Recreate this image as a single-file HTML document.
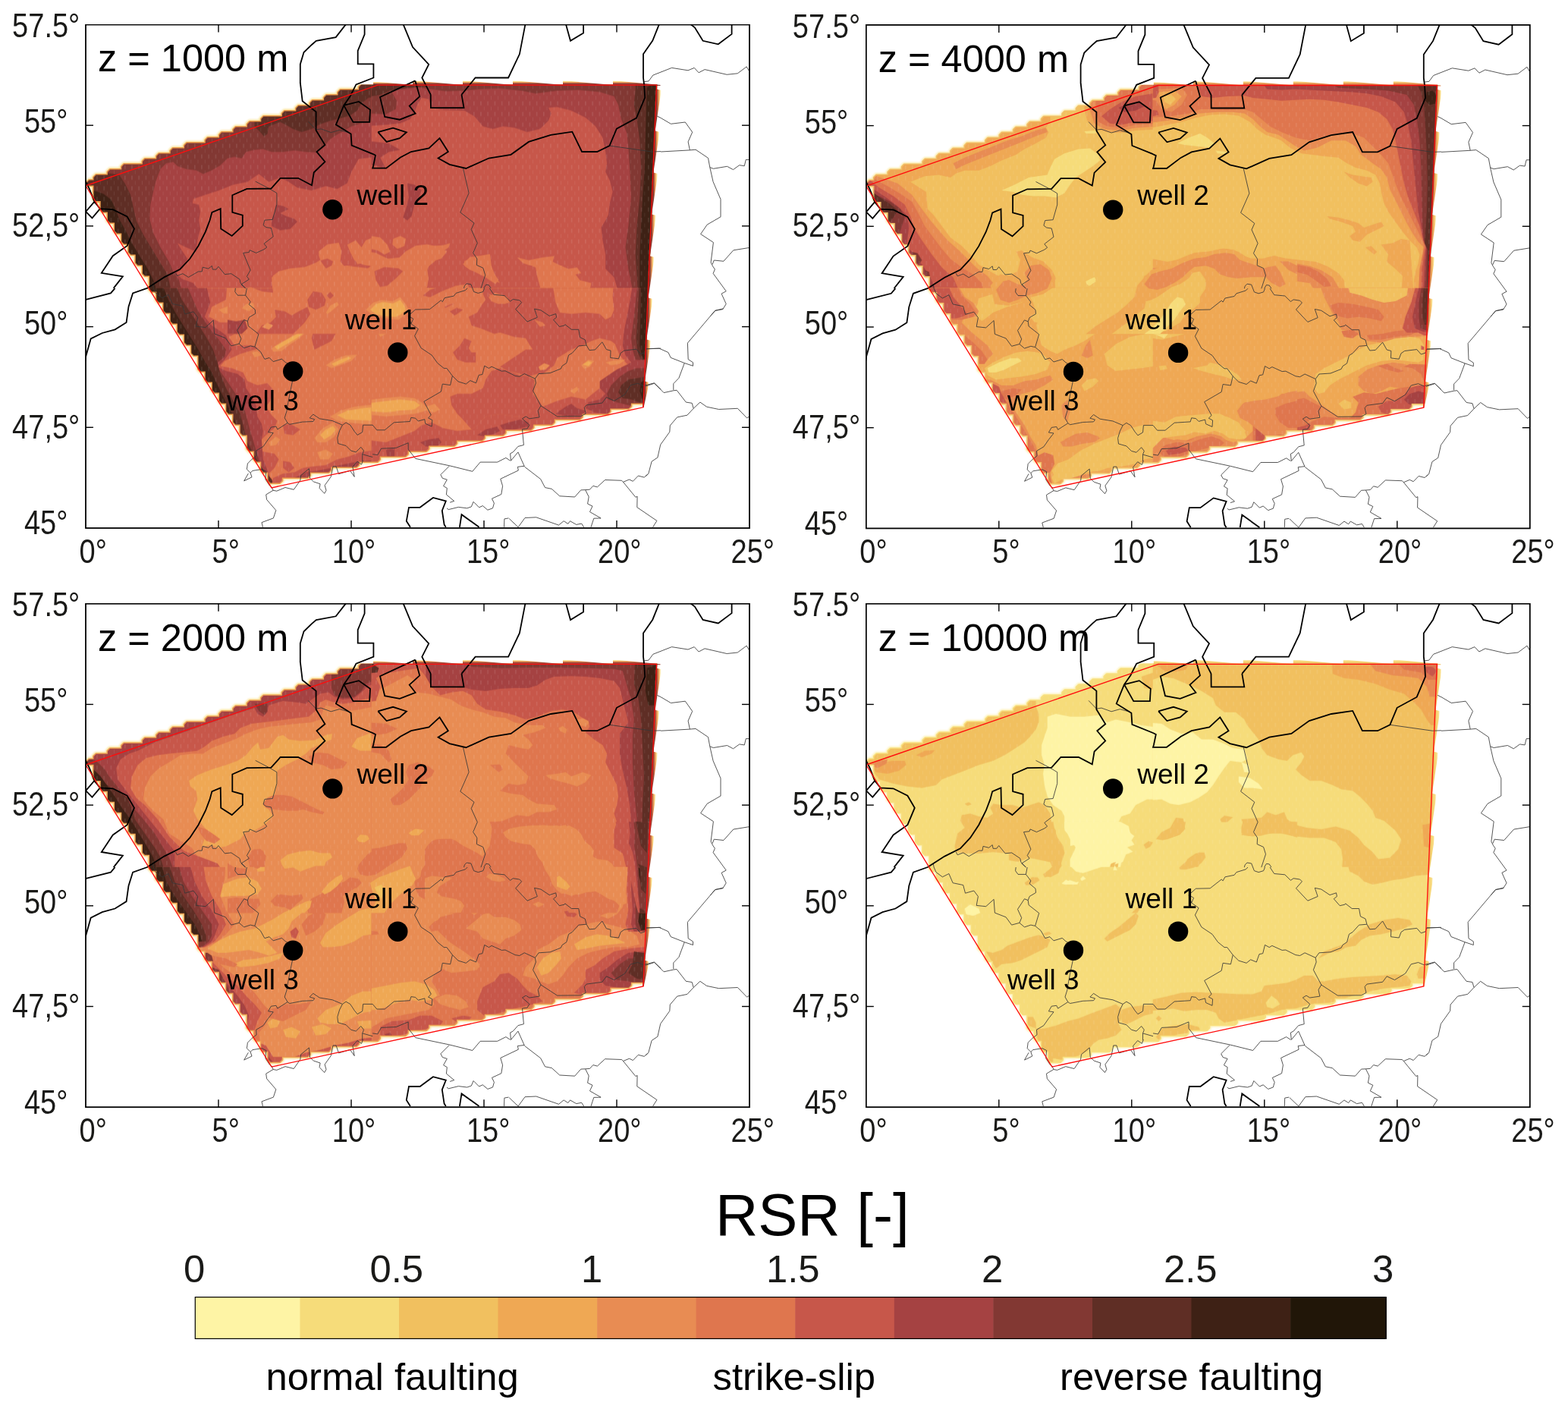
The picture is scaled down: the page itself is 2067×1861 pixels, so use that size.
<!DOCTYPE html>
<html lang="en"><head><meta charset="utf-8"><title>RSR maps</title>
<style>html,body{margin:0;padding:0;background:#fff}body{width:2067px;height:1861px;overflow:hidden}svg{display:block}text{font-family:"Liberation Sans",Arial,Helvetica,sans-serif;fill:#1a1a18}.tk{font-size:44px}.ti{font-size:50.5px;fill:#000}.wl{font-size:37px;fill:#000}.cb{font-size:50.8px}.coast{fill:none;stroke:#000;stroke-width:1.8;stroke-linejoin:miter}.bord{fill:none;stroke:#383838;stroke-width:0.85;stroke-linejoin:miter}.frame{fill:none;stroke:#000;stroke-width:1.8}.tick{stroke:#000;stroke-width:1.4}</style></head><body>
<svg xmlns="http://www.w3.org/2000/svg" width="2067" height="1861" viewBox="0 0 2067 1861">
<rect width="2067" height="1861" fill="#fff"/>
<g transform="translate(113 32.5)">
<clipPath id="cp1"><rect x="0" y="0" width="875" height="663.5"/></clipPath>
<g clip-path="url(#cp1)">
<filter id="bl1" x="-5%" y="-5%" width="110%" height="110%"><feGaussianBlur stdDeviation="0.7"/></filter>
<filter id="bh1" x="-5%" y="-5%" width="110%" height="110%"><feGaussianBlur stdDeviation="1.1"/></filter>
<clipPath id="hp1"><polygon points="-60,78.9 753.4,78.9 727,720 -60,720"/></clipPath>
<mask id="mk1" maskUnits="userSpaceOnUse" x="-20" y="-20" width="915" height="703.5"><g clip-path="url(#hp1)"><path d="M381.6 72L378.5 75.2L378.5 79L363.2 79L360.1 82.2L360.1 86L335.6 86L332.5 89.2L332.5 93L317.2 93L314.1 96.2L314.1 100L298.8 100L295.7 103.2L295.7 107L280.4 107L277.3 110.2L277.3 114L262 114L258.9 117.2L258.9 121L234.4 121L231.3 124.2L231.3 128L216.1 128L212.9 131.2L212.9 135L197.7 135L194.5 138.2L194.5 142L179.2 142L176.1 145.2L176.1 149L160.8 149L157.7 152.2L157.7 156L133.2 156L130.1 159.2L130.1 163L114.8 163L111.7 166.2L111.7 170L96.5 170L93.3 173.2L93.3 177L78 177L74.9 180.2L74.9 184L50.4 184L47.3 187.2L47.3 191L32 191L28.9 194.2L28.9 198L13.7 198L10.5 201.2L10.5 205L4.5 205L1.3 208.2L1.3 208.8L4.5 212L10.5 212L10.5 219L10.5 226L10.5 229.8L13.7 233L19.7 233L19.7 240L19.7 243.8L22.8 247L28.9 247L28.9 254L28.9 257.9L32 261L38.1 261L38.1 268L38.1 271.9L41.2 275L47.3 275L47.3 282L47.3 285.9L50.4 289L56.5 289L56.5 296L56.5 299.9L59.6 303L65.7 303L65.7 310L65.7 313.9L68.8 317L74.9 317L74.9 324L74.9 327.9L78 331L84.1 331L84.1 338L84.1 345L84.1 348.9L87.2 352L93.3 352L93.3 359L93.3 362.9L96.5 366L102.5 366L102.5 373L102.5 376.9L105.6 380L111.7 380L111.7 387L111.7 390.9L114.8 394L120.9 394L120.9 401L120.9 404.9L124 408L130.1 408L130.1 415L130.1 418.9L133.2 422L139.3 422L139.3 429L139.3 432.9L142.5 436L148.5 436L148.5 443L148.5 450L148.5 453.9L151.7 457L157.7 457L157.7 464L157.7 467.9L160.8 471L166.9 471L166.9 478L166.9 481.9L170.1 485L176.1 485L176.1 492L176.1 495.9L179.2 499L185.3 499L185.3 506L185.3 509.9L188.5 513L194.5 513L194.5 520L194.5 523.9L197.7 527L203.7 527L203.7 534L203.7 537.9L206.8 541L212.9 541L212.9 548L212.9 555L212.9 558.9L216.1 562L222.1 562L222.1 569L222.1 572.9L225.2 576L231.3 576L231.3 583L231.3 586.9L234.4 590L240.5 590L240.5 597L240.5 600.9L243.7 604L255.7 604L258.9 600.9L258.9 597L292.6 597L295.7 593.9L295.7 590L320.2 590L323.3 586.9L323.3 583L356.9 583L360.1 579.9L360.1 576L384.6 576L387.7 572.9L387.7 569L421.4 569L424.5 565.9L424.5 562L448.9 562L452.1 558.9L452.1 555L485.8 555L488.9 551.9L488.9 548L522.5 548L525.7 544.9L525.7 541L550.1 541L553.3 537.9L553.3 534L586.9 534L590.1 530.9L590.1 527L614.5 527L617.7 523.9L617.7 520L651.3 520L654.5 516.9L654.5 513L688.1 513L691.3 509.9L691.3 506L715.7 506L718.9 502.9L718.9 499L743.3 499L746.5 495.9L746.5 492L746.5 485L746.5 478L746.5 471L746.5 464L746.5 457L746.5 450L746.5 443L746.5 436L746.5 429L746.5 422L746.5 415L746.5 408L746.5 401L746.5 394L746.5 387L746.5 380L746.5 373L746.5 366L746.5 359L746.5 352L752.5 352L755.7 348.9L755.7 345L755.7 338L755.7 331L755.7 324L755.7 317L755.7 310L755.7 303L755.7 296L755.7 289L755.7 282L755.7 275L755.7 268L755.7 261L755.7 254L755.7 247L755.7 240L755.7 233L755.7 226L755.7 219L755.7 212L755.7 205L755.7 198L755.7 191L755.7 184L755.7 177L755.7 170L755.7 163L755.7 156L755.7 149L755.7 142L755.7 135L755.7 128L761.7 128L764.9 124.8L764.9 121L764.9 114L764.9 107L764.9 100L764.9 93L764.9 86L764.9 79L764.9 75.2L761.7 72Z" fill="#fff" filter="url(#bl1)"/></g></mask>
<pattern id="tx1" width="9.2" height="14" patternUnits="userSpaceOnUse" x="1.3" y="2"><rect x="4" y="1" width="1" height="5.5" fill="#fff" opacity="0.16"/><rect x="8.6" y="8" width="1" height="5" fill="#fff" opacity="0.13"/></pattern>
<g clip-path="url(#hp1)"><path d="M381.6 72L378.5 75.2L378.5 79L363.2 79L360.1 82.2L360.1 86L335.6 86L332.5 89.2L332.5 93L317.2 93L314.1 96.2L314.1 100L298.8 100L295.7 103.2L295.7 107L280.4 107L277.3 110.2L277.3 114L262 114L258.9 117.2L258.9 121L234.4 121L231.3 124.2L231.3 128L216.1 128L212.9 131.2L212.9 135L197.7 135L194.5 138.2L194.5 142L179.2 142L176.1 145.2L176.1 149L160.8 149L157.7 152.2L157.7 156L133.2 156L130.1 159.2L130.1 163L114.8 163L111.7 166.2L111.7 170L96.5 170L93.3 173.2L93.3 177L78 177L74.9 180.2L74.9 184L50.4 184L47.3 187.2L47.3 191L32 191L28.9 194.2L28.9 198L13.7 198L10.5 201.2L10.5 205L4.5 205L1.3 208.2L1.3 208.8L4.5 212L10.5 212L10.5 219L10.5 226L10.5 229.8L13.7 233L19.7 233L19.7 240L19.7 243.8L22.8 247L28.9 247L28.9 254L28.9 257.9L32 261L38.1 261L38.1 268L38.1 271.9L41.2 275L47.3 275L47.3 282L47.3 285.9L50.4 289L56.5 289L56.5 296L56.5 299.9L59.6 303L65.7 303L65.7 310L65.7 313.9L68.8 317L74.9 317L74.9 324L74.9 327.9L78 331L84.1 331L84.1 338L84.1 345L84.1 348.9L87.2 352L93.3 352L93.3 359L93.3 362.9L96.5 366L102.5 366L102.5 373L102.5 376.9L105.6 380L111.7 380L111.7 387L111.7 390.9L114.8 394L120.9 394L120.9 401L120.9 404.9L124 408L130.1 408L130.1 415L130.1 418.9L133.2 422L139.3 422L139.3 429L139.3 432.9L142.5 436L148.5 436L148.5 443L148.5 450L148.5 453.9L151.7 457L157.7 457L157.7 464L157.7 467.9L160.8 471L166.9 471L166.9 478L166.9 481.9L170.1 485L176.1 485L176.1 492L176.1 495.9L179.2 499L185.3 499L185.3 506L185.3 509.9L188.5 513L194.5 513L194.5 520L194.5 523.9L197.7 527L203.7 527L203.7 534L203.7 537.9L206.8 541L212.9 541L212.9 548L212.9 555L212.9 558.9L216.1 562L222.1 562L222.1 569L222.1 572.9L225.2 576L231.3 576L231.3 583L231.3 586.9L234.4 590L240.5 590L240.5 597L240.5 600.9L243.7 604L255.7 604L258.9 600.9L258.9 597L292.6 597L295.7 593.9L295.7 590L320.2 590L323.3 586.9L323.3 583L356.9 583L360.1 579.9L360.1 576L384.6 576L387.7 572.9L387.7 569L421.4 569L424.5 565.9L424.5 562L448.9 562L452.1 558.9L452.1 555L485.8 555L488.9 551.9L488.9 548L522.5 548L525.7 544.9L525.7 541L550.1 541L553.3 537.9L553.3 534L586.9 534L590.1 530.9L590.1 527L614.5 527L617.7 523.9L617.7 520L651.3 520L654.5 516.9L654.5 513L688.1 513L691.3 509.9L691.3 506L715.7 506L718.9 502.9L718.9 499L743.3 499L746.5 495.9L746.5 492L746.5 485L746.5 478L746.5 471L746.5 464L746.5 457L746.5 450L746.5 443L746.5 436L746.5 429L746.5 422L746.5 415L746.5 408L746.5 401L746.5 394L746.5 387L746.5 380L746.5 373L746.5 366L746.5 359L746.5 352L752.5 352L755.7 348.9L755.7 345L755.7 338L755.7 331L755.7 324L755.7 317L755.7 310L755.7 303L755.7 296L755.7 289L755.7 282L755.7 275L755.7 268L755.7 261L755.7 254L755.7 247L755.7 240L755.7 233L755.7 226L755.7 219L755.7 212L755.7 205L755.7 198L755.7 191L755.7 184L755.7 177L755.7 170L755.7 163L755.7 156L755.7 149L755.7 142L755.7 135L755.7 128L761.7 128L764.9 124.8L764.9 121L764.9 114L764.9 107L764.9 100L764.9 93L764.9 86L764.9 79L764.9 75.2L761.7 72Z" fill="#fbe6a0" stroke="#fbe6a0" stroke-width="6" stroke-linejoin="round" filter="url(#bh1)"/><path d="M381.6 72L378.5 75.2L378.5 79L363.2 79L360.1 82.2L360.1 86L335.6 86L332.5 89.2L332.5 93L317.2 93L314.1 96.2L314.1 100L298.8 100L295.7 103.2L295.7 107L280.4 107L277.3 110.2L277.3 114L262 114L258.9 117.2L258.9 121L234.4 121L231.3 124.2L231.3 128L216.1 128L212.9 131.2L212.9 135L197.7 135L194.5 138.2L194.5 142L179.2 142L176.1 145.2L176.1 149L160.8 149L157.7 152.2L157.7 156L133.2 156L130.1 159.2L130.1 163L114.8 163L111.7 166.2L111.7 170L96.5 170L93.3 173.2L93.3 177L78 177L74.9 180.2L74.9 184L50.4 184L47.3 187.2L47.3 191L32 191L28.9 194.2L28.9 198L13.7 198L10.5 201.2L10.5 205L4.5 205L1.3 208.2L1.3 208.8L4.5 212L10.5 212L10.5 219L10.5 226L10.5 229.8L13.7 233L19.7 233L19.7 240L19.7 243.8L22.8 247L28.9 247L28.9 254L28.9 257.9L32 261L38.1 261L38.1 268L38.1 271.9L41.2 275L47.3 275L47.3 282L47.3 285.9L50.4 289L56.5 289L56.5 296L56.5 299.9L59.6 303L65.7 303L65.7 310L65.7 313.9L68.8 317L74.9 317L74.9 324L74.9 327.9L78 331L84.1 331L84.1 338L84.1 345L84.1 348.9L87.2 352L93.3 352L93.3 359L93.3 362.9L96.5 366L102.5 366L102.5 373L102.5 376.9L105.6 380L111.7 380L111.7 387L111.7 390.9L114.8 394L120.9 394L120.9 401L120.9 404.9L124 408L130.1 408L130.1 415L130.1 418.9L133.2 422L139.3 422L139.3 429L139.3 432.9L142.5 436L148.5 436L148.5 443L148.5 450L148.5 453.9L151.7 457L157.7 457L157.7 464L157.7 467.9L160.8 471L166.9 471L166.9 478L166.9 481.9L170.1 485L176.1 485L176.1 492L176.1 495.9L179.2 499L185.3 499L185.3 506L185.3 509.9L188.5 513L194.5 513L194.5 520L194.5 523.9L197.7 527L203.7 527L203.7 534L203.7 537.9L206.8 541L212.9 541L212.9 548L212.9 555L212.9 558.9L216.1 562L222.1 562L222.1 569L222.1 572.9L225.2 576L231.3 576L231.3 583L231.3 586.9L234.4 590L240.5 590L240.5 597L240.5 600.9L243.7 604L255.7 604L258.9 600.9L258.9 597L292.6 597L295.7 593.9L295.7 590L320.2 590L323.3 586.9L323.3 583L356.9 583L360.1 579.9L360.1 576L384.6 576L387.7 572.9L387.7 569L421.4 569L424.5 565.9L424.5 562L448.9 562L452.1 558.9L452.1 555L485.8 555L488.9 551.9L488.9 548L522.5 548L525.7 544.9L525.7 541L550.1 541L553.3 537.9L553.3 534L586.9 534L590.1 530.9L590.1 527L614.5 527L617.7 523.9L617.7 520L651.3 520L654.5 516.9L654.5 513L688.1 513L691.3 509.9L691.3 506L715.7 506L718.9 502.9L718.9 499L743.3 499L746.5 495.9L746.5 492L746.5 485L746.5 478L746.5 471L746.5 464L746.5 457L746.5 450L746.5 443L746.5 436L746.5 429L746.5 422L746.5 415L746.5 408L746.5 401L746.5 394L746.5 387L746.5 380L746.5 373L746.5 366L746.5 359L746.5 352L752.5 352L755.7 348.9L755.7 345L755.7 338L755.7 331L755.7 324L755.7 317L755.7 310L755.7 303L755.7 296L755.7 289L755.7 282L755.7 275L755.7 268L755.7 261L755.7 254L755.7 247L755.7 240L755.7 233L755.7 226L755.7 219L755.7 212L755.7 205L755.7 198L755.7 191L755.7 184L755.7 177L755.7 170L755.7 163L755.7 156L755.7 149L755.7 142L755.7 135L755.7 128L761.7 128L764.9 124.8L764.9 121L764.9 114L764.9 107L764.9 100L764.9 93L764.9 86L764.9 79L764.9 75.2L761.7 72Z" fill="#eea050" stroke="#eea050" stroke-width="3" stroke-linejoin="round" filter="url(#bl1)"/></g>
<linearGradient id="gt1" x1="0" y1="0" x2="0" y2="1"><stop offset="0" stop-color="#fff3b0" stop-opacity="0"/><stop offset="0.2" stop-color="#f8d878" stop-opacity="0.9"/><stop offset="0.4" stop-color="#e08850"/><stop offset="0.6" stop-color="#8a4038"/><stop offset="1" stop-color="#8a4038"/></linearGradient>
<linearGradient id="gr1" x1="0" y1="0" x2="1" y2="0"><stop offset="0" stop-color="#8a4038"/><stop offset="0.4" stop-color="#8a4038"/><stop offset="0.6" stop-color="#e08850"/><stop offset="0.8" stop-color="#f8d878" stop-opacity="0.9"/><stop offset="1" stop-color="#fff3b0" stop-opacity="0"/></linearGradient>
<path d="M379 80.6 L379 74.9 L431 79.6 L431 80.6Z" fill="url(#gt1)"/>
<path d="M431 80.6 L431 73.6 L497 79.6 L497 80.6Z" fill="url(#gt1)"/>
<path d="M497 80.6 L497 73.6 L563 79.6 L563 80.6Z" fill="url(#gt1)"/>
<path d="M563 80.6 L563 73.6 L629 79.6 L629 80.6Z" fill="url(#gt1)"/>
<path d="M629 80.6 L629 73.6 L695 79.6 L695 80.6Z" fill="url(#gt1)"/>
<path d="M695 80.6 L695 73.6 L757.5 79.5 L757.5 80.6Z" fill="url(#gt1)"/>
<path d="M751.3 84.6 L758.8 86.6 L750.7 139.6 L749 139.6Z" fill="url(#gr1)"/>
<path d="M749 139.6 L756.5 141.6 L748.4 194.6 L746.8 194.6Z" fill="url(#gr1)"/>
<path d="M746.8 194.6 L754.3 196.6 L746.1 249.6 L744.5 249.6Z" fill="url(#gr1)"/>
<path d="M744.5 249.6 L752 251.6 L743.9 304.6 L742.2 304.6Z" fill="url(#gr1)"/>
<path d="M742.2 304.6 L749.7 306.6 L741.6 359.6 L740 359.6Z" fill="url(#gr1)"/>
<path d="M740 359.6 L747.5 361.6 L739.3 414.6 L737.7 414.6Z" fill="url(#gr1)"/>
<path d="M737.7 414.6 L745.2 416.6 L737.1 469.6 L735.4 469.6Z" fill="url(#gr1)"/>
<path d="M735.4 469.6 L742.9 471.6 L735.6 504.3 L734 504.3Z" fill="url(#gr1)"/>
<g mask="url(#mk1)">
<clipPath id="q1_0"><rect x="-13.3" y="63.2" width="390.6" height="284.6"/></clipPath>
<g clip-path="url(#q1_0)">
<rect x="-14" y="62.5" width="392" height="286" fill="#c7574a"/>
<polygon points="156.7,358.8 141.7,340.6 126.7,335 119.2,327.5 128.6,319.9 134.2,308.7 126.7,297.4 121,288 128.6,291.7 145.5,299.3 147.3,284.2 151.1,269.2 149.2,257.9 151.1,246.6 149.2,237.2 140.8,235.4 141.7,229.7 158.6,224.1 175.5,218.4 194.3,210.9 213.1,207.2 228.2,196.8 241.3,207.2 256.3,201.5 267.6,207.2 278.9,214.7 297.7,218.4 316.5,212.8 331.5,216.6 344.7,209.1 350.3,194 359.7,177.1 388.3,173.3 388.3,62.5 -14.3,62.5 -14.3,358.8" fill="#a54242"/>
<polygon points="128.6,358.8 122.9,336.8 115.4,325.6 109.8,312.4 98.5,293.6 89.1,274.8 84.4,256 85.3,237.2 89.1,220.3 92.8,205.3 98.5,190.3 106,182.7 115.4,180.9 121,186.5 132.3,190.3 145.5,192.1 154.9,196.8 166.1,192.1 177.4,185.6 186.8,176.2 196.2,174.3 205.6,176.2 211.2,167.7 222.5,164.9 233.8,163.9 245.1,167.7 260.1,167.7 275.1,165.8 290.2,167.7 305.2,168.6 314.6,160.2 320.2,152.7 327.8,147 340.9,139.5 350.3,133.9 363.5,130.1 388.3,127.3 388.3,62.5 -14.3,62.5 -14.3,358.8" fill="#823833"/>
<polygon points="114.5,358.8 107.9,329.3 98.5,314.3 87.2,295.5 75.9,276.7 66.5,257.9 62.8,241 59,224.1 51.5,209.1 44,197.8 -14.3,190.3 -14.3,358.8" fill="#5f2e25"/>
<polygon points="222.5,133.9 230,141.4 234.7,147 239.4,144.2 241.3,133.9 256.3,128.2 263.9,132 273.3,137.6 284.5,141.4 297.7,137.6 307.1,132 320.2,127.3 335.3,123.5 348.4,119.8 357.8,113.2 363.5,103.8 372.9,96.3 388.3,94.4 388.3,62.5 222.5,62.5" fill="#5f2e25"/>
<polygon points="1.1,212.4 10.2,218.4 23.3,223.1 33.6,230.7 39.3,242.9 44,256 53.4,273 60.9,288 72.2,306.8 81.6,321.8 89.1,336.8 96.6,358.8 -14.3,358.8 -14.3,209.1" fill="#3e2115"/>
<polygon points="307.1,299.3 320.2,291.7 333.4,288 337.2,299.3 331.5,310.5 324,312.4 316.5,319.9 310.8,310.5" fill="#df764e"/>
<polygon points="344.7,289.9 356,284.2 363.5,293.6 369.1,284.2 388.3,276.7 388.3,321.8 365.3,316.2 354.1,310.5 348.4,299.3" fill="#df764e"/>
<polygon points="245.1,333.1 260.1,325.6 278.9,321.8 297.7,319.9 312.7,312.4 316.5,321.8 327.8,319.9 344.7,318.1 363.5,319.9 388.3,323.7 388.3,358.8 247,358.8" fill="#df764e"/>
<polygon points="250.7,237.2 260.1,239.1 267.6,242.9 260.1,246.6 256.3,248.5 263.9,252.3 275.1,256 278.9,259.8 269.5,269.2 256.3,271.1 245.1,265.4 245.1,256 248.8,248.5" fill="#a54242"/>
</g>
<clipPath id="q1_1"><rect x="376.7" y="63.2" width="390.6" height="284.6"/></clipPath>
<g clip-path="url(#q1_1)">
<rect x="376" y="62.5" width="392" height="286" fill="#c7574a"/>
<polygon points="365.7,62.5 365.7,133.9 395.8,132 414.6,130.1 427.7,124.5 433.4,115.1 437.1,105.7 442.8,96.3 452.2,98.2 455.9,109.4 471,112.3 499.2,113.2 512.3,120.7 523.6,133.9 536.7,137.6 549.9,133.9 564.9,135.8 581.8,141.4 598.8,137.6 610,126.4 613.8,117 610,109.4 621.3,108.5 640.1,113.2 658.9,122.6 672.1,133.9 681.5,148.9 685.2,167.7 687.1,182.7 685.2,194 690.8,205.3 694.6,220.3 690.8,235.4 689,250.4 685.2,257.9 679.6,267.3 681.5,284.2 685.2,303 685.2,321.8 696.5,333.1 704,358.8 768.3,358.8 768.3,62.5" fill="#a54242"/>
<polygon points="365.7,152.7 399.6,156.4 414.6,164.9 399.6,167.7 388.3,175.2 395.8,190.3 384.5,186.5 365.7,182.7" fill="#a54242"/>
<polygon points="424,209.1 433.4,210.9 442.8,218.4 439,227.8 433.4,237.2 429.6,252.3 424,257.9 418.3,254.2 422.1,242.9 425.9,227.8" fill="#a54242"/>
<polygon points="365.7,62.5 365.7,117 395.8,117.9 408.9,111.3 409.9,100.1 403.3,88.8 414.6,85 439,83.1 455.9,85 474.7,87.8 497.3,86.9 517.9,85 546.1,84.1 574.3,86.9 593.1,90.7 621.3,86.9 649.5,86 677.7,88.8 696.5,94.4 702.1,105.7 705.9,124.5 713.4,143.3 715.3,162.1 717.2,190.3 719,227.8 715.3,265.4 711.5,293.6 715.3,321.8 722.8,358.8 768.3,358.8 768.3,62.5" fill="#823833"/>
<polygon points="724.7,85 722.8,105.7 726.6,124.5 730.3,152.7 732.2,190.3 730.3,227.8 726.6,265.4 724.7,303 728.4,358.8 768.3,358.8 768.3,62.5 724.7,62.5" fill="#5f2e25"/>
<polygon points="365.7,62.5 365.7,96.3 388.3,92.5 401.4,86.9 424,83.1 448.4,81.3 448.4,62.5" fill="#5f2e25"/>
<polygon points="739.7,83.1 738.8,115.1 737.8,152.7 736.9,190.3 734.1,227.8 732.2,265.4 730.3,303 730.3,358.8 768.3,358.8 768.3,62.5" fill="#3e2115"/>
<polygon points="365.7,276.7 388.3,280.5 397.7,289.9 401.4,299.3 393.9,303 384.5,297.4 365.7,293.6" fill="#df764e"/>
<polygon points="405.2,282.3 414.6,278.6 422.1,282.3 420.2,291.7 410.8,295.5 404.3,289.9" fill="#df764e"/>
<polygon points="365.7,310.5 395.8,308.7 414.6,306.8 424,299.3 437.1,293.6 455.9,291.7 471,290.8 480.4,288 478.5,293.6 465.3,303 459.7,312.4 452.2,318.1 448.4,327.5 442.8,340.6 437.1,358.8 401.4,358.8 408.9,336.8 418.3,325.6 405.2,319.9 388.3,319.9 365.7,323.7" fill="#df764e"/>
<polygon points="499.2,311.5 516.1,305.8 533,303 534.9,318.1 540.5,333.1 546.1,340.6 536.7,336.8 523.6,331.2 508.6,323.7 499.2,318.1" fill="#df764e"/>
<polygon points="568.7,306.8 583.7,310.5 602.5,306.8 617.6,304.9 615.7,312.4 627,318.1 636.3,321.8 647.6,319.9 653.3,327.5 645.7,329.3 651.4,336.8 666.4,340.6 662.7,358.8 602.5,358.8 595,331.2 593.1,319.9 576.2,314.3" fill="#df764e"/>
</g>
<clipPath id="q1_2"><rect x="-13.3" y="347.2" width="390.6" height="270.6"/></clipPath>
<g clip-path="url(#q1_2)">
<rect x="-14" y="346.5" width="392" height="272" fill="#df764e"/>
<polygon points="-14.3,332.5 187,332.5 184.9,362.5 166.1,371.9 162.4,385.1 177.4,392.6 200,392.6 203.7,403.9 188.7,411.4 196.2,422.7 218.8,422.7 228.2,426.4 203.7,433.9 183.1,443.3 177.4,449.9 192.5,452.7 207.5,458.4 213.1,469.7 226.3,475.3 239.4,472.5 247,480.9 243.2,496 237.6,503.5 245.1,514.8 252.6,522.3 248.8,531.7 237.6,541.1 228.2,550.5 224.4,559.9 237.6,563.6 248.8,565.5 254.5,573 248.8,584.3 241.3,591.8 248.8,628.8 -14.3,628.8" fill="#c7574a"/>
<polygon points="-14.3,332.5 156.7,332.5 162.4,358.8 164.3,366.3 160.5,375.7 156.7,385.1 166.1,396.4 177.4,403.9 184.9,409.5 192.5,428.3 183.1,441.5 173.7,450.9 184.9,456.5 200,460.3 209.4,467.8 211.2,479.1 218.8,490.3 224.4,501.6 226.3,516.6 231.9,526 233.8,535.4 231.9,546.7 233.8,573 241.3,591.8 247,610.6 -14.3,628.8" fill="#a54242"/>
<polygon points="-14.3,332.5 128.6,332.5 139.8,358.8 147.3,375.7 153,385.1 166.1,403.9 175.5,415.2 184.9,428.3 183.1,437.7 173.7,445.2 175.5,454.6 184.9,467.8 192.5,479.1 200,490.3 209.4,507.2 216.9,535.4 222.5,554.2 228.2,573 231.9,584.3 245.1,599.3 248.8,610.6 -14.3,628.8" fill="#823833"/>
<polygon points="-14.3,332.5 114.5,332.5 126.7,362.5 137.9,379.4 149.2,396.4 158.6,411.4 168,428.3 173.7,445.2 177.4,460.3 184.9,479.1 194.3,496 203.7,512.9 209.4,535.4 213.1,550.5 225.3,573 233.8,586.2 245.1,599.3 248.8,610.6 -14.3,628.8" fill="#5f2e25"/>
<polygon points="-14.3,332.5 96.6,332.5 109.8,364.4 119.2,381.3 128.6,396.4 137.9,411.4 147.3,426.4 156.7,443.3 166.1,458.4 173.7,475.3 181.2,490.3 188.7,505.4 194.3,516.6 200.9,535.4 199,539.2 -14.3,628.8" fill="#3e2115"/>
<polygon points="247,597.5 260.1,591.8 275.1,589.9 286.4,584.3 297.7,582.4 316.5,580.5 331.5,573 346.6,569.3 361.6,563.6 388.3,559.9 388.3,628.8 241.3,628.8" fill="#c7574a"/>
<polygon points="275.1,597.5 290.2,589.9 305.2,588.1 324,584.3 335.3,580.5 354.1,576.8 388.3,573 388.3,628.8 260.1,628.8" fill="#a54242"/>
<polygon points="213.1,332.5 248.8,332.5 260.1,358.8 278.9,362.5 293.9,358.8 301.5,351.3 316.5,353.1 314.6,364.4 297.7,373.8 290.2,385.1 275.1,392.6 260.1,390.7 248.8,383.2 247,373.8 231.9,366.3 218.8,358.8" fill="#c7574a"/>
<polygon points="301.5,400.1 316.5,392.6 333.4,385.1 327.8,396.4 331.5,403.9 324,417 312.7,422.7 301.5,428.3 297.7,413.3" fill="#c7574a"/>
<polygon points="260.1,527.9 269.5,526 282.7,533.6 273.3,541.1 262,539.2" fill="#c7574a"/>
<polygon points="260.1,574.9 269.5,576.8 275.1,584.3 267.6,589.9 260.1,584.3" fill="#c7574a"/>
<polygon points="175.5,375.7 194.3,368.2 207.5,366.3 218.8,370.1 222.5,375.7 213.1,381.3 194.3,381.3 181.2,380.4" fill="#e88c53"/>
<polygon points="231.9,396.4 239.4,392.6 247,398.2 241.3,403.9 233.8,402.9" fill="#e88c53"/>
<polygon points="245.1,426.4 256.3,418.9 267.6,413.3 278.9,405.8 290.2,402 288.3,407.6 278.9,415.2 267.6,422.7 258.2,430.2 247,431.1" fill="#e88c53"/>
<polygon points="218.8,432.1 226.3,430.2 231.9,435.8 222.5,438.6" fill="#e88c53"/>
<polygon points="316.5,449 327.8,441.5 342.8,435.8 357.8,434.9 350.3,443.3 335.3,449 324,452.7" fill="#e88c53"/>
<polygon points="322.1,516.6 335.3,509.1 354.1,503.5 388.3,499.7 388.3,527.9 363.5,526 344.7,524.2 331.5,522.3" fill="#e88c53"/>
<polygon points="301.5,544.8 312.7,531.7 325.9,524.2 333.4,533.6 327.8,543 316.5,550.5 305.2,550.5" fill="#e88c53"/>
<polygon points="241.3,550.5 250.7,543 256.3,546.7 250.7,554.2 243.2,555.2" fill="#e88c53"/>
<polygon points="305.2,563.6 316.5,559.9 325.9,565.5 320.2,573 309,573" fill="#e88c53"/>
<polygon points="316.5,377.6 327.8,368.2 333.4,366.3 329.6,375.7 320.2,381.3" fill="#e88c53"/>
<polygon points="203.7,370.1 215,368.2 220.6,373.8 213.1,378.5 203.7,377.6" fill="#efa854"/>
<polygon points="248.8,424.6 260.1,418 271.4,411.4 282.7,405.8 286.4,407.6 275.1,415.2 263.9,421.7 252.6,428.3" fill="#efa854"/>
<polygon points="324,447.1 335.3,441.5 346.6,437.7 350.3,439.6 339,445.2 327.8,449.9" fill="#efa854"/>
<polygon points="331.5,514.8 344.7,509.1 363.5,505.4 388.3,503.5 388.3,522.3 359.7,521.3 342.8,520.4" fill="#efa854"/>
<polygon points="309,541.1 316.5,533.6 325.9,528.9 329.6,533.6 324,541.1 314.6,546.7" fill="#efa854"/>
</g>
<clipPath id="q1_3"><rect x="376.7" y="347.2" width="390.6" height="270.6"/></clipPath>
<g clip-path="url(#q1_3)">
<rect x="376" y="346.5" width="392" height="272" fill="#df764e"/>
<polygon points="442.8,358.8 455.9,353.1 474.7,349.4 489.8,332.5 504.8,332.5 501,351.3 486,356.9 471,362.5 455.9,362.5 444.7,362.5" fill="#c7574a"/>
<polygon points="472.8,371.9 482.2,368.2 493.5,366.3 489.8,373.8 497.3,375.7 489.8,381.3 486,383.2" fill="#c7574a"/>
<polygon points="523.6,332.5 768.3,332.5 768.3,422.7 700.2,422.7 692.7,417 677.7,413.3 666.4,417 655.1,422.7 640.1,428.3 630.7,433.9 621.3,439.6 617.6,449 602.5,460.3 595,460.3 583.7,464 572.5,460.3 557.4,456.5 546.1,450.9 557.4,443.3 568.7,435.8 580,428.3 589.4,428.3 585.6,422.7 580,413.3 564.9,411.4 546.1,405.8 538.6,407.6 519.8,400.1 508.6,396.4 504.8,385.1 516.1,379.4 521.7,370.1 527.3,362.5 523.6,355" fill="#c7574a"/>
<polygon points="613.8,332.5 696.5,332.5 694.6,358.8 696.5,375.7 692.7,385.1 685.2,388.8 677.7,381.3 658.9,379.4 640.1,381.3 625.1,379.4 619.4,366.3" fill="#df764e"/>
<polygon points="591.2,388.8 602.5,392.6 606.3,396.4 598.8,398.2" fill="#df764e"/>
<polygon points="531.1,355 546.1,358.8 557.4,366.3 551.8,368.2 538.6,366.3" fill="#df764e"/>
<polygon points="484.1,432.1 493.5,422.7 499.2,413.3 508.6,417 504.8,426.4 508.6,432.1 514.2,432.1 514.2,445.2 501,445.2 489.8,441.5" fill="#c7574a"/>
<polygon points="480.4,490.3 489.8,486.6 508.6,486.6 523.6,479.1 527.3,467.8 534.9,456.5 546.1,452.7 557.4,456.5 572.5,462.1 583.7,464 591.2,467.8 591.2,479.1 589.4,486.6 598.8,497.8 602.5,503.5 583.7,511 576.2,516.6 564.9,516.6 546.1,512.9 527.3,516.6 516.1,527.9 508.6,533.6 497.3,520.4 489.8,512.9 482.2,501.6" fill="#c7574a"/>
<polygon points="365.7,546.7 395.8,550.5 414.6,543 433.4,535.4 442.8,527.9 455.9,524.2 471,531.7 489.8,535.4 508.6,533.6 516.1,527.9 527.3,516.6 546.1,512.9 564.9,516.6 576.2,516.6 583.7,511 602.5,503.5 621.3,496 640.1,490.3 658.9,494.1 677.7,479.1 696.5,469.7 768.3,460.3 768.3,628.8 365.7,628.8" fill="#c7574a"/>
<polygon points="440.9,550.5 452.2,546.7 465.3,544.8 469.1,550.5 463.4,556.1 448.4,556.1" fill="#a54242"/>
<polygon points="395.8,559.9 407.1,558 407.1,569.3 397.7,571.1" fill="#a54242"/>
<polygon points="516.1,541.1 527.3,533.6 542.4,529.8 546.1,535.4 538.6,539.2 527.3,543" fill="#a54242"/>
<polygon points="546.1,527.9 557.4,524.2 572.5,520.4 583.7,524.2 583.7,529.8 564.9,533.6 549.9,533.6" fill="#a54242"/>
<polygon points="619.4,512.9 632.6,503.5 640.1,499.7 647.6,505.4 658.9,509.1 655.1,514.8 636.3,516.6" fill="#a54242"/>
<polygon points="704,332.5 700.2,366.3 696.5,385.1 694.6,403.9 698.4,422.7 704,435.8 713.4,447.1 768.3,447.1 768.3,332.5" fill="#c7574a"/>
<polygon points="722.8,332.5 715.3,375.7 709.6,403.9 707.8,422.7 711.5,435.8 719,445.2 768.3,445.2 768.3,332.5" fill="#a54242"/>
<polygon points="728.4,332.5 722.8,385.1 719,413.3 720.9,428.3 724.7,441.5 768.3,445.2 768.3,332.5" fill="#823833"/>
<polygon points="730.3,332.5 727.5,385.1 725.6,413.3 727.5,432.1 732.2,441.5 768.3,443.3 768.3,332.5" fill="#5f2e25"/>
<polygon points="732.2,332.5 731.3,385.1 730.3,422.7 733.1,435.8 736,441.5 768.3,441.5 768.3,332.5" fill="#3e2115"/>
<polygon points="735,504.2 707.8,507.2 687.1,512.9 670.2,511 658.9,505.4 662.7,497.8 677.7,494.1 685.2,486.6 677.7,479.1 677.7,469.7 689,462.1 700.2,454.6 711.5,449 722.8,443.3 737.8,441.5 768.3,441.5 768.3,516.6" fill="#a54242"/>
<polygon points="737.8,452.7 726.6,452.7 715.3,456.5 704,464 692.7,475.3 687.1,486.6 689,494.1 700.2,497.8 715.3,501.6 735,504.2 768.3,504.2 768.3,452.7" fill="#823833"/>
<polygon points="737.8,464 726.6,465.9 715.3,467.8 705.9,475.3 702.1,484.7 707.8,492.2 719,494.1 730.3,497.8 736,497.8 768.3,497.8 768.3,464" fill="#5f2e25"/>
<polygon points="737.8,467.8 732.2,471.5 730.3,482.8 734.1,494.1 737.8,496 768.3,496 768.3,467.8" fill="#3e2115"/>
<polygon points="365.7,368.2 392,366.3 414.6,358.8 424,370.1 418.3,379.4 414.6,392.6 407.1,403.9 395.8,407.6 388.3,411.4 382.6,402 365.7,400.1" fill="#e88c53"/>
<polygon points="365.7,496 392,492.2 414.6,490.3 433.4,492.2 442.8,497.8 448.4,503.5 459.7,499.7 467.2,507.2 459.7,511 448.4,509.1 433.4,512.9 414.6,514.8 395.8,516.6 365.7,512.9" fill="#e88c53"/>
<polygon points="653.3,449 662.7,441.5 670.2,443.3 664.5,450.9 657,453.7" fill="#e88c53"/>
<polygon points="685.2,445.2 696.5,442.4 711.5,441.5 704,447.1 692.7,449" fill="#e88c53"/>
<polygon points="638.2,482.8 647.6,477.2 649.5,480.9 643.9,486.6" fill="#e88c53"/>
<polygon points="596.9,450.9 604.4,446.2 611.9,449 606.3,454.6 598.8,455.6" fill="#e88c53"/>
<polygon points="380.8,371.9 395.8,368.2 412.7,364.4 418.3,371.9 412.7,383.2 405.2,396.4 393.9,402 386.4,403.9 382.6,394.5" fill="#efa854"/>
<polygon points="365.7,499.7 395.8,496 414.6,494.1 433.4,496 440.9,501.6 433.4,507.2 414.6,509.1 395.8,511 365.7,509.1" fill="#efa854"/>
<polygon points="655.1,448 662.7,443.3 667.4,445.2 662.7,449.9" fill="#efa854"/>
</g>
<polygon points="307.3,298.8 318.6,289.4 333.6,287.5 337.3,298.8 335.5,311.9 344.9,323.2 348.6,334.5 356.1,332.6 367.4,325.1 376.8,317.6 367.4,313.8 358,315.7 352.4,302.5 346.7,291.3 356.1,287.5 367.4,298.8 382.5,300.7 390,304.4 401.2,310.1 412.5,308.2 421.9,298.8 435.1,291.3 450.1,289.4 465.1,293.1 476.4,298.8 468.9,308.2 457.6,311.9 450.1,321.3 452,334.5 450.1,345.8 444.5,357 453.9,358.9 468.9,351.4 487.7,343.9 502.7,342 506.5,347.6 491.5,357 472.7,364.6 461.4,372.1 446.3,375.8 435.1,385.2 438.8,400.3 438.8,407.6 187,407.6 187,370.2 198.3,362.7 205.8,349.5 217.1,345.8 232.1,351.4 247.1,353.3 245.3,340.1 247.1,330.7 254.7,325.1 269.7,321.3 288.5,319.4 303.5,313.8 309.2,310.1 307.3,304.4" fill="#df764e"/>
<polygon points="316.7,321.3 309.2,311 318.6,308.2 326.1,311.9 324.2,317.6" fill="#c7574a"/>
<polygon points="380.6,325.1 393.7,319.4 412.5,321.3 418.2,325.1 408.8,334.5 397.5,343.9 388.1,345.8 382.5,336.4" fill="#c7574a"/>
<polygon points="292.2,362.7 299.8,351.4 311,353.3 316.7,362.7 314.8,370.2 303.5,375.8 294.1,372.1" fill="#c7574a"/>
<polygon points="317.6,357 322.3,352.3 327,357 322.3,361.7" fill="#c7574a"/>
<polygon points="249,375.8 262.2,377.7 271.6,383.3 281,377.7 292.2,372.1 296,381.5 288.5,392.7 281,400.3 273.4,407.6 224.6,407.6 232.1,396.5 243.4,392.7 250.9,385.2" fill="#c7574a"/>
<polygon points="187,389 198.3,390.9 209.6,389 213.3,400.3 205.8,407.6 187,407.6" fill="#a54242"/>
<polygon points="369.3,375.8 378.7,366.4 390,362.7 405,364.6 414.4,358.9 421.9,368.3 425.7,375.8 420,383.3 412.5,389 393.7,387.1 378.7,383.3" fill="#e88c53"/>
<polygon points="374.9,375.8 382.5,368.3 391.8,365.5 405,367.4 414.4,362.7 420,370.2 421.9,375.8 416.3,381.5 408.8,385.2 393.7,384.3 382.5,381.5" fill="#efa854"/>
<polygon points="316.7,379.6 322.3,370.2 331.7,365.5 333.6,369.3 326.1,375.8 318.6,381.5" fill="#e88c53"/>
<polygon points="205.8,373.9 211.4,368.3 220.8,366.4 222.7,372.1 215.2,377.7" fill="#e88c53"/>
<polygon points="232.1,398.4 239.6,392.7 247.1,396.5 241.5,402.1" fill="#e88c53"/>
<polygon points="497.1,315.7 506.5,306.3 521.5,304.4 532.8,302.5 532.8,313.8 536.6,325.1 544.1,336.4 540.3,342 529,334.5 517.8,325.1 506.5,323.2" fill="#df764e"/>
<polygon points="530.9,358.9 540.3,353.3 555.3,358.9 559.1,366.4 544.1,368.3 534.7,364.6" fill="#df764e"/>
<polygon points="472.7,373.9 487.7,366.4 502.7,358.9 514,355.2 523.4,362.7 514,370.2 499,368.3 487.7,373.9 480.2,377.7" fill="#df764e"/>
<polygon points="444.5,357 453.9,349.5 468.9,343.9 487.7,338.2 502.7,342 487.7,343.9 468.9,351.4 453.9,358.9" fill="#c7574a"/>
<rect x="0" y="0" width="875" height="663.5" fill="url(#tx1)"/>
</g>
<path class="bord" d="M293.3 127.7L303.6 138.4L310.2 137.4L323.3 142.1L334.6 138.9L345.9 142.1M223.7 206.6L242.5 216.4L251.9 222L251.9 237L246.3 256.8L235.9 257.7L234.1 264.3L237.8 267.1L244.4 268.1L247.2 279.3L235 288.7L238.8 293.4L235 296.2L224.7 300.9L216.2 297.2L215.3 300L207.7 300.9L217.1 323.5L212.4 331.9L215.3 335.7L204.9 342.3L210.6 347.4M118.5 327.3L120.4 331L127.9 328.2L135.4 332.9L148.5 325.4L153.2 325.4L154.2 319.7L161.7 321.6L166.4 317.9L167.3 322.6L172 322.6L174.9 318.8L183.3 329.1L191.8 328.2L203 335.7L204 340.4L210.6 347.4M497.5 189.5L505.1 222L493.8 247.4L512 261.5L508.2 269.9L516.3 287.8L510.7 300.9L515.8 308.5L515.4 316.9L523.8 320.7L526.7 330.1L521 347.4M690.5 159.6L746.5 167.5L758.2 167.1M498.5 347.4L499.4 344.2L502.2 341.3L507.9 342.3L509.8 347.4M524.8 347.4L527.6 342.7L531.4 343.2L534.2 347.4M753.3 120.6L758.2 123L771.4 130.8L790.3 128.5L799.7 141.7L794.1 154.4L796.4 165.4M758.2 167.5L796.4 165.4L804 164.7L820.5 175.8L822.8 188.1M822.8 188.1L827.4 189.8L845.6 186.8L853.5 191.1L861.7 185.2L868.3 186.2L870.3 177.9L874.4 177.9M822.8 188.1L827.1 207.1L837 230.2L837 253.3L819.2 263.6L810.6 276L827.4 287L824.1 313.4L826.6 318.4L829.4 322.5L827.1 327.9L844.2 351.3L838.1 354.6L844.2 368.1L839.8 375.2L829.9 376.9L823.3 384.3M874.4 294L853.8 297.3L840.9 311.8L828.3 310.5L826.1 315.9M736.2 75.2L742.1 74.4L747.8 66.6L772.5 56.9L794 60.3L802.2 56.9L808.1 63.3L816 59.1L845.2 65.8L859.3 64.3L871.2 55.4L874.5 61.1M840.4 374.3L829.7 376.8L793.4 419.6L794.2 441.1L800.5 445.2L800.5 449.8L789.3 446M738.2 427.4L756 426.7L767.9 432L771.2 438.9L789.3 446L781.9 465.8L774.8 473.2L774.8 481.4M738.2 476.5L749.7 472.7L762.1 485.1L774.8 482.3L779.1 481.8L791.3 497.6L799.2 498.8L801.2 505.8M801.2 505.8L809.9 497.6L818.6 503.7L834.6 507L859.4 505.8L871.7 518.5L874.7 516.4M801.2 505.8L792.9 514.7L779.7 517.4L770.3 528.4L769.8 536.7L757.7 553.6L753.9 570.5L746.1 575.7L741.8 591.9L738.2 595.2M88.4 342.2L89.3 347.3L92.2 353.9L100.6 360.1L109.1 355.8L114.3 368L127.9 370.8L130.7 381.5L142 378.3L147.6 385.8L145.4 397.7L157.9 399L168.3 389.6L169.6 407.4L184.3 413.1L191.8 423.4L202.1 420.6L208.7 426.2L217.1 423.4L222.8 424.7L230.3 430.9L235.9 440.9L242.1 439L247.2 444.1L258.5 440.7L263.2 445L271.6 449.7M202.1 420.6L204.9 414L199.7 402.7L208.7 389L213.4 390.9L214.3 397.1L227.9 407.8L222.8 424.7M197.4 347.3L196.8 352L200.2 356.7L210.6 356.7L212.4 347.3M210.6 356.7L217.1 365.2L215.3 368.9L223.2 375.5L223.7 380.8L215.3 385.8L213.4 390.9M272.6 469.5L269.8 482.6L266.9 497.6L265.1 508.9L262.2 518.3L266 524.9M266 524.9L268.8 526.8L285.7 523.6L299.8 523L301.7 520.2L295.1 518.3L299.8 513.6L308.3 519.3L325.2 522.1L338.4 527.7L343.1 524.5L348.7 527.7L354.3 536.2L358.1 540.9L364.7 537.1L365.6 527.7L378.2 527.7M266 524.9L252.8 533.4L251 529.6L244.4 530.5L240.6 537.1L247.2 538.1L240.6 546.5L234.1 555.9L224.7 561.5L225.2 568.1L219 572.8L213.4 578.5L212.4 586L217.1 590.7L220 587.9L232.2 586L237.8 588.8L236.9 599.1L242.5 607.6L246.3 610.4M217.1 590.7L219 596.3L208.7 601.4L214.3 591.6M338.4 527.7L334.6 535.2L331.8 544.6L332.7 552.1L343.1 555L349.6 561.5L356.2 563.4L362.8 556.8L366.5 561.5L364.7 566.2L378.2 570M245.2 609.6L247.1 613.8L251.8 614.7L263 610L274.3 612.8L282.8 600.6L283.7 594L294.4 585.2L295.5 597.8L300.6 602.5L309.1 605.3L308.1 610.9L314.7 617.9L317 613.8L315.1 607.2L323.2 595.9L326 582.2L330.1 582.2L333.5 592.2L348.5 587.8L354.2 595.9L351.9 582.8L357.9 575.8L363.6 579.6L365.5 574.3M247.1 613.8L237.7 619.4L238.6 626L250.8 640.1L247.4 650.4L232 656.1L233.5 662.3M364.7 575.1L364.7 566.2M434.6 375.5L453.4 375.1L468.4 363.3L470.3 365.2L473.1 360.1L485.3 357.6L488.1 353.9L500.4 350.1L503.2 347.3M509.8 347.3L511.6 352L517.3 353.9L523.8 352L525.7 347.3M532.3 347.3L537.9 355.8L552 357.1L559.6 364.6L563.3 362L571.8 363.3L574.6 366.1L566.7 375.1L582.1 391.5L595.3 385.8L591.5 374.6L600 376.4L611.2 383.9L619.7 381.1L620.6 385.8L616.5 389L624.4 398L631 396.5L631.9 395.2L640.4 401.8L649.8 401.8L651.6 412.1L658.2 415.3L660.1 422.5L663.9 429.1L671.4 428.5L680.8 418.3L686.4 428.1L692 429.6L691.7 439L702.4 440.3L705.2 432.8L709.9 429.6L725.9 427.7L731.5 434.1L737.2 432.2L739 427.2L758.2 426.6M434.6 375.5L425.2 383.9L428.9 394.3L438.3 400.9L433.6 410.3L442.1 426.2L456.2 435.6L463.7 446L472.2 452.9L475.9 452.9L483.4 462.9L491 470.4L501.3 473.6L506.9 469.1L514.5 472.3L518.2 461.9L522.9 461L525.7 449.7L531.4 452.9L535.1 450.7L548.3 456.7L553 456.3L566.1 462.9L571.8 463.8L578.3 460.1L592.4 466.6M425.2 383.9L431.8 387.7L428.9 394.3M592.4 466.6L597.1 460.1L612.2 459.1L626.3 453.5L628.2 449.7L633.8 446L636.6 435.6L641.3 432.8L649.8 423.4L660.1 422.5M592.4 466.6L593.4 472.3L589.6 482.6L600 502.3L621.6 516.4L652.6 516.1L659.2 512.7L657.3 504.8L660.1 501.4L680.8 498.6L686.4 491.1L696.7 495.8L710.8 487.3L718.4 475.1L727.8 472.8L735.3 476L749.4 472.3L758.2 480.7M600 502.3L596.2 508.9L598.1 517.4L584.9 519.3L580.2 516.4L575.5 519.3L584.9 527.7L582.1 532.4L575.5 533.4L577.4 554L569.9 555.9L563.3 563.4L559.6 565.3L560.5 574.7L569.9 563.4L578.3 582.2M483.4 462.9L480.6 475.1L470.3 473.6L468.4 483.6L445.9 496.7L455.3 514.6L451.5 518.3L456.8 521.1L456.2 529.6L447.7 525.8L446.8 520.2L438.3 522.5L434.6 518.7L428.9 517.9L427.4 523L406.4 524.3L394.2 534.3L383.8 534.3L378.2 527.7M378.2 566.2L384.8 567.2L389.5 558.7L409.2 557.8L425.2 551.2L425.2 559.7L434.6 571.9L479.7 581.3L509.8 588.8L520.1 576.6L542.6 576.6L553.9 570.9L559.6 574.7M479.2 581.8L467.9 593.1L470.3 597.8L476.3 599.7L471.6 608.1L476.3 610.9L475.4 619.4L485.7 627.9L480.1 629.7M476 637.3L478.2 639.1L491.4 635.9L502.7 637.3L508.3 635.4L511.1 628.8L518.6 636.3L523.3 634.1L529.9 639.7L536.5 637.3L538.4 630.7L535.5 624.7L547.8 619L549.6 608.1L546.8 598.7L570.3 587.5L569.4 582.8L578.2 581.8M551.5 662.3L551.9 651.4L557.5 650.4M578.5 582.7L599.7 599L605.5 610.1L614.4 611.9L624.7 621.3L644.7 622.5L652.7 613.4L658.6 613.1L664.5 612.7L668.8 607.9L674.4 609.4L684.6 600L706.6 600.8L708.5 602.8M708.5 602.8L716.5 599.5L721.4 601.8L728.3 594.6L736.2 596.6L740.7 592.6M708.5 602.8L724.9 622.8L727.1 621.8L726.8 636.1L752.9 653.9L747.6 662.3M658.6 613.1L663.2 622.3L661.6 631.5L668 634.6L664.5 642.1L679.1 650.5L669.8 650.7L666 662.3M558.2 651L570.1 662.3L579 650L593.8 649.3L623.5 659.6L630.2 654.2L635.8 657.9L638.5 654.2L646.7 658.9L653.7 657.6L656.6 662.3"/>
<path class="coast" d="M-2.7 201.3L0.1 207L4.8 216.4L11.4 233.3L18.9 242.7L35.8 243.6L54.6 253L64 269L54.6 291.5L35.8 304.7L20.8 327.3L48.9 331.9L36.7 347.4M11.4 233.3L0.1 246.4L8.5 254.9L18.9 242.7M80.9 347.4L103.4 332.9L124.1 322.6L137.3 308.5L148.5 291.5L157.9 272.8L163.6 257.7L166.4 247.4L177.7 242.7L178.2 269L192.7 278.4L206.8 265.2L206.8 251.1L193.3 247.4L193.3 224.8L212.4 216.4L244.4 216L256.6 202.3L280.1 202.3L298 211.7L300.8 194.8L315.4 180.7L304.5 167.5L315.4 158.5L303.6 139.3L303.6 114.9L285.7 100.8L282.9 77.3M282.8 77.4L282.8 52.2L287.5 36.6L298.2 26.2M298.2 26.2L303.8 21.3L329.7 16.6L342.7 -0.1M367.6 -0.1L367.6 12.8L358.7 34.4L358.7 51.9L379.4 51.9L379.4 70L356.4 78.9L348.6 94.3M348.7 94.2L340.2 106.4L329.9 131.8L349.6 144L350.6 159.1L378.2 170.3M340.2 106.4L360 101.4L375 112.1L374.1 128.4L352.5 128.4L340.2 106.4M418.7 -0.1L431 29.6L452.2 52.5L443.3 70L454.7 92.2M579.4 -0.1L571.9 38.8L557.1 70L513.6 70L495.5 92.2M378.2 170.3L382 172.2L379.1 186.3L378.2 189.1L396.1 189.1L414.8 175L428.9 167.5L452.4 162.8L466.5 149.7L477.8 167.5L464.6 176L479.7 184.4L501.3 189.5L531.4 176L560.5 171.3L584 154.4L613.1 145.3L641.3 141.2L654.1 167.5L674.2 167.5L690.5 159.6L699.9 137.1L725.9 123L737.2 96.1L736.2 79.6M434.4 73.9L388 95.5L394.2 121.5L413.9 125.2L434.6 117.1L426.7 107L440.2 94.6L434.4 73.9M454.7 92.1L454.9 109.6L498.5 109.6L495.5 92.1M385.3 141.6L405.1 136.1L422.9 141.8L413.9 149.7L396.6 154.4L385.3 141.6M633.1 -0.1L639 21.3L656.1 10.9L656.1 -0.1M755.8 -0.1L747.3 21L735 38.8L735 70L736.2 79.6M797.8 -0.1L802.9 3.9L813.6 21.3L833.8 25.8L851.6 12.4L851.6 -0.1M-3.7 363.3L0.1 362.3L33 353.9L38.6 347.3M80.9 347.3L62.1 353.9L56.5 371.7L53.6 392.4L38.6 401.8L21.7 406.5L6.7 414L0.1 437.5L-0.9 445M427.9 662.3L422.8 654.2L426 636.3L440.6 636.3L457.9 623.5L474.8 627.9L469.8 640.5L472.6 658.9L474.8 662.3M492.9 662.3L495.5 645.7L518.6 662.3"/>
<polygon points="0,212.3 385,79.6 752.5,79.6 735,504.3 245,610.4" fill="none" stroke="#ff0d0d" stroke-width="1.35" stroke-linejoin="miter"/>
</g>
<line class="tick" x1="175" y1="0" x2="175" y2="10"/>
<line class="tick" x1="175" y1="653.5" x2="175" y2="663.5"/>
<line class="tick" x1="350" y1="0" x2="350" y2="10"/>
<line class="tick" x1="350" y1="653.5" x2="350" y2="663.5"/>
<line class="tick" x1="525" y1="0" x2="525" y2="10"/>
<line class="tick" x1="525" y1="653.5" x2="525" y2="663.5"/>
<line class="tick" x1="700" y1="0" x2="700" y2="10"/>
<line class="tick" x1="700" y1="653.5" x2="700" y2="663.5"/>
<line class="tick" x1="0" y1="530.8" x2="10" y2="530.8"/>
<line class="tick" x1="865" y1="530.8" x2="875" y2="530.8"/>
<line class="tick" x1="0" y1="398.1" x2="10" y2="398.1"/>
<line class="tick" x1="865" y1="398.1" x2="875" y2="398.1"/>
<line class="tick" x1="0" y1="265.4" x2="10" y2="265.4"/>
<line class="tick" x1="865" y1="265.4" x2="875" y2="265.4"/>
<line class="tick" x1="0" y1="132.7" x2="10" y2="132.7"/>
<line class="tick" x1="865" y1="132.7" x2="875" y2="132.7"/>
<rect class="frame" x="0" y="0" width="875" height="663.5"/>
<circle cx="325.4" cy="243.7" r="13.2" fill="#000"/>
<circle cx="411.3" cy="432" r="13.2" fill="#000"/>
<circle cx="273.2" cy="457" r="13.2" fill="#000"/>
<text class="wl" x="357.5" y="237.6">well 2</text>
<text class="wl" x="341.8" y="401.1">well 1</text>
<text class="wl" x="186.2" y="508">well 3</text>
<text class="ti" x="16" y="61.9">z = 1000 m</text>
<text class="tk" transform="translate(-52.3 16.6) scale(0.865 1)" text-anchor="middle">57.5°</text>
<text class="tk" transform="translate(-52.3 142.6) scale(0.865 1)" text-anchor="middle">55°</text>
<text class="tk" transform="translate(-52.3 279.1) scale(0.865 1)" text-anchor="middle">52,5°</text>
<text class="tk" transform="translate(-52.3 408.2) scale(0.865 1)" text-anchor="middle">50°</text>
<text class="tk" transform="translate(-52.3 545.1) scale(0.865 1)" text-anchor="middle">47,5°</text>
<text class="tk" transform="translate(-52.3 671.8) scale(0.865 1)" text-anchor="middle">45°</text>
<text class="tk" transform="translate(-8.5 709.3) scale(0.865 1)" text-anchor="start">0°</text>
<text class="tk" transform="translate(166.5 709.3) scale(0.865 1)" text-anchor="start">5°</text>
<text class="tk" transform="translate(324.8 709.3) scale(0.865 1)" text-anchor="start">10°</text>
<text class="tk" transform="translate(501.9 709.3) scale(0.865 1)" text-anchor="start">15°</text>
<text class="tk" transform="translate(675 709.3) scale(0.865 1)" text-anchor="start">20°</text>
<text class="tk" transform="translate(850.5 709.3) scale(0.865 1)" text-anchor="start">25°</text>
</g>
<g transform="translate(1141.8 32.9)">
<clipPath id="cp2"><rect x="0" y="0" width="875" height="663.5"/></clipPath>
<g clip-path="url(#cp2)">
<filter id="bl2" x="-5%" y="-5%" width="110%" height="110%"><feGaussianBlur stdDeviation="0.7"/></filter>
<filter id="bh2" x="-5%" y="-5%" width="110%" height="110%"><feGaussianBlur stdDeviation="1.1"/></filter>
<clipPath id="hp2"><polygon points="-60,78.9 753.4,78.9 727,720 -60,720"/></clipPath>
<mask id="mk2" maskUnits="userSpaceOnUse" x="-20" y="-20" width="915" height="703.5"><g clip-path="url(#hp2)"><path d="M381.6 72L378.5 75.2L378.5 79L363.2 79L360.1 82.2L360.1 86L335.6 86L332.5 89.2L332.5 93L317.2 93L314.1 96.2L314.1 100L298.8 100L295.7 103.2L295.7 107L280.4 107L277.3 110.2L277.3 114L262 114L258.9 117.2L258.9 121L234.4 121L231.3 124.2L231.3 128L216.1 128L212.9 131.2L212.9 135L197.7 135L194.5 138.2L194.5 142L179.2 142L176.1 145.2L176.1 149L160.8 149L157.7 152.2L157.7 156L133.2 156L130.1 159.2L130.1 163L114.8 163L111.7 166.2L111.7 170L96.5 170L93.3 173.2L93.3 177L78 177L74.9 180.2L74.9 184L50.4 184L47.3 187.2L47.3 191L32 191L28.9 194.2L28.9 198L13.7 198L10.5 201.2L10.5 205L4.5 205L1.3 208.2L1.3 208.8L4.5 212L10.5 212L10.5 219L10.5 226L10.5 229.8L13.7 233L19.7 233L19.7 240L19.7 243.8L22.8 247L28.9 247L28.9 254L28.9 257.9L32 261L38.1 261L38.1 268L38.1 271.9L41.2 275L47.3 275L47.3 282L47.3 285.9L50.4 289L56.5 289L56.5 296L56.5 299.9L59.6 303L65.7 303L65.7 310L65.7 313.9L68.8 317L74.9 317L74.9 324L74.9 327.9L78 331L84.1 331L84.1 338L84.1 345L84.1 348.9L87.2 352L93.3 352L93.3 359L93.3 362.9L96.5 366L102.5 366L102.5 373L102.5 376.9L105.6 380L111.7 380L111.7 387L111.7 390.9L114.8 394L120.9 394L120.9 401L120.9 404.9L124 408L130.1 408L130.1 415L130.1 418.9L133.2 422L139.3 422L139.3 429L139.3 432.9L142.5 436L148.5 436L148.5 443L148.5 450L148.5 453.9L151.7 457L157.7 457L157.7 464L157.7 467.9L160.8 471L166.9 471L166.9 478L166.9 481.9L170.1 485L176.1 485L176.1 492L176.1 495.9L179.2 499L185.3 499L185.3 506L185.3 509.9L188.5 513L194.5 513L194.5 520L194.5 523.9L197.7 527L203.7 527L203.7 534L203.7 537.9L206.8 541L212.9 541L212.9 548L212.9 555L212.9 558.9L216.1 562L222.1 562L222.1 569L222.1 572.9L225.2 576L231.3 576L231.3 583L231.3 586.9L234.4 590L240.5 590L240.5 597L240.5 600.9L243.7 604L255.7 604L258.9 600.9L258.9 597L292.6 597L295.7 593.9L295.7 590L320.2 590L323.3 586.9L323.3 583L356.9 583L360.1 579.9L360.1 576L384.6 576L387.7 572.9L387.7 569L421.4 569L424.5 565.9L424.5 562L448.9 562L452.1 558.9L452.1 555L485.8 555L488.9 551.9L488.9 548L522.5 548L525.7 544.9L525.7 541L550.1 541L553.3 537.9L553.3 534L586.9 534L590.1 530.9L590.1 527L614.5 527L617.7 523.9L617.7 520L651.3 520L654.5 516.9L654.5 513L688.1 513L691.3 509.9L691.3 506L715.7 506L718.9 502.9L718.9 499L743.3 499L746.5 495.9L746.5 492L746.5 485L746.5 478L746.5 471L746.5 464L746.5 457L746.5 450L746.5 443L746.5 436L746.5 429L746.5 422L746.5 415L746.5 408L746.5 401L746.5 394L746.5 387L746.5 380L746.5 373L746.5 366L746.5 359L746.5 352L752.5 352L755.7 348.9L755.7 345L755.7 338L755.7 331L755.7 324L755.7 317L755.7 310L755.7 303L755.7 296L755.7 289L755.7 282L755.7 275L755.7 268L755.7 261L755.7 254L755.7 247L755.7 240L755.7 233L755.7 226L755.7 219L755.7 212L755.7 205L755.7 198L755.7 191L755.7 184L755.7 177L755.7 170L755.7 163L755.7 156L755.7 149L755.7 142L755.7 135L755.7 128L761.7 128L764.9 124.8L764.9 121L764.9 114L764.9 107L764.9 100L764.9 93L764.9 86L764.9 79L764.9 75.2L761.7 72Z" fill="#fff" filter="url(#bl2)"/></g></mask>
<pattern id="tx2" width="9.2" height="14" patternUnits="userSpaceOnUse" x="1.3" y="2"><rect x="4" y="1" width="1" height="5.5" fill="#fff" opacity="0.16"/><rect x="8.6" y="8" width="1" height="5" fill="#fff" opacity="0.13"/></pattern>
<g clip-path="url(#hp2)"><path d="M381.6 72L378.5 75.2L378.5 79L363.2 79L360.1 82.2L360.1 86L335.6 86L332.5 89.2L332.5 93L317.2 93L314.1 96.2L314.1 100L298.8 100L295.7 103.2L295.7 107L280.4 107L277.3 110.2L277.3 114L262 114L258.9 117.2L258.9 121L234.4 121L231.3 124.2L231.3 128L216.1 128L212.9 131.2L212.9 135L197.7 135L194.5 138.2L194.5 142L179.2 142L176.1 145.2L176.1 149L160.8 149L157.7 152.2L157.7 156L133.2 156L130.1 159.2L130.1 163L114.8 163L111.7 166.2L111.7 170L96.5 170L93.3 173.2L93.3 177L78 177L74.9 180.2L74.9 184L50.4 184L47.3 187.2L47.3 191L32 191L28.9 194.2L28.9 198L13.7 198L10.5 201.2L10.5 205L4.5 205L1.3 208.2L1.3 208.8L4.5 212L10.5 212L10.5 219L10.5 226L10.5 229.8L13.7 233L19.7 233L19.7 240L19.7 243.8L22.8 247L28.9 247L28.9 254L28.9 257.9L32 261L38.1 261L38.1 268L38.1 271.9L41.2 275L47.3 275L47.3 282L47.3 285.9L50.4 289L56.5 289L56.5 296L56.5 299.9L59.6 303L65.7 303L65.7 310L65.7 313.9L68.8 317L74.9 317L74.9 324L74.9 327.9L78 331L84.1 331L84.1 338L84.1 345L84.1 348.9L87.2 352L93.3 352L93.3 359L93.3 362.9L96.5 366L102.5 366L102.5 373L102.5 376.9L105.6 380L111.7 380L111.7 387L111.7 390.9L114.8 394L120.9 394L120.9 401L120.9 404.9L124 408L130.1 408L130.1 415L130.1 418.9L133.2 422L139.3 422L139.3 429L139.3 432.9L142.5 436L148.5 436L148.5 443L148.5 450L148.5 453.9L151.7 457L157.7 457L157.7 464L157.7 467.9L160.8 471L166.9 471L166.9 478L166.9 481.9L170.1 485L176.1 485L176.1 492L176.1 495.9L179.2 499L185.3 499L185.3 506L185.3 509.9L188.5 513L194.5 513L194.5 520L194.5 523.9L197.7 527L203.7 527L203.7 534L203.7 537.9L206.8 541L212.9 541L212.9 548L212.9 555L212.9 558.9L216.1 562L222.1 562L222.1 569L222.1 572.9L225.2 576L231.3 576L231.3 583L231.3 586.9L234.4 590L240.5 590L240.5 597L240.5 600.9L243.7 604L255.7 604L258.9 600.9L258.9 597L292.6 597L295.7 593.9L295.7 590L320.2 590L323.3 586.9L323.3 583L356.9 583L360.1 579.9L360.1 576L384.6 576L387.7 572.9L387.7 569L421.4 569L424.5 565.9L424.5 562L448.9 562L452.1 558.9L452.1 555L485.8 555L488.9 551.9L488.9 548L522.5 548L525.7 544.9L525.7 541L550.1 541L553.3 537.9L553.3 534L586.9 534L590.1 530.9L590.1 527L614.5 527L617.7 523.9L617.7 520L651.3 520L654.5 516.9L654.5 513L688.1 513L691.3 509.9L691.3 506L715.7 506L718.9 502.9L718.9 499L743.3 499L746.5 495.9L746.5 492L746.5 485L746.5 478L746.5 471L746.5 464L746.5 457L746.5 450L746.5 443L746.5 436L746.5 429L746.5 422L746.5 415L746.5 408L746.5 401L746.5 394L746.5 387L746.5 380L746.5 373L746.5 366L746.5 359L746.5 352L752.5 352L755.7 348.9L755.7 345L755.7 338L755.7 331L755.7 324L755.7 317L755.7 310L755.7 303L755.7 296L755.7 289L755.7 282L755.7 275L755.7 268L755.7 261L755.7 254L755.7 247L755.7 240L755.7 233L755.7 226L755.7 219L755.7 212L755.7 205L755.7 198L755.7 191L755.7 184L755.7 177L755.7 170L755.7 163L755.7 156L755.7 149L755.7 142L755.7 135L755.7 128L761.7 128L764.9 124.8L764.9 121L764.9 114L764.9 107L764.9 100L764.9 93L764.9 86L764.9 79L764.9 75.2L761.7 72Z" fill="#fcecac" stroke="#fcecac" stroke-width="6" stroke-linejoin="round" filter="url(#bh2)"/><path d="M381.6 72L378.5 75.2L378.5 79L363.2 79L360.1 82.2L360.1 86L335.6 86L332.5 89.2L332.5 93L317.2 93L314.1 96.2L314.1 100L298.8 100L295.7 103.2L295.7 107L280.4 107L277.3 110.2L277.3 114L262 114L258.9 117.2L258.9 121L234.4 121L231.3 124.2L231.3 128L216.1 128L212.9 131.2L212.9 135L197.7 135L194.5 138.2L194.5 142L179.2 142L176.1 145.2L176.1 149L160.8 149L157.7 152.2L157.7 156L133.2 156L130.1 159.2L130.1 163L114.8 163L111.7 166.2L111.7 170L96.5 170L93.3 173.2L93.3 177L78 177L74.9 180.2L74.9 184L50.4 184L47.3 187.2L47.3 191L32 191L28.9 194.2L28.9 198L13.7 198L10.5 201.2L10.5 205L4.5 205L1.3 208.2L1.3 208.8L4.5 212L10.5 212L10.5 219L10.5 226L10.5 229.8L13.7 233L19.7 233L19.7 240L19.7 243.8L22.8 247L28.9 247L28.9 254L28.9 257.9L32 261L38.1 261L38.1 268L38.1 271.9L41.2 275L47.3 275L47.3 282L47.3 285.9L50.4 289L56.5 289L56.5 296L56.5 299.9L59.6 303L65.7 303L65.7 310L65.7 313.9L68.8 317L74.9 317L74.9 324L74.9 327.9L78 331L84.1 331L84.1 338L84.1 345L84.1 348.9L87.2 352L93.3 352L93.3 359L93.3 362.9L96.5 366L102.5 366L102.5 373L102.5 376.9L105.6 380L111.7 380L111.7 387L111.7 390.9L114.8 394L120.9 394L120.9 401L120.9 404.9L124 408L130.1 408L130.1 415L130.1 418.9L133.2 422L139.3 422L139.3 429L139.3 432.9L142.5 436L148.5 436L148.5 443L148.5 450L148.5 453.9L151.7 457L157.7 457L157.7 464L157.7 467.9L160.8 471L166.9 471L166.9 478L166.9 481.9L170.1 485L176.1 485L176.1 492L176.1 495.9L179.2 499L185.3 499L185.3 506L185.3 509.9L188.5 513L194.5 513L194.5 520L194.5 523.9L197.7 527L203.7 527L203.7 534L203.7 537.9L206.8 541L212.9 541L212.9 548L212.9 555L212.9 558.9L216.1 562L222.1 562L222.1 569L222.1 572.9L225.2 576L231.3 576L231.3 583L231.3 586.9L234.4 590L240.5 590L240.5 597L240.5 600.9L243.7 604L255.7 604L258.9 600.9L258.9 597L292.6 597L295.7 593.9L295.7 590L320.2 590L323.3 586.9L323.3 583L356.9 583L360.1 579.9L360.1 576L384.6 576L387.7 572.9L387.7 569L421.4 569L424.5 565.9L424.5 562L448.9 562L452.1 558.9L452.1 555L485.8 555L488.9 551.9L488.9 548L522.5 548L525.7 544.9L525.7 541L550.1 541L553.3 537.9L553.3 534L586.9 534L590.1 530.9L590.1 527L614.5 527L617.7 523.9L617.7 520L651.3 520L654.5 516.9L654.5 513L688.1 513L691.3 509.9L691.3 506L715.7 506L718.9 502.9L718.9 499L743.3 499L746.5 495.9L746.5 492L746.5 485L746.5 478L746.5 471L746.5 464L746.5 457L746.5 450L746.5 443L746.5 436L746.5 429L746.5 422L746.5 415L746.5 408L746.5 401L746.5 394L746.5 387L746.5 380L746.5 373L746.5 366L746.5 359L746.5 352L752.5 352L755.7 348.9L755.7 345L755.7 338L755.7 331L755.7 324L755.7 317L755.7 310L755.7 303L755.7 296L755.7 289L755.7 282L755.7 275L755.7 268L755.7 261L755.7 254L755.7 247L755.7 240L755.7 233L755.7 226L755.7 219L755.7 212L755.7 205L755.7 198L755.7 191L755.7 184L755.7 177L755.7 170L755.7 163L755.7 156L755.7 149L755.7 142L755.7 135L755.7 128L761.7 128L764.9 124.8L764.9 121L764.9 114L764.9 107L764.9 100L764.9 93L764.9 86L764.9 79L764.9 75.2L761.7 72Z" fill="#f2c068" stroke="#f2c068" stroke-width="3" stroke-linejoin="round" filter="url(#bl2)"/></g>
<linearGradient id="gt2" x1="0" y1="0" x2="0" y2="1"><stop offset="0" stop-color="#fff3b0" stop-opacity="0"/><stop offset="0.2" stop-color="#f8d878" stop-opacity="0.9"/><stop offset="0.4" stop-color="#f0b060"/><stop offset="0.6" stop-color="#e08850"/><stop offset="1" stop-color="#e08850"/></linearGradient>
<linearGradient id="gr2" x1="0" y1="0" x2="1" y2="0"><stop offset="0" stop-color="#e08850"/><stop offset="0.4" stop-color="#e08850"/><stop offset="0.6" stop-color="#f0b060"/><stop offset="0.8" stop-color="#f8d878" stop-opacity="0.9"/><stop offset="1" stop-color="#fff3b0" stop-opacity="0"/></linearGradient>
<path d="M379 80.6 L379 74.9 L431 79.6 L431 80.6Z" fill="url(#gt2)"/>
<path d="M431 80.6 L431 73.6 L497 79.6 L497 80.6Z" fill="url(#gt2)"/>
<path d="M497 80.6 L497 73.6 L563 79.6 L563 80.6Z" fill="url(#gt2)"/>
<path d="M563 80.6 L563 73.6 L629 79.6 L629 80.6Z" fill="url(#gt2)"/>
<path d="M629 80.6 L629 73.6 L695 79.6 L695 80.6Z" fill="url(#gt2)"/>
<path d="M695 80.6 L695 73.6 L757.5 79.5 L757.5 80.6Z" fill="url(#gt2)"/>
<path d="M751.3 84.6 L758.8 86.6 L750.7 139.6 L749 139.6Z" fill="url(#gr2)"/>
<path d="M749 139.6 L756.5 141.6 L748.4 194.6 L746.8 194.6Z" fill="url(#gr2)"/>
<path d="M746.8 194.6 L754.3 196.6 L746.1 249.6 L744.5 249.6Z" fill="url(#gr2)"/>
<path d="M744.5 249.6 L752 251.6 L743.9 304.6 L742.2 304.6Z" fill="url(#gr2)"/>
<path d="M742.2 304.6 L749.7 306.6 L741.6 359.6 L740 359.6Z" fill="url(#gr2)"/>
<path d="M740 359.6 L747.5 361.6 L739.3 414.6 L737.7 414.6Z" fill="url(#gr2)"/>
<path d="M737.7 414.6 L745.2 416.6 L737.1 469.6 L735.4 469.6Z" fill="url(#gr2)"/>
<path d="M735.4 469.6 L742.9 471.6 L735.6 504.3 L734 504.3Z" fill="url(#gr2)"/>
<g mask="url(#mk2)">
<clipPath id="q2_0"><rect x="-12.1" y="62.8" width="390.6" height="284.6"/></clipPath>
<g clip-path="url(#q2_0)">
<rect x="-12.8" y="62.1" width="392" height="286" fill="#f1c05f"/>
<polygon points="-13.1,189.9 58.3,206.8 77.1,199.3 95.9,197.4 111,201.1 118.5,195.5 129.8,191.7 148.5,191.7 163.6,186.1 178.6,178.6 197.4,171.1 208.7,163.5 223.7,156 236.9,148.5 240.6,141 236.9,135.4 242.5,126 242.5,62.1 -13.1,62.1" fill="#efa854"/>
<polygon points="118.5,189.9 129.8,184.2 148.5,176.7 167.3,169.2 186.1,161.7 204.9,154.2 223.7,146.6 238.8,141 236.9,135.4 223.7,139.1 204.9,146.6 186.1,152.3 167.3,159.8 148.5,167.3 129.8,174.8 114.7,182.3" fill="#e88c53"/>
<polygon points="287.6,110.9 291.4,126 302.7,137.2 317.7,141 336.5,141.9 355.3,139.1 389.5,137.2 389.5,62.1 287.6,62.1" fill="#efa854"/>
<polygon points="295.1,112.8 300.8,129.7 313.9,137.2 336.5,139.1 355.3,135.4 389.5,133.5 389.5,62.1 291.4,62.1" fill="#e88c53"/>
<polygon points="302.7,112.8 306.4,127.8 317.7,133.5 336.5,135.4 355.3,131.6 389.5,129.7 389.5,62.1 302.7,62.1" fill="#df764e"/>
<polygon points="310.2,120.3 321.4,129.7 336.5,131.6 355.3,127.8 389.5,126 389.5,88.4 355.3,94 336.5,101.5 321.4,110.9" fill="#c7574a"/>
<polygon points="332.7,109 345.9,103.4 359,101.5 366.5,107.2 355.3,112.8 340.2,114.7" fill="#a54242"/>
<polygon points="178.6,218 195.5,210.5 214.3,201.1 238.8,197.4 242.5,188 248.2,176.7 261.3,169.2 280.1,163.5 295.1,162.6 306.4,171.1 308.3,178.6 298.9,186.1 287.6,193.6 276.3,201.1 268.8,210.5 261.3,221.8 250,227.4 235,225.6 220,225.6 204.9,223.7 193.7,219.9" fill="#f6dc7a"/>
<polygon points="287.6,140.1 302.7,139.1 302.7,142.9 289.5,142.9" fill="#f6dc7a"/>
<polygon points="289.5,338.3 300.8,332.7 302.7,338.3 293.3,344" fill="#f6dc7a"/>
<polygon points="-13.1,189.9 58.3,206.8 79,219.9 80.9,242.5 88.4,250 99.7,265 111,280.1 126,291.3 137.3,302.6 148.5,315.8 167.3,327.1 186.1,336.4 201.2,358.4 -13.1,358.4" fill="#efa854"/>
<polygon points="-13.1,189.9 41.4,208.7 60.2,223.7 73.4,242.5 84.6,257.5 95.9,270.7 107.2,283.8 122.2,297 133.5,308.3 144.8,319.5 159.8,330.8 167.3,340.2 174.9,358.4 -13.1,358.4" fill="#e88c53"/>
<polygon points="-13.1,189.9 28.3,212.4 47.1,223.7 60.2,233.1 69.6,250 77.1,265 88.4,280.1 99.7,295.1 111,308.3 126,319.5 141,328.9 152.3,340.2 156.1,358.4 -13.1,358.4" fill="#df764e"/>
<polygon points="-13.1,189.9 17,214.3 35.8,225.6 50.8,236.8 58.3,251.9 64,268.8 73.4,283.8 86.5,302.6 99.7,319.5 114.7,332.7 126,358.4 -13.1,358.4" fill="#c7574a"/>
<polygon points="-13.1,189.9 9.5,216.2 26.4,227.4 41.4,238.7 52.7,250 56.5,265 54.6,280.1 52.7,291.3 60.2,298.9 73.4,315.8 82.8,328.9 95.9,358.4 -13.1,358.4" fill="#a54242"/>
<polygon points="-13.1,208.7 5.7,219.9 17,225.6 32,233.1 45.2,242.5 50.8,253.8 47.1,265 43.3,276.3 37.7,280.1 -13.1,265" fill="#823833"/>
<polygon points="3.8,216.2 15.1,225.6 30.1,235 41.4,244.4 35.8,253.8 30.1,261.3 22.6,246.2 9.5,231.2" fill="#5f2e25"/>
<polygon points="60.2,298.9 67.7,300.7 73.4,310.1 69.6,315.8 62.1,308.3" fill="#823833"/>
<polygon points="77.1,323.3 82.8,325.2 84.6,334.6 79,332.7" fill="#823833"/>
<polygon points="199.3,298.9 204.9,297 210.6,304.5 220,312 235,313.9 242.5,321.4 248.2,330.8 250,358.4 204.9,358.4 210.6,336.4 208.7,321.4 204.9,310.1" fill="#efa854"/>
<polygon points="212.4,315.8 223.7,315.8 235,321.4 240.6,330.8 242.5,358.4 214.3,358.4 216.2,330.8" fill="#e88c53"/>
<polygon points="366.5,330.8 389.5,325.2 389.5,358.4 362.8,358.4" fill="#efa854"/>
</g>
<clipPath id="q2_1"><rect x="377.9" y="62.8" width="390.6" height="284.6"/></clipPath>
<g clip-path="url(#q2_1)">
<rect x="377.2" y="62.1" width="392" height="286" fill="#f1c05f"/>
<polygon points="366.9,62.1 366.9,137.2 397,131.6 415.8,127.8 434.6,122.2 453.4,118.4 472.2,117.5 491,119.4 506,127.8 515.4,137.2 526.7,144.8 537.9,148.5 547.3,152.3 558.6,161.7 573.7,169.2 588.7,171.1 603.7,172.9 622.5,174.8 633.8,182.3 645.1,188 660.1,191.7 671.4,197.4 677,208.7 678.9,219.9 682.7,235 688.3,246.2 697.7,259.4 707.1,272.6 716.5,283.8 725.9,293.2 729.6,302.6 727.8,313.9 724,325.2 722.1,336.4 722.1,358.4 769.5,358.4 769.5,62.1" fill="#efa854"/>
<polygon points="366.9,62.1 366.9,129.7 397,126 415.8,122.2 440.2,116.6 462.8,114.7 483.4,114.7 498.5,116.6 509.8,124.1 519.1,133.5 528.5,141 543.6,144.8 554.9,152.3 566.1,159.8 577.4,165.4 594.3,161.7 613.1,152.3 631.9,152.3 645.1,159.8 652.6,171.1 667.6,182.3 678.9,189.9 686.4,201.1 690.2,216.2 697.7,231.2 705.2,246.2 712.7,261.3 720.2,274.4 727.8,285.7 735.3,293.2 735.3,302.6 731.5,317.7 729.6,330.8 731.5,358.4 769.5,358.4 769.5,62.1" fill="#e88c53"/>
<polygon points="366.9,62.1 366.9,122.2 400.8,120.3 425.2,116.6 440.2,110.9 453.4,110.9 475.9,111.9 498.5,110.9 509.8,114.7 521,124.1 532.3,133.5 547.3,141 566.1,148.5 584.9,152.3 603.7,146.6 622.5,142.9 641.3,142.9 656.3,148.5 667.6,159.8 678.9,171.1 688.3,182.3 693.9,197.4 697.7,208.7 705.2,227.4 714.6,246.2 724,265 731.5,280.1 735.3,289.5 733.4,302.6 729.6,321.4 727.8,358.4 769.5,358.4 769.5,62.1" fill="#df764e"/>
<polygon points="430.8,62.1 442.1,94 457.1,95.9 475.9,94 498.5,93.1 509.8,95.9 528.5,97.8 547.3,99.7 566.1,98.7 584.9,97.8 603.7,98.7 622.5,101.5 641.3,105.3 660.1,109 675.1,114.7 686.4,124.1 693.9,137.2 697.7,152.3 701.4,171.1 705.2,189.9 709,208.7 714.6,227.4 722.1,246.2 729.6,265 733.4,280.1 737.2,291.3 735.3,302.6 732.5,321.4 731.5,358.4 769.5,358.4 769.5,62.1" fill="#c7574a"/>
<polygon points="509.8,62.1 528.5,84.6 547.3,85.6 566.1,84.6 584.9,85.6 603.7,86.5 622.5,87.4 641.3,88.4 660.1,90.3 678.9,94 697.7,101.5 709,114.7 714.6,133.5 718.4,152.3 720.2,171.1 722.1,189.9 724,208.7 725.9,227.4 727.8,246.2 731.5,265 734.3,283.8 738.1,293.2 736.2,312 734.3,358.4 769.5,358.4 769.5,62.1" fill="#a54242"/>
<polygon points="584.9,62.1 622.5,82.7 660.1,84.6 688.3,86.5 712.7,92.1 722.1,105.3 725.9,124.1 729.6,152.3 731.5,189.9 732.5,227.4 733.4,265 735.3,283.8 739,295.1 738.1,321.4 736.2,358.4 769.5,358.4 769.5,62.1" fill="#823833"/>
<polygon points="716.5,62.1 731.5,88.4 735.3,105.3 737.2,133.5 739,171.1 740,208.7 739,246.2 737.2,274.4 736.2,287.6 740.5,297 740,358.4 769.5,358.4 769.5,62.1" fill="#5f2e25"/>
<polygon points="739,88.4 746.5,86.5 752.2,92.1 750.3,103.4 742.8,105.3 737.2,99.7" fill="#3e2115"/>
<polygon points="366.9,82.7 389.5,84.6 415.8,82.7 423.3,92.1 415.8,105.3 402.6,114.7 389.5,110.9 382,99.7 366.9,95.9" fill="#e88c53"/>
<polygon points="385.7,88.4 406.4,86.5 415.8,94 406.4,105.3 395.1,110.9 387.6,101.5" fill="#efa854"/>
<polygon points="391.4,94 402.6,92.1 408.3,97.8 400.8,105.3 393.2,101.5" fill="#f1c05f"/>
<polygon points="366.9,62.1 383.8,62.1 385.7,88.4 382,95.9 366.9,97.8" fill="#c7574a"/>
<polygon points="366.9,110.9 383.8,112.8 385.7,118.4 366.9,122.2" fill="#c7574a"/>
<polygon points="410.1,156 425.2,148.5 440.2,142.9 449.6,148.5 459,156 453.4,161.7 434.6,159.8 419.5,157.9" fill="#f6dc7a"/>
<polygon points="460.9,165.4 475.9,167.3 472.2,170.1 462.8,169.2" fill="#f6dc7a"/>
<polygon points="630,193.6 641.3,197.4 652.6,199.3 665.7,201.1 667.6,206.8 660.1,212.4 648.8,208.7 637.5,201.1" fill="#efa854"/>
<polygon points="607.5,251.9 622.5,253.8 637.5,257.5 648.8,261.3 656.3,266.9 667.6,263.2 678.9,259.4 682.7,265 671.4,270.7 660.1,276.3 650.7,285.7 641.3,283.8 637.5,278.2 645.1,272.6 641.3,265 626.3,259.4 611.2,255.6" fill="#efa854"/>
<polygon points="658.2,293.2 665.7,291.3 673.3,298.9 669.5,302.6" fill="#efa854"/>
<polygon points="678.9,289.5 693.9,287.6 705.2,281.9 716.5,283.8 722.1,358.4 705.2,358.4 707.1,330.8 697.7,321.4 686.4,312 688.3,302.6" fill="#efa854"/>
<polygon points="366.9,306.4 397,312 415.8,308.3 427.1,302.6 440.2,299.8 453.4,300.7 464.6,297 475.9,295.1 491,298.9 502.2,306.4 517.3,310.1 528.5,308.3 543.6,306.4 558.6,308.3 573.7,310.1 592.4,312 607.5,317.7 622.5,327.1 630,336.4 631.9,358.4 366.9,358.4" fill="#efa854"/>
<polygon points="366.9,319.5 393.2,321.4 412,315.8 427.1,308.3 442.1,304.5 460.9,302.6 479.7,300.7 491,308.3 506,315.8 521,319.5 532.3,315.8 547.3,312 566.1,313.9 584.9,317.7 600,323.3 615,332.7 630,358.4 596.2,358.4 584.9,340.2 566.1,337.4 547.3,340.2 539.8,336.4 528.5,332.7 509.8,334.6 491,334.6 472.2,332.7 462.8,328.9 453.4,321.4 440.2,317.7 425.2,319.5 412,325.2 397,330.8 366.9,328.9" fill="#e88c53"/>
<polygon points="445.9,308.3 460.9,305.4 479.7,304.5 487.2,312 498.5,319.5 509.8,321.4 521,323.3 517.3,328.9 502.2,328.9 491,330.8 483.4,327.1 472.2,319.5 457.1,315.8 447.7,313.9" fill="#df764e"/>
<polygon points="547.3,313.9 566.1,315.8 584.9,319.5 596.2,325.2 607.5,334.6 613.1,344 603.7,344.9 592.4,336.4 581.2,328.9 566.1,325.2 554.9,321.4" fill="#df764e"/>
<polygon points="402.6,358.4 410.1,336.4 421.4,327.1 434.6,323.3 442.1,328.9 447.7,340.2 449.6,358.4" fill="#f1c05f"/>
</g>
<clipPath id="q2_2"><rect x="-12.1" y="346.8" width="390.6" height="270.6"/></clipPath>
<g clip-path="url(#q2_2)">
<rect x="-12.8" y="346.1" width="392" height="272" fill="#efa854"/>
<polygon points="212.4,332.1 389.5,332.1 389.5,369.7 355.3,379 336.5,388.4 317.7,397.8 298.9,409.1 287.6,416.6 276.3,422.3 261.3,427.9 251.9,433.5 242.5,429.8 231.2,422.3 227.5,409.1 223.7,394.1 216.2,384.7 223.7,379 220,365.9 214.3,356.5" fill="#f1c05f"/>
<polygon points="148.5,360.3 167.3,354.6 186.1,350.9 197.4,332.1 212.4,358.4 204.9,365.9 186.1,371.5 167.3,379 157.9,386.6 152.3,390.3 146.7,384.7 141,379 146.7,367.8" fill="#f1c05f"/>
<polygon points="156.1,452.3 167.3,444.8 182.4,437.3 197.4,431.7 212.4,429.8 227.5,431.7 235,435.4 242.5,444.8 238.8,454.2 223.7,459.9 204.9,463.6 186.1,465.5 171.1,467.4 159.8,461.7" fill="#f1c05f"/>
<polygon points="159.8,452.3 174.9,444.8 189.9,439.2 201.2,439.2 204.9,442.9 193.7,448.6 182.4,454.2 171.1,458 161.7,458" fill="#f6dc7a"/>
<polygon points="313.9,433.5 329,420.4 347.8,411 366.5,407.2 389.5,403.5 389.5,448.6 362.8,452.3 344,454.2 329,456.1 317.7,448.6" fill="#f1c05f"/>
<polygon points="283.9,474.9 291.4,467.4 302.7,465.5 306.4,469.3 298.9,476.8 287.6,482.4" fill="#f1c05f"/>
<polygon points="244.4,597.1 253.8,582 268.8,572.6 287.6,565.1 306.4,559.5 325.2,553.8 336.5,546.3 347.8,535 366.5,527.5 389.5,525.6 389.5,568.9 366.5,572.6 355.3,578.3 336.5,582 317.7,583.9 298.9,585.8 280.1,589.5 261.3,597.1 248.2,604.6" fill="#f1c05f"/>
<polygon points="-13.1,332.1 114.7,332.1 129.8,358.4 141,365.9 148.5,377.2 144.8,384.7 129.8,382.8 126,392.2 137.3,403.5 148.5,412.9 159.8,422.3 167.3,433.5 159.8,441.1 154.2,444.8 -13.1,444.8" fill="#e88c53"/>
<polygon points="163.6,467.4 178.6,474.9 193.7,474.9 208.7,469.3 223.7,467.4 242.5,461.7 246.3,467.4 235,474.9 220,482.4 204.9,486.2 197.4,493.7 193.7,505 201.2,516.2 208.7,527.5 216.2,542.6 223.7,553.8 227.5,568.9 235,563.2 246.3,567 248.2,578.3 242.5,589.5 246.3,610.2 -13.1,628.4 -13.1,467.4" fill="#e88c53"/>
<polygon points="283.9,435.4 289.5,422.3 295.1,414.8 298.9,435.4 291.4,439.2" fill="#e88c53"/>
<polygon points="257.5,501.2 265.1,493.7 268.8,508.7 265.1,523.8 259.4,516.2" fill="#e88c53"/>
<polygon points="261.3,546.3 276.3,538.8 291.4,536.9 306.4,542.6 298.9,548.2 280.1,550.1 268.8,553.8" fill="#e88c53"/>
<polygon points="-13.1,332.1 114.7,332.1 126,356.5 137.3,367.8 144.8,379 141,384.7 126,388.4 -13.1,388.4" fill="#df764e"/>
<polygon points="-13.1,332.1 103.4,332.1 114.7,358.4 126,371.5 133.5,380.9 126,384.7 118.5,386.6 -13.1,386.6" fill="#c7574a"/>
<polygon points="137.3,420.4 142.9,422.3 148.5,433.5 146.7,441.1 -13.1,441.1 -13.1,420.4" fill="#c7574a"/>
<polygon points="129.8,409.1 141,418.5 152.3,429.8 159.8,441.1 156.1,446.7 -13.1,446.7 -13.1,409.1" fill="#df764e"/>
<polygon points="178.6,482.4 193.7,478.7 204.9,480.5 197.4,488 186.1,493.7 178.6,489.9" fill="#df764e"/>
<polygon points="167.3,473 174.9,476.8 178.6,486.2 186.1,499.3 -13.1,499.3 -13.1,473" fill="#c7574a"/>
<polygon points="223.7,568.9 235,563.2 246.3,567 248.2,578.3 242.5,589.5 235,591.4 229.4,582" fill="#df764e"/>
<polygon points="186.1,497.4 197.4,516.2 208.7,535 220,553.8 229.4,572.6 240.6,591.4 246.3,610.2 -13.1,628.4 -13.1,497.4" fill="#df764e"/>
<polygon points="246.3,610.2 261.3,598.9 280.1,593.3 298.9,591.4 317.7,589.5 336.5,585.8 355.3,582 389.5,574.5 389.5,628.4 246.3,628.4" fill="#e88c53"/>
<polygon points="246.3,610.2 265.1,602.7 283.9,598.9 306.4,595.2 329,590.5 355.3,584.8 389.5,579.2 389.5,628.4 246.3,628.4" fill="#df764e"/>
</g>
<clipPath id="q2_3"><rect x="377.9" y="346.8" width="390.6" height="270.6"/></clipPath>
<g clip-path="url(#q2_3)">
<rect x="377.2" y="346.1" width="392" height="272" fill="#efa854"/>
<polygon points="366.9,332.1 440.2,332.1 438.3,358.4 442.1,369.7 457.1,375.3 464.6,371.5 460.9,380.9 453.4,390.3 457.1,397.8 449.6,405.4 434.6,403.5 419.5,407.2 404.5,411 389.5,414.8 366.9,411" fill="#f1c05f"/>
<polygon points="385.7,367.8 400.8,360.3 413.9,356.5 419.5,364 415.8,375.3 408.3,386.6 400.8,403.5 393.2,412.9 383.8,409.1 366.9,403.5 366.9,375.3" fill="#f6dc7a"/>
<polygon points="385.7,449.5 395.1,448.6 397,453.3 387.6,455.2" fill="#f1c05f"/>
<polygon points="430.8,452.3 449.6,448.6 453.4,444.8 468.4,448.6 479.7,454.2 491,461.7 494.7,467.4 483.4,467.4 472.2,463.6 457.1,459.9 442.1,456.1" fill="#f1c05f"/>
<polygon points="366.9,520 393.2,523.8 408.3,516.2 427.1,514.4 442.1,516.2 457.1,512.5 468.4,514.4 479.7,523.8 491,529.4 483.4,535 468.4,533.2 457.1,535 442.1,531.3 427.1,533.2 412,535 397,536.9 366.9,535" fill="#f1c05f"/>
<polygon points="460.9,514.4 475.9,516.2 491,523.8 498.5,535 502.2,544.4 491,546.3 479.7,538.8 468.4,535" fill="#f1c05f"/>
<polygon points="592.4,459.9 603.7,452.3 618.8,444.8 633.8,437.3 648.8,427.9 660.1,422.3 678.9,418.5 697.7,412.9 716.5,411 729.6,412.9 735.3,422.3 735.3,441.1 727.8,444.8 712.7,442.9 697.7,441.1 678.9,442.9 660.1,448.6 648.8,454.2 637.5,459.9 622.5,467.4 611.2,474.9 603.7,484.3 596.2,486.2 590.6,478.7" fill="#f1c05f"/>
<polygon points="536.1,362.1 547.3,360.3 553,365.9 543.6,367.8" fill="#f1c05f"/>
<polygon points="594.3,332.1 735.3,332.1 769.5,332.1 769.5,409.1 716.5,411 697.7,412.9 678.9,418.5 660.1,416.6 648.8,409.1 637.5,403.5 626.3,401.6 622.5,390.3 615,380.9 609.4,369.7 603.7,358.4" fill="#e88c53"/>
<polygon points="631.9,332.1 716.5,332.1 712.7,356.5 697.7,364 682.7,365.9 667.6,362.1 652.6,356.5 637.5,352.7" fill="#f1c05f"/>
<polygon points="611.2,369.7 622.5,365.9 641.3,367.8 660.1,371.5 675.1,375.3 682.7,384.7 678.9,390.3 663.9,386.6 648.8,384.7 633.8,386.6 618.8,382.8" fill="#df764e"/>
<polygon points="626.3,403.5 641.3,401.6 648.8,407.2 641.3,412.9 630,411" fill="#df764e"/>
<polygon points="660.1,409.1 678.9,407.2 697.7,403.5 716.5,401.6 727.8,403.5 716.5,409.1 697.7,411 678.9,414.8 663.9,414.8" fill="#df764e"/>
<polygon points="491,510.6 498.5,497.4 513.5,495.6 528.5,495.6 539.8,493.7 547.3,486.2 566.1,484.3 577.4,482.4 584.9,489.9 596.2,497.4 603.7,503.1 622.5,516.2 641.3,516.2 660.1,512.5 660.1,505 671.4,501.2 686.4,493.7 697.7,495.6 712.7,486.2 720.2,476.8 735.3,474.9 769.5,474.9 769.5,628.4 366.9,628.4 366.9,553.8 389.5,542.6 415.8,550.1 434.6,542.6 453.4,538.8 472.2,546.3 483.4,550.1 498.5,546.3 509.8,535 509.8,523.8 498.5,520" fill="#e88c53"/>
<polygon points="539.8,505 551.1,497.4 566.1,493.7 577.4,491.8 588.7,497.4 600,503.1 596.2,516.2 584.9,520 577.4,527.5 566.1,531.3 551.1,535 539.8,527.5 539.8,516.2" fill="#df764e"/>
<polygon points="389.5,553.8 408.3,551.9 427.1,546.3 442.1,542.6 457.1,542.6 468.4,548.2 460.9,555.7 445.9,559.5 430.8,557.6 415.8,563.2 397,567 389.5,563.2" fill="#df764e"/>
<polygon points="509.8,523.8 521,527.5 532.3,535 547.3,533.2 562.4,529.4 584.9,523.8 603.7,516.2 622.5,518.1 641.3,518.1 641.3,628.4 509.8,628.4" fill="#df764e"/>
<polygon points="513.5,527.5 524.8,533.2 536.1,538.8 547.3,535 558.6,532.2 577.4,528.5 584.9,524.7 584.9,628.4 513.5,628.4" fill="#c7574a"/>
<polygon points="389.5,565.1 404.5,561.3 423.3,557.6 427.1,565.1 415.8,570.7 397,572.6" fill="#c7574a"/>
<polygon points="648.8,463.6 660.1,454.2 675.1,448.6 693.9,444.8 709,446.7 724,452.3 735.3,459.9 769.5,459.9 769.5,478.7 720.2,476.8 705.2,478.7 690.2,476.8 678.9,482.4 667.6,486.2 656.3,482.4 648.8,474.9" fill="#e88c53"/>
<polygon points="675.1,449.5 686.4,446.7 697.7,452.3 709,456.1 701.4,458 686.4,454.2" fill="#df764e"/>
<polygon points="709,450.5 720.2,452.3 731.5,459.9 735.3,469.3 769.5,469.3 769.5,448.6 716.5,446.7" fill="#df764e"/>
<polygon points="641.3,489.9 656.3,484.3 671.4,486.2 686.4,482.4 701.4,478.7 716.5,476.8 735.3,474.9 769.5,474.9 769.5,535 622.5,535 645.1,510.6 648.8,497.4" fill="#df764e"/>
<polygon points="616.9,495.6 626.3,488 639.4,491.8 648.8,499.3 643.2,508.7 630,510.6 619.7,506.8" fill="#efa854"/>
<polygon points="622.5,499.3 630,493.7 639.4,497.4 639.4,505 630,506.8" fill="#f1c05f"/>
<polygon points="727.8,332.1 718.4,365.9 710.8,384.7 707.1,399.7 712.7,405.4 727.8,405.4 735.3,409.1 769.5,409.1 769.5,332.1" fill="#c7574a"/>
<polygon points="731.5,332.1 724,365.9 720.2,384.7 723.1,399.7 735.3,404.4 769.5,404.4 769.5,332.1" fill="#a54242"/>
<polygon points="734.3,332.1 728.7,365.9 728.7,384.7 730.6,399.7 739,402.5 769.5,402.5 769.5,332.1" fill="#823833"/>
<polygon points="736.2,332.1 733.4,365.9 733.4,384.7 736.2,395 769.5,395 769.5,332.1" fill="#5f2e25"/>
<polygon points="675.1,503.1 686.4,495.6 697.7,495.6 709,488 716.5,478.7 727.8,474.9 735.3,474.9 769.5,474.9 769.5,516.2 697.7,516.2 678.9,510.6" fill="#c7574a"/>
<polygon points="709,493.7 716.5,486.2 727.8,482.4 735.3,484.3 769.5,484.3 769.5,516.2 724,503.1 714.6,499.3" fill="#a54242"/>
<polygon points="731.5,422.3 735.3,424.2 735.3,427.9 731.5,427.9" fill="#c7574a"/>
</g>
<polygon points="289.7,407.2 301,398 316,388.6 331,379.2 342.3,369.8 353.6,358.5 357.3,343.5 368.6,330.3 376.1,322.8 394.9,317.2 413.7,307.8 432.5,300.3 451.3,298.4 470.1,294.6 485.1,296.5 496.4,304 507.7,307.8 522.7,307.8 537.8,304 552.8,307.8 568.2,311.5 568.2,407.2" fill="#efa854"/>
<polygon points="366.7,373.5 368.6,364.2 376.1,362.3 383.7,358.5 394.9,351 402.4,345.4 413.7,341.6 425,334.1 430.6,326.6 440,324.7 447.5,336 447.5,347.2 440,358.5 440,366 432.5,373.5 421.2,381.1 413.7,392.3 394.9,403.6 376.1,407.2 323.5,407.2 331,401.7 338.5,396.1 349.8,388.6 357.3,381.1" fill="#f1c05f"/>
<polygon points="366.7,407.2 376.1,399.9 387.4,388.6 394.9,377.3 402.4,366 410,358.5 417.5,360.4 421.2,367.9 413.7,377.3 406.2,388.6 394.9,399.9 387.4,407.2" fill="#f6dc7a"/>
<polygon points="366.7,341.6 376.1,328.4 387.4,324.7 402.4,320.9 417.5,313.4 432.5,307.8 447.5,305.9 458.8,302.1 473.9,300.3 485.1,302.1 492.7,309.7 503.9,313.4 515.2,317.2 522.7,320.9 530.2,319 539.6,317.2 545.3,324.7 552.8,341.6 545.3,345.4 534,339.7 526.5,332.2 507.7,332.2 488.9,334.1 477.6,332.2 466.3,328.4 458.8,320.9 447.5,317.2 432.5,319 425,324.7 417.5,332.2 406.2,339.7 394.9,345.4 383.7,349.1 372.4,347.2" fill="#e88c53"/>
<polygon points="545.3,311.5 556.5,311.5 568.2,317.2 568.2,328.4 556.5,322.8" fill="#e88c53"/>
<polygon points="197.6,298.4 207,298.4 218.3,305.9 233.3,311.5 244.6,322.8 250.2,334.1 244.6,347.2 233.3,354.8 218.3,358.5 203.2,366 188.2,369.8 169.4,367.9 163.8,343.5 176.9,328.4 188.2,330.3 199.5,324.7 203.2,309.7" fill="#efa854"/>
<polygon points="208.9,326.6 216.4,317.2 229.5,315.3 240.8,322.8 244.6,334.1 238.9,347.2 225.8,352.9 212.6,356.6 199.5,362.3 188.2,366 176.9,362.3 171.3,349.1 180.7,337.8 188.2,336 199.5,341.6 207,343.5 212.6,336" fill="#e88c53"/>
<polygon points="289.7,337.8 301,332.2 302.8,336 295.3,343.5 290.6,341.6" fill="#f6dc7a"/>
<polygon points="188.2,392.3 207,389.5 225.8,392.3 222,399.9 210.8,407.2 188.2,407.2" fill="#efa854"/>
<polygon points="244.6,587.4 252.1,578 267.1,572.3 282.2,561.1 301,551.7 319.8,544.2 334.8,538.5 349.8,531 364.9,527.2 383.7,529.1 398.7,523.5 413.7,516 432.5,514.1 451.3,512.2 466.3,512.2 481.4,519.7 492.7,527.2 500.2,534.8 496.4,542.3 488.9,546 477.6,544.2 470.1,538.5 458.8,534.8 447.5,538.5 432.5,536.6 421.2,540.4 406.2,542.3 391.2,544.2 383.7,551.7 376.1,559.2 368.6,564.8 357.3,566.7 346.1,572.3 334.8,578 323.5,581.7 308.5,587.4 293.4,589.3 278.4,594.9 263.4,598.7 250.2,598.7" fill="#f1c05f"/>
<polygon points="383.7,555.4 394.9,549.8 410,546 425,547.9 440,542.3 455.1,538.5 468.2,542.3 477.6,549.8 470.1,557.3 455.1,561.1 440,564.8 428.8,570.5 413.7,574.2 394.9,576.1 383.7,572.3" fill="#e88c53"/>
<polygon points="387.4,559.2 394.9,553.5 410,549.8 425,551.7 440,546 455.1,542.3 466.3,546 472,550.7 466.3,555.4 451.3,557.3 436.3,561.1 425,564.8 413.7,568.6 394.9,570.5 387.4,564.8" fill="#df764e"/>
<polygon points="394.9,561.1 406.2,555.4 421.2,557.3 425,561.1 413.7,564.8 398.7,566.7" fill="#c7574a"/>
<polygon points="488.9,508.4 496.4,499 511.4,495.3 526.5,493.4 541.5,489.7 556.5,484 568.2,482.1 568.2,542.3 545.3,540.4 526.5,542.3 515.2,532.9 503.9,523.5 492.7,517.8" fill="#e88c53"/>
<polygon points="539.6,504.7 552.8,499 568.2,495.3 568.2,531 556.5,531 545.3,523.5 539.6,514.1" fill="#df764e"/>
<polygon points="255.9,549.8 267.1,544.2 282.2,538.5 297.2,540.4 308.5,544.2 301,549.8 285.9,551.7 270.9,555.4 259.6,555.4" fill="#e88c53"/>
<rect x="0" y="0" width="875" height="663.5" fill="url(#tx2)"/>
</g>
<path class="bord" d="M293.3 127.7L303.6 138.4L310.2 137.4L323.3 142.1L334.6 138.9L345.9 142.1M223.7 206.6L242.5 216.4L251.9 222L251.9 237L246.3 256.8L235.9 257.7L234.1 264.3L237.8 267.1L244.4 268.1L247.2 279.3L235 288.7L238.8 293.4L235 296.2L224.7 300.9L216.2 297.2L215.3 300L207.7 300.9L217.1 323.5L212.4 331.9L215.3 335.7L204.9 342.3L210.6 347.4M118.5 327.3L120.4 331L127.9 328.2L135.4 332.9L148.5 325.4L153.2 325.4L154.2 319.7L161.7 321.6L166.4 317.9L167.3 322.6L172 322.6L174.9 318.8L183.3 329.1L191.8 328.2L203 335.7L204 340.4L210.6 347.4M497.5 189.5L505.1 222L493.8 247.4L512 261.5L508.2 269.9L516.3 287.8L510.7 300.9L515.8 308.5L515.4 316.9L523.8 320.7L526.7 330.1L521 347.4M690.5 159.6L746.5 167.5L758.2 167.1M498.5 347.4L499.4 344.2L502.2 341.3L507.9 342.3L509.8 347.4M524.8 347.4L527.6 342.7L531.4 343.2L534.2 347.4M753.3 120.6L758.2 123L771.4 130.8L790.3 128.5L799.7 141.7L794.1 154.4L796.4 165.4M758.2 167.5L796.4 165.4L804 164.7L820.5 175.8L822.8 188.1M822.8 188.1L827.4 189.8L845.6 186.8L853.5 191.1L861.7 185.2L868.3 186.2L870.3 177.9L874.4 177.9M822.8 188.1L827.1 207.1L837 230.2L837 253.3L819.2 263.6L810.6 276L827.4 287L824.1 313.4L826.6 318.4L829.4 322.5L827.1 327.9L844.2 351.3L838.1 354.6L844.2 368.1L839.8 375.2L829.9 376.9L823.3 384.3M874.4 294L853.8 297.3L840.9 311.8L828.3 310.5L826.1 315.9M736.2 75.2L742.1 74.4L747.8 66.6L772.5 56.9L794 60.3L802.2 56.9L808.1 63.3L816 59.1L845.2 65.8L859.3 64.3L871.2 55.4L874.5 61.1M840.4 374.3L829.7 376.8L793.4 419.6L794.2 441.1L800.5 445.2L800.5 449.8L789.3 446M738.2 427.4L756 426.7L767.9 432L771.2 438.9L789.3 446L781.9 465.8L774.8 473.2L774.8 481.4M738.2 476.5L749.7 472.7L762.1 485.1L774.8 482.3L779.1 481.8L791.3 497.6L799.2 498.8L801.2 505.8M801.2 505.8L809.9 497.6L818.6 503.7L834.6 507L859.4 505.8L871.7 518.5L874.7 516.4M801.2 505.8L792.9 514.7L779.7 517.4L770.3 528.4L769.8 536.7L757.7 553.6L753.9 570.5L746.1 575.7L741.8 591.9L738.2 595.2M88.4 342.2L89.3 347.3L92.2 353.9L100.6 360.1L109.1 355.8L114.3 368L127.9 370.8L130.7 381.5L142 378.3L147.6 385.8L145.4 397.7L157.9 399L168.3 389.6L169.6 407.4L184.3 413.1L191.8 423.4L202.1 420.6L208.7 426.2L217.1 423.4L222.8 424.7L230.3 430.9L235.9 440.9L242.1 439L247.2 444.1L258.5 440.7L263.2 445L271.6 449.7M202.1 420.6L204.9 414L199.7 402.7L208.7 389L213.4 390.9L214.3 397.1L227.9 407.8L222.8 424.7M197.4 347.3L196.8 352L200.2 356.7L210.6 356.7L212.4 347.3M210.6 356.7L217.1 365.2L215.3 368.9L223.2 375.5L223.7 380.8L215.3 385.8L213.4 390.9M272.6 469.5L269.8 482.6L266.9 497.6L265.1 508.9L262.2 518.3L266 524.9M266 524.9L268.8 526.8L285.7 523.6L299.8 523L301.7 520.2L295.1 518.3L299.8 513.6L308.3 519.3L325.2 522.1L338.4 527.7L343.1 524.5L348.7 527.7L354.3 536.2L358.1 540.9L364.7 537.1L365.6 527.7L378.2 527.7M266 524.9L252.8 533.4L251 529.6L244.4 530.5L240.6 537.1L247.2 538.1L240.6 546.5L234.1 555.9L224.7 561.5L225.2 568.1L219 572.8L213.4 578.5L212.4 586L217.1 590.7L220 587.9L232.2 586L237.8 588.8L236.9 599.1L242.5 607.6L246.3 610.4M217.1 590.7L219 596.3L208.7 601.4L214.3 591.6M338.4 527.7L334.6 535.2L331.8 544.6L332.7 552.1L343.1 555L349.6 561.5L356.2 563.4L362.8 556.8L366.5 561.5L364.7 566.2L378.2 570M245.2 609.6L247.1 613.8L251.8 614.7L263 610L274.3 612.8L282.8 600.6L283.7 594L294.4 585.2L295.5 597.8L300.6 602.5L309.1 605.3L308.1 610.9L314.7 617.9L317 613.8L315.1 607.2L323.2 595.9L326 582.2L330.1 582.2L333.5 592.2L348.5 587.8L354.2 595.9L351.9 582.8L357.9 575.8L363.6 579.6L365.5 574.3M247.1 613.8L237.7 619.4L238.6 626L250.8 640.1L247.4 650.4L232 656.1L233.5 662.3M364.7 575.1L364.7 566.2M434.6 375.5L453.4 375.1L468.4 363.3L470.3 365.2L473.1 360.1L485.3 357.6L488.1 353.9L500.4 350.1L503.2 347.3M509.8 347.3L511.6 352L517.3 353.9L523.8 352L525.7 347.3M532.3 347.3L537.9 355.8L552 357.1L559.6 364.6L563.3 362L571.8 363.3L574.6 366.1L566.7 375.1L582.1 391.5L595.3 385.8L591.5 374.6L600 376.4L611.2 383.9L619.7 381.1L620.6 385.8L616.5 389L624.4 398L631 396.5L631.9 395.2L640.4 401.8L649.8 401.8L651.6 412.1L658.2 415.3L660.1 422.5L663.9 429.1L671.4 428.5L680.8 418.3L686.4 428.1L692 429.6L691.7 439L702.4 440.3L705.2 432.8L709.9 429.6L725.9 427.7L731.5 434.1L737.2 432.2L739 427.2L758.2 426.6M434.6 375.5L425.2 383.9L428.9 394.3L438.3 400.9L433.6 410.3L442.1 426.2L456.2 435.6L463.7 446L472.2 452.9L475.9 452.9L483.4 462.9L491 470.4L501.3 473.6L506.9 469.1L514.5 472.3L518.2 461.9L522.9 461L525.7 449.7L531.4 452.9L535.1 450.7L548.3 456.7L553 456.3L566.1 462.9L571.8 463.8L578.3 460.1L592.4 466.6M425.2 383.9L431.8 387.7L428.9 394.3M592.4 466.6L597.1 460.1L612.2 459.1L626.3 453.5L628.2 449.7L633.8 446L636.6 435.6L641.3 432.8L649.8 423.4L660.1 422.5M592.4 466.6L593.4 472.3L589.6 482.6L600 502.3L621.6 516.4L652.6 516.1L659.2 512.7L657.3 504.8L660.1 501.4L680.8 498.6L686.4 491.1L696.7 495.8L710.8 487.3L718.4 475.1L727.8 472.8L735.3 476L749.4 472.3L758.2 480.7M600 502.3L596.2 508.9L598.1 517.4L584.9 519.3L580.2 516.4L575.5 519.3L584.9 527.7L582.1 532.4L575.5 533.4L577.4 554L569.9 555.9L563.3 563.4L559.6 565.3L560.5 574.7L569.9 563.4L578.3 582.2M483.4 462.9L480.6 475.1L470.3 473.6L468.4 483.6L445.9 496.7L455.3 514.6L451.5 518.3L456.8 521.1L456.2 529.6L447.7 525.8L446.8 520.2L438.3 522.5L434.6 518.7L428.9 517.9L427.4 523L406.4 524.3L394.2 534.3L383.8 534.3L378.2 527.7M378.2 566.2L384.8 567.2L389.5 558.7L409.2 557.8L425.2 551.2L425.2 559.7L434.6 571.9L479.7 581.3L509.8 588.8L520.1 576.6L542.6 576.6L553.9 570.9L559.6 574.7M479.2 581.8L467.9 593.1L470.3 597.8L476.3 599.7L471.6 608.1L476.3 610.9L475.4 619.4L485.7 627.9L480.1 629.7M476 637.3L478.2 639.1L491.4 635.9L502.7 637.3L508.3 635.4L511.1 628.8L518.6 636.3L523.3 634.1L529.9 639.7L536.5 637.3L538.4 630.7L535.5 624.7L547.8 619L549.6 608.1L546.8 598.7L570.3 587.5L569.4 582.8L578.2 581.8M551.5 662.3L551.9 651.4L557.5 650.4M578.5 582.7L599.7 599L605.5 610.1L614.4 611.9L624.7 621.3L644.7 622.5L652.7 613.4L658.6 613.1L664.5 612.7L668.8 607.9L674.4 609.4L684.6 600L706.6 600.8L708.5 602.8M708.5 602.8L716.5 599.5L721.4 601.8L728.3 594.6L736.2 596.6L740.7 592.6M708.5 602.8L724.9 622.8L727.1 621.8L726.8 636.1L752.9 653.9L747.6 662.3M658.6 613.1L663.2 622.3L661.6 631.5L668 634.6L664.5 642.1L679.1 650.5L669.8 650.7L666 662.3M558.2 651L570.1 662.3L579 650L593.8 649.3L623.5 659.6L630.2 654.2L635.8 657.9L638.5 654.2L646.7 658.9L653.7 657.6L656.6 662.3"/>
<path class="coast" d="M-2.7 201.3L0.1 207L4.8 216.4L11.4 233.3L18.9 242.7L35.8 243.6L54.6 253L64 269L54.6 291.5L35.8 304.7L20.8 327.3L48.9 331.9L36.7 347.4M11.4 233.3L0.1 246.4L8.5 254.9L18.9 242.7M80.9 347.4L103.4 332.9L124.1 322.6L137.3 308.5L148.5 291.5L157.9 272.8L163.6 257.7L166.4 247.4L177.7 242.7L178.2 269L192.7 278.4L206.8 265.2L206.8 251.1L193.3 247.4L193.3 224.8L212.4 216.4L244.4 216L256.6 202.3L280.1 202.3L298 211.7L300.8 194.8L315.4 180.7L304.5 167.5L315.4 158.5L303.6 139.3L303.6 114.9L285.7 100.8L282.9 77.3M282.8 77.4L282.8 52.2L287.5 36.6L298.2 26.2M298.2 26.2L303.8 21.3L329.7 16.6L342.7 -0.1M367.6 -0.1L367.6 12.8L358.7 34.4L358.7 51.9L379.4 51.9L379.4 70L356.4 78.9L348.6 94.3M348.7 94.2L340.2 106.4L329.9 131.8L349.6 144L350.6 159.1L378.2 170.3M340.2 106.4L360 101.4L375 112.1L374.1 128.4L352.5 128.4L340.2 106.4M418.7 -0.1L431 29.6L452.2 52.5L443.3 70L454.7 92.2M579.4 -0.1L571.9 38.8L557.1 70L513.6 70L495.5 92.2M378.2 170.3L382 172.2L379.1 186.3L378.2 189.1L396.1 189.1L414.8 175L428.9 167.5L452.4 162.8L466.5 149.7L477.8 167.5L464.6 176L479.7 184.4L501.3 189.5L531.4 176L560.5 171.3L584 154.4L613.1 145.3L641.3 141.2L654.1 167.5L674.2 167.5L690.5 159.6L699.9 137.1L725.9 123L737.2 96.1L736.2 79.6M434.4 73.9L388 95.5L394.2 121.5L413.9 125.2L434.6 117.1L426.7 107L440.2 94.6L434.4 73.9M454.7 92.1L454.9 109.6L498.5 109.6L495.5 92.1M385.3 141.6L405.1 136.1L422.9 141.8L413.9 149.7L396.6 154.4L385.3 141.6M633.1 -0.1L639 21.3L656.1 10.9L656.1 -0.1M755.8 -0.1L747.3 21L735 38.8L735 70L736.2 79.6M797.8 -0.1L802.9 3.9L813.6 21.3L833.8 25.8L851.6 12.4L851.6 -0.1M-3.7 363.3L0.1 362.3L33 353.9L38.6 347.3M80.9 347.3L62.1 353.9L56.5 371.7L53.6 392.4L38.6 401.8L21.7 406.5L6.7 414L0.1 437.5L-0.9 445M427.9 662.3L422.8 654.2L426 636.3L440.6 636.3L457.9 623.5L474.8 627.9L469.8 640.5L472.6 658.9L474.8 662.3M492.9 662.3L495.5 645.7L518.6 662.3"/>
<polygon points="0,212.3 385,79.6 752.5,79.6 735,504.3 245,610.4" fill="none" stroke="#ff0d0d" stroke-width="1.35" stroke-linejoin="miter"/>
</g>
<line class="tick" x1="175" y1="0" x2="175" y2="10"/>
<line class="tick" x1="175" y1="653.5" x2="175" y2="663.5"/>
<line class="tick" x1="350" y1="0" x2="350" y2="10"/>
<line class="tick" x1="350" y1="653.5" x2="350" y2="663.5"/>
<line class="tick" x1="525" y1="0" x2="525" y2="10"/>
<line class="tick" x1="525" y1="653.5" x2="525" y2="663.5"/>
<line class="tick" x1="700" y1="0" x2="700" y2="10"/>
<line class="tick" x1="700" y1="653.5" x2="700" y2="663.5"/>
<line class="tick" x1="0" y1="530.8" x2="10" y2="530.8"/>
<line class="tick" x1="865" y1="530.8" x2="875" y2="530.8"/>
<line class="tick" x1="0" y1="398.1" x2="10" y2="398.1"/>
<line class="tick" x1="865" y1="398.1" x2="875" y2="398.1"/>
<line class="tick" x1="0" y1="265.4" x2="10" y2="265.4"/>
<line class="tick" x1="865" y1="265.4" x2="875" y2="265.4"/>
<line class="tick" x1="0" y1="132.7" x2="10" y2="132.7"/>
<line class="tick" x1="865" y1="132.7" x2="875" y2="132.7"/>
<rect class="frame" x="0" y="0" width="875" height="663.5"/>
<circle cx="325.4" cy="243.7" r="13.2" fill="#000"/>
<circle cx="411.3" cy="432" r="13.2" fill="#000"/>
<circle cx="273.2" cy="457" r="13.2" fill="#000"/>
<text class="wl" x="357.5" y="237.6">well 2</text>
<text class="wl" x="341.8" y="401.1">well 1</text>
<text class="wl" x="186.2" y="508">well 3</text>
<text class="ti" x="16" y="61.9">z = 4000 m</text>
<text class="tk" transform="translate(-52.3 16.6) scale(0.865 1)" text-anchor="middle">57.5°</text>
<text class="tk" transform="translate(-52.3 142.6) scale(0.865 1)" text-anchor="middle">55°</text>
<text class="tk" transform="translate(-52.3 279.1) scale(0.865 1)" text-anchor="middle">52,5°</text>
<text class="tk" transform="translate(-52.3 408.2) scale(0.865 1)" text-anchor="middle">50°</text>
<text class="tk" transform="translate(-52.3 545.1) scale(0.865 1)" text-anchor="middle">47,5°</text>
<text class="tk" transform="translate(-52.3 671.8) scale(0.865 1)" text-anchor="middle">45°</text>
<text class="tk" transform="translate(-8.5 709.3) scale(0.865 1)" text-anchor="start">0°</text>
<text class="tk" transform="translate(166.5 709.3) scale(0.865 1)" text-anchor="start">5°</text>
<text class="tk" transform="translate(324.8 709.3) scale(0.865 1)" text-anchor="start">10°</text>
<text class="tk" transform="translate(501.9 709.3) scale(0.865 1)" text-anchor="start">15°</text>
<text class="tk" transform="translate(675 709.3) scale(0.865 1)" text-anchor="start">20°</text>
<text class="tk" transform="translate(850.5 709.3) scale(0.865 1)" text-anchor="start">25°</text>
</g>
<g transform="translate(113 795.7)">
<clipPath id="cp3"><rect x="0" y="0" width="875" height="663.5"/></clipPath>
<g clip-path="url(#cp3)">
<filter id="bl3" x="-5%" y="-5%" width="110%" height="110%"><feGaussianBlur stdDeviation="0.7"/></filter>
<filter id="bh3" x="-5%" y="-5%" width="110%" height="110%"><feGaussianBlur stdDeviation="1.1"/></filter>
<clipPath id="hp3"><polygon points="-60,78.9 753.4,78.9 727,720 -60,720"/></clipPath>
<mask id="mk3" maskUnits="userSpaceOnUse" x="-20" y="-20" width="915" height="703.5"><g clip-path="url(#hp3)"><path d="M381.6 72L378.5 75.2L378.5 79L363.2 79L360.1 82.2L360.1 86L335.6 86L332.5 89.2L332.5 93L317.2 93L314.1 96.2L314.1 100L298.8 100L295.7 103.2L295.7 107L280.4 107L277.3 110.2L277.3 114L262 114L258.9 117.2L258.9 121L234.4 121L231.3 124.2L231.3 128L216.1 128L212.9 131.2L212.9 135L197.7 135L194.5 138.2L194.5 142L179.2 142L176.1 145.2L176.1 149L160.8 149L157.7 152.2L157.7 156L133.2 156L130.1 159.2L130.1 163L114.8 163L111.7 166.2L111.7 170L96.5 170L93.3 173.2L93.3 177L78 177L74.9 180.2L74.9 184L50.4 184L47.3 187.2L47.3 191L32 191L28.9 194.2L28.9 198L13.7 198L10.5 201.2L10.5 205L4.5 205L1.3 208.2L1.3 208.8L4.5 212L10.5 212L10.5 219L10.5 226L10.5 229.8L13.7 233L19.7 233L19.7 240L19.7 243.8L22.8 247L28.9 247L28.9 254L28.9 257.9L32 261L38.1 261L38.1 268L38.1 271.9L41.2 275L47.3 275L47.3 282L47.3 285.9L50.4 289L56.5 289L56.5 296L56.5 299.9L59.6 303L65.7 303L65.7 310L65.7 313.9L68.8 317L74.9 317L74.9 324L74.9 327.9L78 331L84.1 331L84.1 338L84.1 345L84.1 348.9L87.2 352L93.3 352L93.3 359L93.3 362.9L96.5 366L102.5 366L102.5 373L102.5 376.9L105.6 380L111.7 380L111.7 387L111.7 390.9L114.8 394L120.9 394L120.9 401L120.9 404.9L124 408L130.1 408L130.1 415L130.1 418.9L133.2 422L139.3 422L139.3 429L139.3 432.9L142.5 436L148.5 436L148.5 443L148.5 450L148.5 453.9L151.7 457L157.7 457L157.7 464L157.7 467.9L160.8 471L166.9 471L166.9 478L166.9 481.9L170.1 485L176.1 485L176.1 492L176.1 495.9L179.2 499L185.3 499L185.3 506L185.3 509.9L188.5 513L194.5 513L194.5 520L194.5 523.9L197.7 527L203.7 527L203.7 534L203.7 537.9L206.8 541L212.9 541L212.9 548L212.9 555L212.9 558.9L216.1 562L222.1 562L222.1 569L222.1 572.9L225.2 576L231.3 576L231.3 583L231.3 586.9L234.4 590L240.5 590L240.5 597L240.5 600.9L243.7 604L255.7 604L258.9 600.9L258.9 597L292.6 597L295.7 593.9L295.7 590L320.2 590L323.3 586.9L323.3 583L356.9 583L360.1 579.9L360.1 576L384.6 576L387.7 572.9L387.7 569L421.4 569L424.5 565.9L424.5 562L448.9 562L452.1 558.9L452.1 555L485.8 555L488.9 551.9L488.9 548L522.5 548L525.7 544.9L525.7 541L550.1 541L553.3 537.9L553.3 534L586.9 534L590.1 530.9L590.1 527L614.5 527L617.7 523.9L617.7 520L651.3 520L654.5 516.9L654.5 513L688.1 513L691.3 509.9L691.3 506L715.7 506L718.9 502.9L718.9 499L743.3 499L746.5 495.9L746.5 492L746.5 485L746.5 478L746.5 471L746.5 464L746.5 457L746.5 450L746.5 443L746.5 436L746.5 429L746.5 422L746.5 415L746.5 408L746.5 401L746.5 394L746.5 387L746.5 380L746.5 373L746.5 366L746.5 359L746.5 352L752.5 352L755.7 348.9L755.7 345L755.7 338L755.7 331L755.7 324L755.7 317L755.7 310L755.7 303L755.7 296L755.7 289L755.7 282L755.7 275L755.7 268L755.7 261L755.7 254L755.7 247L755.7 240L755.7 233L755.7 226L755.7 219L755.7 212L755.7 205L755.7 198L755.7 191L755.7 184L755.7 177L755.7 170L755.7 163L755.7 156L755.7 149L755.7 142L755.7 135L755.7 128L761.7 128L764.9 124.8L764.9 121L764.9 114L764.9 107L764.9 100L764.9 93L764.9 86L764.9 79L764.9 75.2L761.7 72Z" fill="#fff" filter="url(#bl3)"/></g></mask>
<pattern id="tx3" width="9.2" height="14" patternUnits="userSpaceOnUse" x="1.3" y="2"><rect x="4" y="1" width="1" height="5.5" fill="#fff" opacity="0.16"/><rect x="8.6" y="8" width="1" height="5" fill="#fff" opacity="0.13"/></pattern>
<g clip-path="url(#hp3)"><path d="M381.6 72L378.5 75.2L378.5 79L363.2 79L360.1 82.2L360.1 86L335.6 86L332.5 89.2L332.5 93L317.2 93L314.1 96.2L314.1 100L298.8 100L295.7 103.2L295.7 107L280.4 107L277.3 110.2L277.3 114L262 114L258.9 117.2L258.9 121L234.4 121L231.3 124.2L231.3 128L216.1 128L212.9 131.2L212.9 135L197.7 135L194.5 138.2L194.5 142L179.2 142L176.1 145.2L176.1 149L160.8 149L157.7 152.2L157.7 156L133.2 156L130.1 159.2L130.1 163L114.8 163L111.7 166.2L111.7 170L96.5 170L93.3 173.2L93.3 177L78 177L74.9 180.2L74.9 184L50.4 184L47.3 187.2L47.3 191L32 191L28.9 194.2L28.9 198L13.7 198L10.5 201.2L10.5 205L4.5 205L1.3 208.2L1.3 208.8L4.5 212L10.5 212L10.5 219L10.5 226L10.5 229.8L13.7 233L19.7 233L19.7 240L19.7 243.8L22.8 247L28.9 247L28.9 254L28.9 257.9L32 261L38.1 261L38.1 268L38.1 271.9L41.2 275L47.3 275L47.3 282L47.3 285.9L50.4 289L56.5 289L56.5 296L56.5 299.9L59.6 303L65.7 303L65.7 310L65.7 313.9L68.8 317L74.9 317L74.9 324L74.9 327.9L78 331L84.1 331L84.1 338L84.1 345L84.1 348.9L87.2 352L93.3 352L93.3 359L93.3 362.9L96.5 366L102.5 366L102.5 373L102.5 376.9L105.6 380L111.7 380L111.7 387L111.7 390.9L114.8 394L120.9 394L120.9 401L120.9 404.9L124 408L130.1 408L130.1 415L130.1 418.9L133.2 422L139.3 422L139.3 429L139.3 432.9L142.5 436L148.5 436L148.5 443L148.5 450L148.5 453.9L151.7 457L157.7 457L157.7 464L157.7 467.9L160.8 471L166.9 471L166.9 478L166.9 481.9L170.1 485L176.1 485L176.1 492L176.1 495.9L179.2 499L185.3 499L185.3 506L185.3 509.9L188.5 513L194.5 513L194.5 520L194.5 523.9L197.7 527L203.7 527L203.7 534L203.7 537.9L206.8 541L212.9 541L212.9 548L212.9 555L212.9 558.9L216.1 562L222.1 562L222.1 569L222.1 572.9L225.2 576L231.3 576L231.3 583L231.3 586.9L234.4 590L240.5 590L240.5 597L240.5 600.9L243.7 604L255.7 604L258.9 600.9L258.9 597L292.6 597L295.7 593.9L295.7 590L320.2 590L323.3 586.9L323.3 583L356.9 583L360.1 579.9L360.1 576L384.6 576L387.7 572.9L387.7 569L421.4 569L424.5 565.9L424.5 562L448.9 562L452.1 558.9L452.1 555L485.8 555L488.9 551.9L488.9 548L522.5 548L525.7 544.9L525.7 541L550.1 541L553.3 537.9L553.3 534L586.9 534L590.1 530.9L590.1 527L614.5 527L617.7 523.9L617.7 520L651.3 520L654.5 516.9L654.5 513L688.1 513L691.3 509.9L691.3 506L715.7 506L718.9 502.9L718.9 499L743.3 499L746.5 495.9L746.5 492L746.5 485L746.5 478L746.5 471L746.5 464L746.5 457L746.5 450L746.5 443L746.5 436L746.5 429L746.5 422L746.5 415L746.5 408L746.5 401L746.5 394L746.5 387L746.5 380L746.5 373L746.5 366L746.5 359L746.5 352L752.5 352L755.7 348.9L755.7 345L755.7 338L755.7 331L755.7 324L755.7 317L755.7 310L755.7 303L755.7 296L755.7 289L755.7 282L755.7 275L755.7 268L755.7 261L755.7 254L755.7 247L755.7 240L755.7 233L755.7 226L755.7 219L755.7 212L755.7 205L755.7 198L755.7 191L755.7 184L755.7 177L755.7 170L755.7 163L755.7 156L755.7 149L755.7 142L755.7 135L755.7 128L761.7 128L764.9 124.8L764.9 121L764.9 114L764.9 107L764.9 100L764.9 93L764.9 86L764.9 79L764.9 75.2L761.7 72Z" fill="#fbe6a0" stroke="#fbe6a0" stroke-width="6" stroke-linejoin="round" filter="url(#bh3)"/><path d="M381.6 72L378.5 75.2L378.5 79L363.2 79L360.1 82.2L360.1 86L335.6 86L332.5 89.2L332.5 93L317.2 93L314.1 96.2L314.1 100L298.8 100L295.7 103.2L295.7 107L280.4 107L277.3 110.2L277.3 114L262 114L258.9 117.2L258.9 121L234.4 121L231.3 124.2L231.3 128L216.1 128L212.9 131.2L212.9 135L197.7 135L194.5 138.2L194.5 142L179.2 142L176.1 145.2L176.1 149L160.8 149L157.7 152.2L157.7 156L133.2 156L130.1 159.2L130.1 163L114.8 163L111.7 166.2L111.7 170L96.5 170L93.3 173.2L93.3 177L78 177L74.9 180.2L74.9 184L50.4 184L47.3 187.2L47.3 191L32 191L28.9 194.2L28.9 198L13.7 198L10.5 201.2L10.5 205L4.5 205L1.3 208.2L1.3 208.8L4.5 212L10.5 212L10.5 219L10.5 226L10.5 229.8L13.7 233L19.7 233L19.7 240L19.7 243.8L22.8 247L28.9 247L28.9 254L28.9 257.9L32 261L38.1 261L38.1 268L38.1 271.9L41.2 275L47.3 275L47.3 282L47.3 285.9L50.4 289L56.5 289L56.5 296L56.5 299.9L59.6 303L65.7 303L65.7 310L65.7 313.9L68.8 317L74.9 317L74.9 324L74.9 327.9L78 331L84.1 331L84.1 338L84.1 345L84.1 348.9L87.2 352L93.3 352L93.3 359L93.3 362.9L96.5 366L102.5 366L102.5 373L102.5 376.9L105.6 380L111.7 380L111.7 387L111.7 390.9L114.8 394L120.9 394L120.9 401L120.9 404.9L124 408L130.1 408L130.1 415L130.1 418.9L133.2 422L139.3 422L139.3 429L139.3 432.9L142.5 436L148.5 436L148.5 443L148.5 450L148.5 453.9L151.7 457L157.7 457L157.7 464L157.7 467.9L160.8 471L166.9 471L166.9 478L166.9 481.9L170.1 485L176.1 485L176.1 492L176.1 495.9L179.2 499L185.3 499L185.3 506L185.3 509.9L188.5 513L194.5 513L194.5 520L194.5 523.9L197.7 527L203.7 527L203.7 534L203.7 537.9L206.8 541L212.9 541L212.9 548L212.9 555L212.9 558.9L216.1 562L222.1 562L222.1 569L222.1 572.9L225.2 576L231.3 576L231.3 583L231.3 586.9L234.4 590L240.5 590L240.5 597L240.5 600.9L243.7 604L255.7 604L258.9 600.9L258.9 597L292.6 597L295.7 593.9L295.7 590L320.2 590L323.3 586.9L323.3 583L356.9 583L360.1 579.9L360.1 576L384.6 576L387.7 572.9L387.7 569L421.4 569L424.5 565.9L424.5 562L448.9 562L452.1 558.9L452.1 555L485.8 555L488.9 551.9L488.9 548L522.5 548L525.7 544.9L525.7 541L550.1 541L553.3 537.9L553.3 534L586.9 534L590.1 530.9L590.1 527L614.5 527L617.7 523.9L617.7 520L651.3 520L654.5 516.9L654.5 513L688.1 513L691.3 509.9L691.3 506L715.7 506L718.9 502.9L718.9 499L743.3 499L746.5 495.9L746.5 492L746.5 485L746.5 478L746.5 471L746.5 464L746.5 457L746.5 450L746.5 443L746.5 436L746.5 429L746.5 422L746.5 415L746.5 408L746.5 401L746.5 394L746.5 387L746.5 380L746.5 373L746.5 366L746.5 359L746.5 352L752.5 352L755.7 348.9L755.7 345L755.7 338L755.7 331L755.7 324L755.7 317L755.7 310L755.7 303L755.7 296L755.7 289L755.7 282L755.7 275L755.7 268L755.7 261L755.7 254L755.7 247L755.7 240L755.7 233L755.7 226L755.7 219L755.7 212L755.7 205L755.7 198L755.7 191L755.7 184L755.7 177L755.7 170L755.7 163L755.7 156L755.7 149L755.7 142L755.7 135L755.7 128L761.7 128L764.9 124.8L764.9 121L764.9 114L764.9 107L764.9 100L764.9 93L764.9 86L764.9 79L764.9 75.2L761.7 72Z" fill="#efa656" stroke="#efa656" stroke-width="3" stroke-linejoin="round" filter="url(#bl3)"/></g>
<linearGradient id="gt3" x1="0" y1="0" x2="0" y2="1"><stop offset="0" stop-color="#fff3b0" stop-opacity="0"/><stop offset="0.2" stop-color="#f8d878" stop-opacity="0.9"/><stop offset="0.4" stop-color="#e08850"/><stop offset="0.6" stop-color="#a04a3c"/><stop offset="1" stop-color="#a04a3c"/></linearGradient>
<linearGradient id="gr3" x1="0" y1="0" x2="1" y2="0"><stop offset="0" stop-color="#a04a3c"/><stop offset="0.4" stop-color="#a04a3c"/><stop offset="0.6" stop-color="#e08850"/><stop offset="0.8" stop-color="#f8d878" stop-opacity="0.9"/><stop offset="1" stop-color="#fff3b0" stop-opacity="0"/></linearGradient>
<path d="M379 80.6 L379 74.9 L431 79.6 L431 80.6Z" fill="url(#gt3)"/>
<path d="M431 80.6 L431 73.6 L497 79.6 L497 80.6Z" fill="url(#gt3)"/>
<path d="M497 80.6 L497 73.6 L563 79.6 L563 80.6Z" fill="url(#gt3)"/>
<path d="M563 80.6 L563 73.6 L629 79.6 L629 80.6Z" fill="url(#gt3)"/>
<path d="M629 80.6 L629 73.6 L695 79.6 L695 80.6Z" fill="url(#gt3)"/>
<path d="M695 80.6 L695 73.6 L757.5 79.5 L757.5 80.6Z" fill="url(#gt3)"/>
<path d="M751.3 84.6 L758.8 86.6 L750.7 139.6 L749 139.6Z" fill="url(#gr3)"/>
<path d="M749 139.6 L756.5 141.6 L748.4 194.6 L746.8 194.6Z" fill="url(#gr3)"/>
<path d="M746.8 194.6 L754.3 196.6 L746.1 249.6 L744.5 249.6Z" fill="url(#gr3)"/>
<path d="M744.5 249.6 L752 251.6 L743.9 304.6 L742.2 304.6Z" fill="url(#gr3)"/>
<path d="M742.2 304.6 L749.7 306.6 L741.6 359.6 L740 359.6Z" fill="url(#gr3)"/>
<path d="M740 359.6 L747.5 361.6 L739.3 414.6 L737.7 414.6Z" fill="url(#gr3)"/>
<path d="M737.7 414.6 L745.2 416.6 L737.1 469.6 L735.4 469.6Z" fill="url(#gr3)"/>
<path d="M735.4 469.6 L742.9 471.6 L735.6 504.3 L734 504.3Z" fill="url(#gr3)"/>
<g mask="url(#mk3)">
<clipPath id="q3_0"><rect x="-13.3" y="63" width="390.6" height="284.6"/></clipPath>
<g clip-path="url(#q3_0)">
<rect x="-14" y="62.3" width="392" height="286" fill="#e88c53"/>
<polygon points="136.1,233.3 147.3,225.8 166.1,218.2 184.9,212.6 200,207 211.2,199.5 220.6,188.2 227.2,182.5 230,191.9 241.3,190.1 252.6,175 260.1,173.1 267.6,178.8 282.7,180.7 301.5,179.7 316.5,173.1 324.9,171.3 324,178.8 312.7,184.4 297.7,190.1 290.2,197.6 278.9,205.1 263.9,212.6 252.6,220.1 252.6,237 248.8,252.1 239.4,257.7 233.8,265.2 241.3,270.9 247,280.3 237.6,289.7 222.5,299.1 211.2,300.9 203.7,310.3 184.9,319.7 173.7,321.6 166.1,317.9 153,319.7 156.7,310.3 166.1,302.8 158.6,297.2 147.3,284 141.7,272.8 147.3,257.7 145.5,246.4 137.9,240.8" fill="#efa854"/>
<polygon points="350.3,188.2 357.8,176.9 372.9,171.3 388.3,170.3 388.3,193.8 361.6,193.8" fill="#efa854"/>
<polygon points="256.3,336.6 271.4,329.1 290.2,325.4 309,327.3 324,332.9 316.5,340.4 305.2,358.6 260.1,358.6" fill="#efa854"/>
<polygon points="357.8,308.5 365.3,304.7 372.9,308.5 367.2,314.1 359.7,313.2" fill="#efa854"/>
<polygon points="184.9,358.6 166.1,340.4 147.3,332.9 139.8,321.6 124.8,312.2 109.8,302.8 102.2,284 91,274.6 81.6,265.2 75.9,257.7 77.8,242.7 85.3,227.6 96.6,216.4 109.8,208.9 124.8,199.5 139.8,197.6 154.9,197.6 166.1,190.1 181.2,184.4 196.2,178.8 211.2,171.3 226.3,165.6 241.3,161.9 260.1,160 278.9,158.1 297.7,156.2 309,152.5 312.7,141.2 316.5,133.7 331.5,137.4 346.6,141.2 361.6,139.3 388.3,133.7 388.3,62.3 -14.3,62.3 -14.3,358.6" fill="#df764e"/>
<polygon points="153,358.6 139.8,334.8 124.8,321.6 109.8,306.6 94.7,284 77.8,265.2 66.5,255.8 59,242.7 60.9,227.6 68.4,212.6 79.7,203.2 94.7,199.5 109.8,197.6 128.6,195.7 147.3,193.8 156.7,188.2 166.1,180.7 181.2,175 196.2,171.3 203.7,163.7 218.8,158.1 233.8,156.2 248.8,154.4 263.9,152.5 278.9,150.6 293.9,148.7 305.2,139.3 309,129.9 316.5,126.2 327.8,129.9 339,131.8 354.1,129.9 365.3,126.2 388.3,122.4 388.3,62.3 -14.3,62.3 -14.3,358.6" fill="#c7574a"/>
<polygon points="134.2,358.6 124.8,334.8 113.5,321.6 98.5,302.8 83.4,284 68.4,265.2 53.4,246.4 42.1,231.4 40.2,216.4 45.9,205.1 57.1,197.6 68.4,193.8 91,182.5 128.6,169.4 166.1,156.2 203.7,143.1 222.5,137.4 226.3,145 233.8,148.7 239.4,143.1 241.3,133.7 260.1,128 278.9,129.9 290.2,131.8 297.7,126.2 309,118.6 320.2,116.8 327.8,122.4 339,126.2 354.1,124.3 363.5,116.8 372.9,107.4 388.3,105.5 388.3,62.3 -14.3,62.3 -14.3,358.6" fill="#a54242"/>
<polygon points="119.2,358.6 109.8,334.8 102.2,321.6 91,302.8 75.9,284 62.8,269 51.5,254 40.2,238.9 30.8,227.6 25.2,218.2 15.8,208.9 -14.3,190.1 -14.3,358.6" fill="#823833"/>
<polygon points="222.5,131.8 228.2,141.2 235.7,146.8 239.4,141.2 239.4,131.8" fill="#823833"/>
<polygon points="324,111.1 327.8,120.5 339,124.3 354.1,122.4 363.5,114.9 369.1,105.5 388.3,98 388.3,62.3 324,62.3" fill="#823833"/>
<polygon points="106,358.6 98.5,334.8 91,321.6 77.8,302.8 64.7,284 60.9,270.9 55.3,255.8 42.1,246.4 30.8,240.8 21.4,233.3 12,222 4.5,214.5 -14.3,208.9 -14.3,358.6" fill="#5f2e25"/>
<polygon points="96.6,358.6 89.1,334.8 81.6,321.6 70.3,302.8 59,284 47.7,269 38.3,254 28.9,240.8 19.6,227.6 10.2,218.2 1.1,212.2 -14.3,208.9 -14.3,358.6" fill="#3e2115"/>
<polygon points="233.8,263.4 239.4,255.8 248.8,252.1 260.1,252.1 271.4,254 282.7,259.6 293.9,265.2 305.2,270.9 314.6,274.6 312.7,277.4 297.7,274.6 286.4,270.9 278.9,272.8 263.9,272.8 248.8,270.9 237.6,269" fill="#df764e"/>
<polygon points="215,332.9 222.5,323.5 233.8,325.4 237.6,334.8 233.8,358.6 216.9,358.6" fill="#df764e"/>
<polygon points="147.3,293.4 158.6,297.2 169.9,304.7 177.4,310.3 169.9,316 158.6,312.2 151.1,302.8" fill="#df764e"/>
<polygon points="293.9,201.3 305.2,195.7 320.2,197.6 335.3,205.1 344.7,208.9 339,216.4 324,218.2 312.7,212.6 297.7,208.9" fill="#df764e"/>
<polygon points="117.3,327.3 128.6,325.4 143.6,331 158.6,336.6 173.7,342.3 184.9,358.6 117.3,358.6" fill="#c7574a"/>
</g>
<clipPath id="q3_1"><rect x="376.7" y="63" width="390.6" height="284.6"/></clipPath>
<g clip-path="url(#q3_1)">
<rect x="376" y="62.3" width="392" height="286" fill="#df764e"/>
<polygon points="365.7,137.4 382.6,114.9 395.8,109.2 424,94.2 433.4,99.9 429.6,111.1 437.1,116.8 452.2,118.6 467.2,122.4 482.2,126.2 493.5,133.7 508.6,139.3 523.6,143.1 538.6,148.7 553.7,150.6 564.9,156.2 583.7,160 602.5,160 606.3,163.7 591.2,169.4 576.2,173.1 583.7,178.8 589.4,186.3 583.7,191.9 572.5,190.1 557.4,186.3 553.7,197.6 564.9,208.9 576.2,220.1 583.7,227.6 580,237 568.7,238.9 557.4,237 546.1,246.4 561.2,250.2 576.2,252.1 583.7,257.7 595,263.4 617.6,265.2 621.3,270.9 610,274.6 595,274.6 583.7,280.3 568.7,278.4 549.9,285.9 534.9,289.7 531.1,299.1 534.9,312.2 531.1,329.1 527.3,340.4 523.6,358.6 519.8,336.6 508.6,321.6 489.8,312.2 471,310.3 457.8,312.2 448.4,325.4 452.2,340.4 448.4,358.6 399.6,358.6 414.6,336.6 424,321.6 420.2,316 395.8,321.6 365.7,323.5" fill="#e88c53"/>
<polygon points="401.4,257.7 410.8,250.2 418.3,242.7 425.9,231.4 422.1,222 425.9,212.6 437.1,208.9 452.2,214.5 459.7,220.1 455.9,227.6 444.7,233.3 440.9,242.7 433.4,250.2 425.9,257.7 414.6,265.2 405.2,265.2" fill="#df764e"/>
<polygon points="365.7,156.2 395.8,158.1 410.8,164.7 395.8,171.3 365.7,175" fill="#df764e"/>
<polygon points="365.7,182.5 388.3,186.3 399.6,193.8 403.3,205.1 399.6,208.9 388.3,197.6 365.7,193.8" fill="#df764e"/>
<polygon points="533,212.6 546.1,211.7 549.9,218.2 544.3,222" fill="#df764e"/>
<polygon points="606.3,225.8 621.3,223.9 632.6,222 640.1,227.6 655.1,222 666.4,225.8 658.9,235.2 647.6,240.8 636.3,237 621.3,233.3 610,229.5" fill="#e88c53"/>
<polygon points="549.9,299.1 564.9,295.3 583.7,293.4 602.5,291.5 621.3,293.4 632.6,291.5 643.9,302.8 655.1,310.3 658.9,319.7 666.4,325.4 670.2,336.6 685.2,340.4 696.5,358.6 606.3,358.6 591.2,321.6 572.5,316 557.4,310.3" fill="#e88c53"/>
<polygon points="623.2,163.7 628.8,160.9 634.5,165.6 632.6,171.3 625.1,167.5" fill="#e88c53"/>
<polygon points="647.6,152.5 658.9,150.6 664.5,156.2 658.9,161.9 651.4,160" fill="#e88c53"/>
<polygon points="425.9,301.9 433.4,297.2 444.7,298.1 439,304.7 429.6,304.7" fill="#efa854"/>
<polygon points="365.7,62.3 365.7,124.3 384.5,122.4 388.3,109.2 382.6,98 392,92.3 414.6,88.6 439,84.8 448.4,96.1 455.9,109.2 467.2,120.5 482.2,116.8 497.3,114.9 508.6,120.5 516.1,131.8 527.3,139.3 546.1,142.1 564.9,146.8 580,152.5 595,148.7 613.8,141.2 628.8,139.3 643.9,143.1 655.1,150.6 662.7,154.4 664.5,161.9 658.9,169.4 670.2,178.8 681.5,186.3 687.1,197.6 685.2,208.9 692.7,223.9 700.2,238.9 702.1,254 700.2,265.2 696.5,276.5 700.2,287.8 696.5,299.1 696.5,321.6 707.8,329.1 715.3,358.6 768.3,358.6 768.3,62.3" fill="#c7574a"/>
<polygon points="448.4,62.3 448.4,96.1 455.9,109.2 499.2,110.2 508.6,113 527.3,114.9 546.1,112.1 564.9,111.1 583.7,111.1 595,107.4 606.3,99.9 617.6,96.1 640.1,95.2 658.9,96.1 677.7,98 696.5,101.7 704,111.1 707.8,126.2 711.5,141.2 715.3,156.2 704,171.3 704,197.6 707.8,220.1 713.4,242.7 717.2,265.2 719,287.8 720.9,312.2 724.7,358.6 768.3,358.6 768.3,62.3" fill="#a54242"/>
<polygon points="489.8,62.3 508.6,82.9 546.1,84.8 583.7,83.9 621.3,83.9 658.9,84.8 696.5,85.8 707.8,88.6 713.4,107.4 719,126.2 722.8,152.5 720.9,175 720.9,208.9 722.8,246.4 726.6,284 728.4,321.6 730.3,358.6 768.3,358.6 768.3,62.3" fill="#823833"/>
<polygon points="724.7,62.3 722.8,105.5 728.4,124.3 732.2,152.5 734.1,190.1 736,227.6 734.1,265.2 733.1,302.8 734.1,358.6 768.3,358.6 768.3,62.3" fill="#5f2e25"/>
<polygon points="739.7,84.8 751,81.1 768.3,81.1 768.3,133.7 741.6,133.7 737.8,114.9" fill="#3e2115"/>
<polygon points="737.8,293.4 736,321.6 736.9,358.6 768.3,358.6 768.3,293.4" fill="#3e2115"/>
<polygon points="365.7,62.3 365.7,92.3 384.5,90.5 386.4,84.8 380.8,81.1" fill="#5f2e25"/>
<polygon points="365.7,114.9 384.5,120.5 382.6,128 365.7,129.9" fill="#c7574a"/>
</g>
<clipPath id="q3_2"><rect x="-13.3" y="347" width="390.6" height="270.6"/></clipPath>
<g clip-path="url(#q3_2)">
<rect x="-14" y="346.3" width="392" height="272" fill="#e88c53"/>
<polygon points="162.4,383 169.9,373.6 184.9,368 200,362.3 215,360.5 226.3,366.1 231.9,375.5 226.3,383 211.2,384.9 192.5,384.9 177.4,386.8" fill="#efa854"/>
<polygon points="160.5,454.4 173.7,445 188.7,437.5 203.7,431.9 222.5,428.1 233.8,422.5 245.1,416.8 260.1,407.4 275.1,399.9 290.2,392.4 297.7,390.5 295.8,398 282.7,409.3 271.4,418.7 267.6,428.1 260.1,435.6 248.8,439.4 237.6,445 245.1,452.5 252.6,460.1 241.3,463.8 230,460.1 215,456.3 200,458.2 184.9,460.1 173.7,460.1" fill="#efa854"/>
<polygon points="309,446.9 316.5,433.7 331.5,422.5 346.6,413.1 361.6,403.7 388.3,398 388.3,433.7 365.3,437.5 354.1,445 339,450.7 324,452.5 312.7,452.5" fill="#efa854"/>
<polygon points="312.7,379.2 320.2,368 333.4,358.6 337.2,362.3 329.6,371.7 320.2,381.1" fill="#efa854"/>
<polygon points="194.3,475.1 207.5,469.5 226.3,467.6 245.1,463.8 260.1,460.1 256.3,467.6 241.3,473.2 222.5,477 203.7,478.9" fill="#efa854"/>
<polygon points="305.2,546.5 316.5,535.2 335.3,527.7 350.3,516.4 365.3,510.8 388.3,510.8 388.3,535.2 365.3,539 350.3,546.5 335.3,554 320.2,554 309,552.1" fill="#efa854"/>
<polygon points="239.4,552.1 247,546.5 256.3,550.3 252.6,557.8 243.2,559.7" fill="#efa854"/>
<polygon points="260.1,561.5 271.4,557.8 282.7,563.4 277,572.8 263.9,570.9" fill="#efa854"/>
<polygon points="297.7,557.8 312.7,554 324,559.7 316.5,567.2 303.3,569.1" fill="#efa854"/>
<polygon points="222.5,332.3 241.3,332.3 239.4,352 226.3,352.9" fill="#efa854"/>
<polygon points="357.8,550.3 388.3,548.4 388.3,559.7 361.6,559.7" fill="#efa854"/>
<polygon points="245.1,392.4 256.3,383 271.4,384.9 286.4,386.8 278.9,394.3 267.6,392.4 260.1,399.9 248.8,398" fill="#df764e"/>
<polygon points="290.2,399.9 297.7,388.6 316.5,379.2 335.3,368 354.1,362.3 361.6,368 354.1,375.5 339,384.9 327.8,396.2 316.5,403.7 305.2,409.3 293.9,407.4" fill="#df764e"/>
<polygon points="284.5,422.5 293.9,411.2 309,403.7 316.5,409.3 312.7,422.5 301.5,431.9 290.2,437.5" fill="#df764e"/>
<polygon points="269.5,431.9 277,426.2 280.8,431.9 277,441.3 271.4,439.4" fill="#c7574a"/>
<polygon points="166.1,463.8 184.9,467.6 200,475.1 196.2,478.9 177.4,475.1" fill="#df764e"/>
<polygon points="211.2,516.4 222.5,512.7 233.8,527.7 241.3,535.2 263.9,527.7 282.7,527.7 297.7,524 290.2,535.2 275.1,542.8 260.1,550.3 245.1,546.5 233.8,542.8 222.5,535.2" fill="#df764e"/>
<polygon points="-14.3,332.3 184.9,332.3 183.1,362.3 177.4,384.9 184.9,403.7 196.2,422.5 184.9,435.6 173.7,445 158.6,452.5 -14.3,452.5" fill="#df764e"/>
<polygon points="-14.3,332.3 153,332.3 158.6,366.1 166.1,384.9 177.4,403.7 184.9,422.5 177.4,435.6 169.9,445 156.7,452.5 -14.3,452.5" fill="#c7574a"/>
<polygon points="-14.3,332.3 134.2,332.3 143.6,366.1 153,384.9 166.1,403.7 175.5,422.5 169.9,437.5 166.1,445 154.9,452.5 -14.3,452.5" fill="#a54242"/>
<polygon points="-14.3,332.3 119.2,332.3 128.6,366.1 139.8,384.9 153,403.7 166.1,422.5 166.1,437.5 162.4,445 153,452.5 -14.3,452.5" fill="#823833"/>
<polygon points="-14.3,332.3 106,332.3 117.3,366.1 128.6,384.9 141.7,403.7 153,422.5 158.6,437.5 158.6,445 -14.3,452.5" fill="#5f2e25"/>
<polygon points="-14.3,332.3 96.6,332.3 106,366.1 117.3,384.9 130.4,403.7 143.6,422.5 151.1,437.5 153,445 -14.3,452.5" fill="#3e2115"/>
<polygon points="158.6,460.1 169.9,467.6 181.2,478.9 196.2,490.1 211.2,501.4 222.5,512.7 233.8,527.7 241.3,539 237.6,554 228.2,565.3 230,580.3 241.3,595.4 248.8,610.4 -14.3,628.6 -14.3,460.1" fill="#df764e"/>
<polygon points="162.4,467.6 173.7,478.9 184.9,490.1 200,503.3 211.2,516.4 222.5,527.7 231.9,539 226.3,550.3 222.5,561.5 218.8,572.8 -14.3,628.6 -14.3,467.6" fill="#c7574a"/>
<polygon points="166.1,478.9 177.4,490.1 188.7,503.3 200,516.4 209.4,529.6 215,542.8 213.1,554 -14.3,628.6 -14.3,478.9" fill="#a54242"/>
<polygon points="166.1,478.9 175.5,482.6 183.1,497.6 190.6,512.7 196.2,525.8 201.8,535.2 -14.3,628.6 -14.3,478.9" fill="#823833"/>
<polygon points="160.5,460.1 166.1,463.8 168,471.3 -14.3,471.3 -14.3,460.1" fill="#823833"/>
<polygon points="228.2,578.5 237.6,582.2 247,597.3 260.1,597.3 275.1,597.3 290.2,591.6 309,587.9 327.8,582.2 346.6,578.5 365.3,572.8 388.3,570.9 388.3,628.6 245.1,628.6 222.5,591.6" fill="#c7574a"/>
<polygon points="231.9,589.7 241.3,597.3 248.8,606.6 263.9,604.8 282.7,600.1 305.2,595.4 327.8,589.7 350.3,584.1 388.3,577.5 388.3,628.6 245.1,628.6" fill="#a54242"/>
</g>
<clipPath id="q3_3"><rect x="376.7" y="347" width="390.6" height="270.6"/></clipPath>
<g clip-path="url(#q3_3)">
<rect x="376" y="346.3" width="392" height="272" fill="#df764e"/>
<polygon points="365.7,332.3 440.9,332.3 442.8,358.6 433.4,366.1 435.3,377.4 439,384.9 452.2,392.4 463.4,384.9 482.2,383 493.5,388.6 499.2,396.2 493.5,405.6 482.2,409.3 467.2,413.1 459.7,422.5 465.3,431.9 471,437.5 478.5,445 489.8,452.5 501,460.1 516.1,471.3 519.8,478.9 508.6,482.6 489.8,482.6 471,480.7 459.7,488.2 455.9,497.6 463.4,508.9 467.2,516.4 455.9,520.2 459.7,527.7 452.2,535.2 433.4,539 414.6,542.8 395.8,546.5 384.5,554 365.7,563.4" fill="#e88c53"/>
<polygon points="365.7,358.6 388.3,354.8 407.1,352.9 425.9,356.7 433.4,366.1 429.6,371.7 414.6,373.6 399.6,371.7 388.3,375.5 365.7,377.4" fill="#efa854"/>
<polygon points="365.7,508.9 395.8,503.3 414.6,499.5 433.4,497.6 448.4,501.4 459.7,508.9 463.4,516.4 455.9,522.1 440.9,524 425.9,522.1 410.8,525.8 395.8,531.5 384.5,535.2 365.7,535.2" fill="#efa854"/>
<polygon points="452.2,426.2 459.7,418.7 471,415 474.7,422.5 467.2,430 455.9,431.9" fill="#df764e"/>
<polygon points="365.7,430 384.5,431.9 386.4,435.6 365.7,437.5" fill="#df764e"/>
<polygon points="527.3,360.5 534.9,354.8 546.1,358.6 553.7,364.2 546.1,368 534.9,366.1" fill="#e88c53"/>
<polygon points="501,428.1 512.3,418.7 523.6,409.3 531.1,407.4 538.6,413.1 553.7,413.1 564.9,416.8 572.5,422.5 574.3,430 564.9,437.5 553.7,441.3 546.1,448.8 534.9,445 523.6,441.3 516.1,431.9 508.6,430" fill="#e88c53"/>
<polygon points="504.8,405.6 512.3,401.8 519.8,405.6 512.3,410.3" fill="#e88c53"/>
<polygon points="589.4,396.2 596.9,392.4 604.4,396.2 596.9,399.9" fill="#e88c53"/>
<polygon points="469.1,480.7 482.2,471.3 497.3,467.6 512.3,469.5 519.8,475.1 516.1,482.6 501,484.5 482.2,486.4" fill="#e88c53"/>
<polygon points="459.7,520.2 474.7,514.6 489.8,516.4 501,524 504.8,531.5 493.5,535.2 478.5,531.5 467.2,527.7" fill="#e88c53"/>
<polygon points="576.2,490.1 580,478.9 591.2,467.6 595,456.3 610,448.8 625.1,437.5 640.1,431.9 651.4,424.4 666.4,420.6 677.7,418.7 689,422.5 704,426.2 715.3,430 726.6,437.5 730.3,448.8 715.3,452.5 696.5,452.5 677.7,456.3 662.7,460.1 647.6,467.6 636.3,478.9 628.8,490.1 621.3,497.6 610,501.4 598.8,497.6 591.2,493.9" fill="#e88c53"/>
<polygon points="595,478.9 602.5,467.6 613.8,460.1 625.1,458.2 627,467.6 619.4,477 610,486.4 600.6,490.1" fill="#efa854"/>
<polygon points="643.9,448.8 658.9,439.4 673.9,435.6 689,437.5 704,443.1 711.5,446.9 696.5,448.8 677.7,450.7 658.9,454.4 647.6,456.3" fill="#efa854"/>
<polygon points="606.3,332.3 715.3,332.3 713.4,366.1 711.5,384.9 707.8,399.9 700.2,409.3 689,415 677.7,411.2 696.5,403.7 702.1,396.2 692.7,388.6 677.7,381.1 658.9,379.2 640.1,384.9 628.8,381.1 621.3,369.9 613.8,358.6" fill="#e88c53"/>
<polygon points="621.3,366.1 627,358.6 636.3,368 638.2,375.5 628.8,377.4 621.3,373.6" fill="#efa854"/>
<polygon points="630.7,405.6 640.1,403.7 647.6,409.3 643.9,413.1 634.5,412.1" fill="#c7574a"/>
<polygon points="516.1,524 523.6,505.2 538.6,497.6 546.1,488.2 557.4,486.4 568.7,493.9 576.2,503.3 583.7,510.8 595,516.4 602.5,524 583.7,529.6 564.9,533.4 546.1,539 527.3,544.6 516.1,535.2" fill="#c7574a"/>
<polygon points="388.3,557.8 403.3,550.3 425.9,548.4 440.9,542.8 455.9,542.8 471,550.3 467.2,555.9 452.2,559.7 433.4,563.4 414.6,569.1 395.8,572.8 388.3,569.1" fill="#c7574a"/>
<polygon points="482.2,546.5 497.3,542.8 508.6,544.6 504.8,550.3 489.8,552.1" fill="#c7574a"/>
<polygon points="393.9,567.2 401.4,565.3 405.2,570.9 397.7,572.8" fill="#a54242"/>
<polygon points="658.9,482.6 670.2,477 681.5,467.6 696.5,458.2 715.3,454.4 734.1,452.5 768.3,452.5 768.3,516.4 658.9,516.4 643.9,512.7 655.1,501.4 658.9,493.9" fill="#c7574a"/>
<polygon points="677.7,486.4 689,478.9 700.2,469.5 715.3,460.1 734.1,458.2 768.3,458.2 768.3,516.4 685.2,503.3 677.7,495.8" fill="#a54242"/>
<polygon points="692.7,486.4 704,475.1 715.3,467.6 730.3,467.6 768.3,467.6 768.3,508.9 715.3,497.6 700.2,495.8" fill="#823833"/>
<polygon points="722.8,458.2 734.1,460.1 768.3,460.1 768.3,501.4 726.6,493.9 715.3,486.4 720.9,475.1" fill="#5f2e25"/>
<polygon points="715.3,332.3 713.4,375.5 715.3,403.7 711.5,422.5 715.3,431.9 768.3,431.9 768.3,332.3" fill="#c7574a"/>
<polygon points="720.9,332.3 719,375.5 720.9,403.7 719,422.5 722.8,431.9 768.3,431.9 768.3,332.3" fill="#a54242"/>
<polygon points="724.7,332.3 723.7,375.5 724.7,403.7 724.7,422.5 728.4,430.9 768.3,430.9 768.3,332.3" fill="#823833"/>
<polygon points="728.4,332.3 726.6,366.1 728.4,384.9 734.1,392.4 768.3,392.4 768.3,332.3" fill="#3e2115"/>
<polygon points="730.3,403.7 728.4,418.7 732.2,430 768.3,430 768.3,403.7" fill="#3e2115"/>
</g>
<polygon points="235.9,334.3 262.2,324.9 318.6,321.1 356.1,324.9 431.3,330.5 442.6,336.2 446.3,349.3 438.8,362.5 374.9,366.2 318.6,362.5 262.2,362.5 235.9,358.7" fill="#e88c53"/>
<polygon points="359.9,343.7 371.2,330.5 382.5,323 397.5,319.2 412.5,315.5 421.9,315.5 423.8,323 416.3,334.3 405,341.8 393.7,349.3 382.5,356.8 371.2,358.7 361.8,356.8 358,349.3" fill="#df764e"/>
<polygon points="450.1,317.4 457.6,311.7 476.4,309.9 487.7,311.7 499,321.1 510.2,326.8 521.5,334.3 525.3,343.7 517.8,353.1 510.2,351.2 499,349.3 487.7,353.1 476.4,358.7 465.1,362.5 450.1,364.4 440.7,362.5 442.6,351.2 450.1,339.9 448.2,328.6" fill="#df764e"/>
<polygon points="530.9,291.1 544.1,287.3 567,287.3 567,311.7 555.3,311.7 547.8,302.3 536.6,298.6" fill="#df764e"/>
<polygon points="525.3,343.7 536.6,328.6 544.1,315.5 555.3,313.6 567,315.5 567,407.4 480.2,407.4 468.9,392.5 461.4,383.1 472.7,371.9 487.7,366.2 506.5,362.5 521.5,358.7 529,355" fill="#df764e"/>
<polygon points="213.3,336.2 218.9,324.9 230.2,323 237.7,332.4 235.9,343.7 226.5,349.3 217.1,345.6" fill="#df764e"/>
<polygon points="292.2,407.4 307.3,396.3 322.3,388.8 333.6,377.5 341.1,366.2 348.6,360.6 359.9,362.5 363.7,368.1 356.1,375.6 352.4,366.2 344.9,371.9 337.3,381.3 341.1,392.5 337.3,407.4" fill="#df764e"/>
<polygon points="243.4,392.5 252.8,383.1 262.2,388.8 269.7,385 284.7,383.1 286.6,388.8 277.2,396.3 269.7,403.8 262.2,400.1 250.9,396.3" fill="#df764e"/>
<polygon points="187,341.8 196.4,347.4 211.4,349.3 211.4,356.8 198.3,358.7 187,362.5" fill="#df764e"/>
<polygon points="187,388.8 198.3,386.9 213.3,388.8 228.3,388.8 230.2,396.3 220.8,407.4 187,407.4" fill="#df764e"/>
<polygon points="256.5,338 265.9,330.5 281,326.8 296,324.9 309.2,328.6 322.3,328.6 325.1,334.3 316.7,339.9 314.8,345.6 303.5,345.6 292.2,349.3 282.8,353.1 273.4,347.4 262.2,349.3 258.4,343.7" fill="#efa854"/>
<polygon points="374.9,368.1 386.2,360.6 401.2,355 416.3,349.3 427.6,345.6 431.3,355 435.1,362.5 431.3,370 423.8,375.6 412.5,385 401.2,396.3 393.7,407.4 374.9,407.4 382.5,392.5 378.7,381.3" fill="#efa854"/>
<polygon points="380.6,373.7 390,370 393.7,377.5 390,388.8 384.3,381.3" fill="#f1c05f"/>
<polygon points="311,379.4 318.6,370 329.8,360.6 337.3,356.8 339.2,362.5 331.7,371.9 322.3,379.4 314.8,383.1" fill="#efa854"/>
<polygon points="187,371.9 198.3,366.2 211.4,362.5 224.6,366.2 232.1,375.6 220.8,379.4 205.8,381.3 187,379.4" fill="#efa854"/>
<polygon points="357.1,309.9 361.8,304.2 371.2,305.2 374,309.9 367.4,314.6 359.9,313.6" fill="#efa854"/>
<polygon points="425.7,302.3 435.1,296.7 446.3,298.6 438.8,305.2 429.4,305.2" fill="#efa854"/>
<polygon points="279.1,407.4 288.5,396.3 297.9,390.7 296,400.1 288.5,407.4" fill="#efa854"/>
<polygon points="527.2,362.5 534.7,355 544.1,356.8 553.5,362.5 544.1,367.2 532.8,366.2" fill="#efa854"/>
<polygon points="549.7,306.1 559.1,296.7 567,294.8 567,315.5 557.2,315.5" fill="#efa854"/>
<polygon points="450.2,319 456.5,312.6 462.8,310.2 481.8,309.5 488.1,312.6 497.6,319 507.1,323.7 516.6,328.4 523,333.2 526.1,328.4 532.5,319 534,307.9 535.6,296.8 532.5,287.3 549.9,287.3 549.9,301.5 554.6,307.9 560.9,312.6 573.6,315.8 586.3,317.4 592.6,323.7 595.8,333.2 602.1,341.1 605.3,350.6 611.6,360.1 614.8,369.6 621.1,377.5 627.4,382.3 621.1,388.6 605.3,391.8 589.4,390.2 573.6,385.4 557.8,382.3 542,375.9 526.1,369.6 510.3,366.4 494.5,363.3 483.4,361.7 469.2,360.1 456.5,358.5 447,361.7 447,323.7" fill="#df764e"/>
<polygon points="549.9,301.5 557.8,296.8 573.6,293.6 589.4,292 605.3,293.6 621.1,292 630.6,295.2 636.9,292 646.4,296.8 652.7,303.1 657.5,312.6 665.4,319 670.1,325.3 668.6,333.2 674.9,336.4 687.6,337.9 693.9,342.7 698.6,350.6 706.5,361.7 709.7,372.8 712.9,385.4 712.9,394.9 703.4,398.1 697,391.8 687.6,388.6 678.1,382.3 671.7,379.1 659.1,380.7 649.6,383.8 636.9,380.7 627.4,382.3 621.1,377.5 614.8,369.6 611.6,360.1 605.3,350.6 602.1,341.1 595.8,333.2 592.6,323.7 586.3,317.4 573.6,315.8 560.9,312.6 554.6,307.9" fill="#e88c53"/>
<polygon points="621.1,360.1 624.3,358.5 633.7,366.4 638.5,372.8 633.7,377.5 621.1,372.8" fill="#efa854"/>
<polygon points="447,287.3 532.5,287.3 535.6,296.8 534,307.9 532.5,319 526.1,328.4 523,333.2 516.6,328.4 507.1,323.7 497.6,319 488.1,312.6 481.8,309.5 462.8,310.2 456.5,312.6 450.2,319 447,323.7" fill="#e88c53"/>
<polygon points="447,361.7 456.5,358.5 469.2,360.1 483.4,361.7 475.5,366.4 466,372.8 462.8,380.7 469.2,385.4 485,388.6 494.5,391.8 499.2,398.1 494.5,407.3 447,407.3" fill="#e88c53"/>
<polygon points="527.7,360.1 532.5,355.4 542,356.9 551.5,361.7 553,364.8 545.1,366.4 535.6,364.8" fill="#e88c53"/>
<polygon points="589.4,395.7 595.8,393.3 603.7,395.7 597.3,398.9" fill="#e88c53"/>
<polygon points="671.7,379.1 678.1,382.3 687.6,388.6 697,391.8 703.4,398.1 700.2,407.3 636.9,407.3 633.7,398.1 636.9,388.6 649.6,383.8 659.1,380.7" fill="#df764e"/>
<polygon points="698.6,287.3 700.2,300 697,311 697,319 706.5,323.7 712.9,334.8 716,350.6 719.2,366.4 722.4,382.3 725.5,398.1 728.7,407.3 767,407.3 767,287.3" fill="#c7574a"/>
<polygon points="716,287.3 717.6,303.1 716,315.8 720.8,326.9 724,342.7 725.5,358.5 727.1,374.3 728.7,390.2 730.3,407.3 767,407.3 767,287.3" fill="#a54242"/>
<polygon points="722.4,287.3 724,303.1 723.2,319 725.5,334.8 727.1,350.6 727.9,366.4 728.7,382.3 731.9,407.3 767,407.3 767,287.3" fill="#823833"/>
<polygon points="727.1,287.3 731.9,290.5 739.8,300 739.8,319 730.3,306.3" fill="#3e2115"/>
<polygon points="725.5,287.3 728.7,303.1 731.9,319 739.8,328.4 741.4,287.3" fill="#5f2e25"/>
<polygon points="728.7,347.4 738.2,353.8 738.2,375.9 731.9,369.6 729.5,358.5" fill="#3e2115"/>
<polygon points="727.9,342.7 730.3,347.4 731.9,375.9 738.2,382.3 739.8,347.4" fill="#5f2e25"/>
<polygon points="730.3,401.2 736.6,404.4 738.2,407.3 730.3,407.3" fill="#5f2e25"/>
<rect x="0" y="0" width="875" height="663.5" fill="url(#tx3)"/>
</g>
<path class="bord" d="M293.3 127.7L303.6 138.4L310.2 137.4L323.3 142.1L334.6 138.9L345.9 142.1M223.7 206.6L242.5 216.4L251.9 222L251.9 237L246.3 256.8L235.9 257.7L234.1 264.3L237.8 267.1L244.4 268.1L247.2 279.3L235 288.7L238.8 293.4L235 296.2L224.7 300.9L216.2 297.2L215.3 300L207.7 300.9L217.1 323.5L212.4 331.9L215.3 335.7L204.9 342.3L210.6 347.4M118.5 327.3L120.4 331L127.9 328.2L135.4 332.9L148.5 325.4L153.2 325.4L154.2 319.7L161.7 321.6L166.4 317.9L167.3 322.6L172 322.6L174.9 318.8L183.3 329.1L191.8 328.2L203 335.7L204 340.4L210.6 347.4M497.5 189.5L505.1 222L493.8 247.4L512 261.5L508.2 269.9L516.3 287.8L510.7 300.9L515.8 308.5L515.4 316.9L523.8 320.7L526.7 330.1L521 347.4M690.5 159.6L746.5 167.5L758.2 167.1M498.5 347.4L499.4 344.2L502.2 341.3L507.9 342.3L509.8 347.4M524.8 347.4L527.6 342.7L531.4 343.2L534.2 347.4M753.3 120.6L758.2 123L771.4 130.8L790.3 128.5L799.7 141.7L794.1 154.4L796.4 165.4M758.2 167.5L796.4 165.4L804 164.7L820.5 175.8L822.8 188.1M822.8 188.1L827.4 189.8L845.6 186.8L853.5 191.1L861.7 185.2L868.3 186.2L870.3 177.9L874.4 177.9M822.8 188.1L827.1 207.1L837 230.2L837 253.3L819.2 263.6L810.6 276L827.4 287L824.1 313.4L826.6 318.4L829.4 322.5L827.1 327.9L844.2 351.3L838.1 354.6L844.2 368.1L839.8 375.2L829.9 376.9L823.3 384.3M874.4 294L853.8 297.3L840.9 311.8L828.3 310.5L826.1 315.9M736.2 75.2L742.1 74.4L747.8 66.6L772.5 56.9L794 60.3L802.2 56.9L808.1 63.3L816 59.1L845.2 65.8L859.3 64.3L871.2 55.4L874.5 61.1M840.4 374.3L829.7 376.8L793.4 419.6L794.2 441.1L800.5 445.2L800.5 449.8L789.3 446M738.2 427.4L756 426.7L767.9 432L771.2 438.9L789.3 446L781.9 465.8L774.8 473.2L774.8 481.4M738.2 476.5L749.7 472.7L762.1 485.1L774.8 482.3L779.1 481.8L791.3 497.6L799.2 498.8L801.2 505.8M801.2 505.8L809.9 497.6L818.6 503.7L834.6 507L859.4 505.8L871.7 518.5L874.7 516.4M801.2 505.8L792.9 514.7L779.7 517.4L770.3 528.4L769.8 536.7L757.7 553.6L753.9 570.5L746.1 575.7L741.8 591.9L738.2 595.2M88.4 342.2L89.3 347.3L92.2 353.9L100.6 360.1L109.1 355.8L114.3 368L127.9 370.8L130.7 381.5L142 378.3L147.6 385.8L145.4 397.7L157.9 399L168.3 389.6L169.6 407.4L184.3 413.1L191.8 423.4L202.1 420.6L208.7 426.2L217.1 423.4L222.8 424.7L230.3 430.9L235.9 440.9L242.1 439L247.2 444.1L258.5 440.7L263.2 445L271.6 449.7M202.1 420.6L204.9 414L199.7 402.7L208.7 389L213.4 390.9L214.3 397.1L227.9 407.8L222.8 424.7M197.4 347.3L196.8 352L200.2 356.7L210.6 356.7L212.4 347.3M210.6 356.7L217.1 365.2L215.3 368.9L223.2 375.5L223.7 380.8L215.3 385.8L213.4 390.9M272.6 469.5L269.8 482.6L266.9 497.6L265.1 508.9L262.2 518.3L266 524.9M266 524.9L268.8 526.8L285.7 523.6L299.8 523L301.7 520.2L295.1 518.3L299.8 513.6L308.3 519.3L325.2 522.1L338.4 527.7L343.1 524.5L348.7 527.7L354.3 536.2L358.1 540.9L364.7 537.1L365.6 527.7L378.2 527.7M266 524.9L252.8 533.4L251 529.6L244.4 530.5L240.6 537.1L247.2 538.1L240.6 546.5L234.1 555.9L224.7 561.5L225.2 568.1L219 572.8L213.4 578.5L212.4 586L217.1 590.7L220 587.9L232.2 586L237.8 588.8L236.9 599.1L242.5 607.6L246.3 610.4M217.1 590.7L219 596.3L208.7 601.4L214.3 591.6M338.4 527.7L334.6 535.2L331.8 544.6L332.7 552.1L343.1 555L349.6 561.5L356.2 563.4L362.8 556.8L366.5 561.5L364.7 566.2L378.2 570M245.2 609.6L247.1 613.8L251.8 614.7L263 610L274.3 612.8L282.8 600.6L283.7 594L294.4 585.2L295.5 597.8L300.6 602.5L309.1 605.3L308.1 610.9L314.7 617.9L317 613.8L315.1 607.2L323.2 595.9L326 582.2L330.1 582.2L333.5 592.2L348.5 587.8L354.2 595.9L351.9 582.8L357.9 575.8L363.6 579.6L365.5 574.3M247.1 613.8L237.7 619.4L238.6 626L250.8 640.1L247.4 650.4L232 656.1L233.5 662.3M364.7 575.1L364.7 566.2M434.6 375.5L453.4 375.1L468.4 363.3L470.3 365.2L473.1 360.1L485.3 357.6L488.1 353.9L500.4 350.1L503.2 347.3M509.8 347.3L511.6 352L517.3 353.9L523.8 352L525.7 347.3M532.3 347.3L537.9 355.8L552 357.1L559.6 364.6L563.3 362L571.8 363.3L574.6 366.1L566.7 375.1L582.1 391.5L595.3 385.8L591.5 374.6L600 376.4L611.2 383.9L619.7 381.1L620.6 385.8L616.5 389L624.4 398L631 396.5L631.9 395.2L640.4 401.8L649.8 401.8L651.6 412.1L658.2 415.3L660.1 422.5L663.9 429.1L671.4 428.5L680.8 418.3L686.4 428.1L692 429.6L691.7 439L702.4 440.3L705.2 432.8L709.9 429.6L725.9 427.7L731.5 434.1L737.2 432.2L739 427.2L758.2 426.6M434.6 375.5L425.2 383.9L428.9 394.3L438.3 400.9L433.6 410.3L442.1 426.2L456.2 435.6L463.7 446L472.2 452.9L475.9 452.9L483.4 462.9L491 470.4L501.3 473.6L506.9 469.1L514.5 472.3L518.2 461.9L522.9 461L525.7 449.7L531.4 452.9L535.1 450.7L548.3 456.7L553 456.3L566.1 462.9L571.8 463.8L578.3 460.1L592.4 466.6M425.2 383.9L431.8 387.7L428.9 394.3M592.4 466.6L597.1 460.1L612.2 459.1L626.3 453.5L628.2 449.7L633.8 446L636.6 435.6L641.3 432.8L649.8 423.4L660.1 422.5M592.4 466.6L593.4 472.3L589.6 482.6L600 502.3L621.6 516.4L652.6 516.1L659.2 512.7L657.3 504.8L660.1 501.4L680.8 498.6L686.4 491.1L696.7 495.8L710.8 487.3L718.4 475.1L727.8 472.8L735.3 476L749.4 472.3L758.2 480.7M600 502.3L596.2 508.9L598.1 517.4L584.9 519.3L580.2 516.4L575.5 519.3L584.9 527.7L582.1 532.4L575.5 533.4L577.4 554L569.9 555.9L563.3 563.4L559.6 565.3L560.5 574.7L569.9 563.4L578.3 582.2M483.4 462.9L480.6 475.1L470.3 473.6L468.4 483.6L445.9 496.7L455.3 514.6L451.5 518.3L456.8 521.1L456.2 529.6L447.7 525.8L446.8 520.2L438.3 522.5L434.6 518.7L428.9 517.9L427.4 523L406.4 524.3L394.2 534.3L383.8 534.3L378.2 527.7M378.2 566.2L384.8 567.2L389.5 558.7L409.2 557.8L425.2 551.2L425.2 559.7L434.6 571.9L479.7 581.3L509.8 588.8L520.1 576.6L542.6 576.6L553.9 570.9L559.6 574.7M479.2 581.8L467.9 593.1L470.3 597.8L476.3 599.7L471.6 608.1L476.3 610.9L475.4 619.4L485.7 627.9L480.1 629.7M476 637.3L478.2 639.1L491.4 635.9L502.7 637.3L508.3 635.4L511.1 628.8L518.6 636.3L523.3 634.1L529.9 639.7L536.5 637.3L538.4 630.7L535.5 624.7L547.8 619L549.6 608.1L546.8 598.7L570.3 587.5L569.4 582.8L578.2 581.8M551.5 662.3L551.9 651.4L557.5 650.4M578.5 582.7L599.7 599L605.5 610.1L614.4 611.9L624.7 621.3L644.7 622.5L652.7 613.4L658.6 613.1L664.5 612.7L668.8 607.9L674.4 609.4L684.6 600L706.6 600.8L708.5 602.8M708.5 602.8L716.5 599.5L721.4 601.8L728.3 594.6L736.2 596.6L740.7 592.6M708.5 602.8L724.9 622.8L727.1 621.8L726.8 636.1L752.9 653.9L747.6 662.3M658.6 613.1L663.2 622.3L661.6 631.5L668 634.6L664.5 642.1L679.1 650.5L669.8 650.7L666 662.3M558.2 651L570.1 662.3L579 650L593.8 649.3L623.5 659.6L630.2 654.2L635.8 657.9L638.5 654.2L646.7 658.9L653.7 657.6L656.6 662.3"/>
<path class="coast" d="M-2.7 201.3L0.1 207L4.8 216.4L11.4 233.3L18.9 242.7L35.8 243.6L54.6 253L64 269L54.6 291.5L35.8 304.7L20.8 327.3L48.9 331.9L36.7 347.4M11.4 233.3L0.1 246.4L8.5 254.9L18.9 242.7M80.9 347.4L103.4 332.9L124.1 322.6L137.3 308.5L148.5 291.5L157.9 272.8L163.6 257.7L166.4 247.4L177.7 242.7L178.2 269L192.7 278.4L206.8 265.2L206.8 251.1L193.3 247.4L193.3 224.8L212.4 216.4L244.4 216L256.6 202.3L280.1 202.3L298 211.7L300.8 194.8L315.4 180.7L304.5 167.5L315.4 158.5L303.6 139.3L303.6 114.9L285.7 100.8L282.9 77.3M282.8 77.4L282.8 52.2L287.5 36.6L298.2 26.2M298.2 26.2L303.8 21.3L329.7 16.6L342.7 -0.1M367.6 -0.1L367.6 12.8L358.7 34.4L358.7 51.9L379.4 51.9L379.4 70L356.4 78.9L348.6 94.3M348.7 94.2L340.2 106.4L329.9 131.8L349.6 144L350.6 159.1L378.2 170.3M340.2 106.4L360 101.4L375 112.1L374.1 128.4L352.5 128.4L340.2 106.4M418.7 -0.1L431 29.6L452.2 52.5L443.3 70L454.7 92.2M579.4 -0.1L571.9 38.8L557.1 70L513.6 70L495.5 92.2M378.2 170.3L382 172.2L379.1 186.3L378.2 189.1L396.1 189.1L414.8 175L428.9 167.5L452.4 162.8L466.5 149.7L477.8 167.5L464.6 176L479.7 184.4L501.3 189.5L531.4 176L560.5 171.3L584 154.4L613.1 145.3L641.3 141.2L654.1 167.5L674.2 167.5L690.5 159.6L699.9 137.1L725.9 123L737.2 96.1L736.2 79.6M434.4 73.9L388 95.5L394.2 121.5L413.9 125.2L434.6 117.1L426.7 107L440.2 94.6L434.4 73.9M454.7 92.1L454.9 109.6L498.5 109.6L495.5 92.1M385.3 141.6L405.1 136.1L422.9 141.8L413.9 149.7L396.6 154.4L385.3 141.6M633.1 -0.1L639 21.3L656.1 10.9L656.1 -0.1M755.8 -0.1L747.3 21L735 38.8L735 70L736.2 79.6M797.8 -0.1L802.9 3.9L813.6 21.3L833.8 25.8L851.6 12.4L851.6 -0.1M-3.7 363.3L0.1 362.3L33 353.9L38.6 347.3M80.9 347.3L62.1 353.9L56.5 371.7L53.6 392.4L38.6 401.8L21.7 406.5L6.7 414L0.1 437.5L-0.9 445M427.9 662.3L422.8 654.2L426 636.3L440.6 636.3L457.9 623.5L474.8 627.9L469.8 640.5L472.6 658.9L474.8 662.3M492.9 662.3L495.5 645.7L518.6 662.3"/>
<polygon points="0,212.3 385,79.6 752.5,79.6 735,504.3 245,610.4" fill="none" stroke="#ff0d0d" stroke-width="1.35" stroke-linejoin="miter"/>
</g>
<line class="tick" x1="175" y1="0" x2="175" y2="10"/>
<line class="tick" x1="175" y1="653.5" x2="175" y2="663.5"/>
<line class="tick" x1="350" y1="0" x2="350" y2="10"/>
<line class="tick" x1="350" y1="653.5" x2="350" y2="663.5"/>
<line class="tick" x1="525" y1="0" x2="525" y2="10"/>
<line class="tick" x1="525" y1="653.5" x2="525" y2="663.5"/>
<line class="tick" x1="700" y1="0" x2="700" y2="10"/>
<line class="tick" x1="700" y1="653.5" x2="700" y2="663.5"/>
<line class="tick" x1="0" y1="530.8" x2="10" y2="530.8"/>
<line class="tick" x1="865" y1="530.8" x2="875" y2="530.8"/>
<line class="tick" x1="0" y1="398.1" x2="10" y2="398.1"/>
<line class="tick" x1="865" y1="398.1" x2="875" y2="398.1"/>
<line class="tick" x1="0" y1="265.4" x2="10" y2="265.4"/>
<line class="tick" x1="865" y1="265.4" x2="875" y2="265.4"/>
<line class="tick" x1="0" y1="132.7" x2="10" y2="132.7"/>
<line class="tick" x1="865" y1="132.7" x2="875" y2="132.7"/>
<rect class="frame" x="0" y="0" width="875" height="663.5"/>
<circle cx="325.4" cy="243.7" r="13.2" fill="#000"/>
<circle cx="411.3" cy="432" r="13.2" fill="#000"/>
<circle cx="273.2" cy="457" r="13.2" fill="#000"/>
<text class="wl" x="357.5" y="237.6">well 2</text>
<text class="wl" x="341.8" y="401.1">well 1</text>
<text class="wl" x="186.2" y="508">well 3</text>
<text class="ti" x="16" y="61.9">z = 2000 m</text>
<text class="tk" transform="translate(-52.3 16.6) scale(0.865 1)" text-anchor="middle">57.5°</text>
<text class="tk" transform="translate(-52.3 142.6) scale(0.865 1)" text-anchor="middle">55°</text>
<text class="tk" transform="translate(-52.3 279.1) scale(0.865 1)" text-anchor="middle">52,5°</text>
<text class="tk" transform="translate(-52.3 408.2) scale(0.865 1)" text-anchor="middle">50°</text>
<text class="tk" transform="translate(-52.3 545.1) scale(0.865 1)" text-anchor="middle">47,5°</text>
<text class="tk" transform="translate(-52.3 671.8) scale(0.865 1)" text-anchor="middle">45°</text>
<text class="tk" transform="translate(-8.5 709.3) scale(0.865 1)" text-anchor="start">0°</text>
<text class="tk" transform="translate(166.5 709.3) scale(0.865 1)" text-anchor="start">5°</text>
<text class="tk" transform="translate(324.8 709.3) scale(0.865 1)" text-anchor="start">10°</text>
<text class="tk" transform="translate(501.9 709.3) scale(0.865 1)" text-anchor="start">15°</text>
<text class="tk" transform="translate(675 709.3) scale(0.865 1)" text-anchor="start">20°</text>
<text class="tk" transform="translate(850.5 709.3) scale(0.865 1)" text-anchor="start">25°</text>
</g>
<g transform="translate(1141.8 795.7)">
<clipPath id="cp4"><rect x="0" y="0" width="875" height="663.5"/></clipPath>
<g clip-path="url(#cp4)">
<filter id="bl4" x="-5%" y="-5%" width="110%" height="110%"><feGaussianBlur stdDeviation="0.7"/></filter>
<filter id="bh4" x="-5%" y="-5%" width="110%" height="110%"><feGaussianBlur stdDeviation="1.1"/></filter>
<clipPath id="hp4"><polygon points="-60,78.9 753.4,78.9 727,720 -60,720"/></clipPath>
<mask id="mk4" maskUnits="userSpaceOnUse" x="-20" y="-20" width="915" height="703.5"><g clip-path="url(#hp4)"><path d="M381.6 72L378.5 75.2L378.5 79L363.2 79L360.1 82.2L360.1 86L335.6 86L332.5 89.2L332.5 93L317.2 93L314.1 96.2L314.1 100L298.8 100L295.7 103.2L295.7 107L280.4 107L277.3 110.2L277.3 114L262 114L258.9 117.2L258.9 121L234.4 121L231.3 124.2L231.3 128L216.1 128L212.9 131.2L212.9 135L197.7 135L194.5 138.2L194.5 142L179.2 142L176.1 145.2L176.1 149L160.8 149L157.7 152.2L157.7 156L133.2 156L130.1 159.2L130.1 163L114.8 163L111.7 166.2L111.7 170L96.5 170L93.3 173.2L93.3 177L78 177L74.9 180.2L74.9 184L50.4 184L47.3 187.2L47.3 191L32 191L28.9 194.2L28.9 198L13.7 198L10.5 201.2L10.5 205L4.5 205L1.3 208.2L1.3 208.8L4.5 212L10.5 212L10.5 219L10.5 226L10.5 229.8L13.7 233L19.7 233L19.7 240L19.7 243.8L22.8 247L28.9 247L28.9 254L28.9 257.9L32 261L38.1 261L38.1 268L38.1 271.9L41.2 275L47.3 275L47.3 282L47.3 285.9L50.4 289L56.5 289L56.5 296L56.5 299.9L59.6 303L65.7 303L65.7 310L65.7 313.9L68.8 317L74.9 317L74.9 324L74.9 327.9L78 331L84.1 331L84.1 338L84.1 345L84.1 348.9L87.2 352L93.3 352L93.3 359L93.3 362.9L96.5 366L102.5 366L102.5 373L102.5 376.9L105.6 380L111.7 380L111.7 387L111.7 390.9L114.8 394L120.9 394L120.9 401L120.9 404.9L124 408L130.1 408L130.1 415L130.1 418.9L133.2 422L139.3 422L139.3 429L139.3 432.9L142.5 436L148.5 436L148.5 443L148.5 450L148.5 453.9L151.7 457L157.7 457L157.7 464L157.7 467.9L160.8 471L166.9 471L166.9 478L166.9 481.9L170.1 485L176.1 485L176.1 492L176.1 495.9L179.2 499L185.3 499L185.3 506L185.3 509.9L188.5 513L194.5 513L194.5 520L194.5 523.9L197.7 527L203.7 527L203.7 534L203.7 537.9L206.8 541L212.9 541L212.9 548L212.9 555L212.9 558.9L216.1 562L222.1 562L222.1 569L222.1 572.9L225.2 576L231.3 576L231.3 583L231.3 586.9L234.4 590L240.5 590L240.5 597L240.5 600.9L243.7 604L255.7 604L258.9 600.9L258.9 597L292.6 597L295.7 593.9L295.7 590L320.2 590L323.3 586.9L323.3 583L356.9 583L360.1 579.9L360.1 576L384.6 576L387.7 572.9L387.7 569L421.4 569L424.5 565.9L424.5 562L448.9 562L452.1 558.9L452.1 555L485.8 555L488.9 551.9L488.9 548L522.5 548L525.7 544.9L525.7 541L550.1 541L553.3 537.9L553.3 534L586.9 534L590.1 530.9L590.1 527L614.5 527L617.7 523.9L617.7 520L651.3 520L654.5 516.9L654.5 513L688.1 513L691.3 509.9L691.3 506L715.7 506L718.9 502.9L718.9 499L743.3 499L746.5 495.9L746.5 492L746.5 485L746.5 478L746.5 471L746.5 464L746.5 457L746.5 450L746.5 443L746.5 436L746.5 429L746.5 422L746.5 415L746.5 408L746.5 401L746.5 394L746.5 387L746.5 380L746.5 373L746.5 366L746.5 359L746.5 352L752.5 352L755.7 348.9L755.7 345L755.7 338L755.7 331L755.7 324L755.7 317L755.7 310L755.7 303L755.7 296L755.7 289L755.7 282L755.7 275L755.7 268L755.7 261L755.7 254L755.7 247L755.7 240L755.7 233L755.7 226L755.7 219L755.7 212L755.7 205L755.7 198L755.7 191L755.7 184L755.7 177L755.7 170L755.7 163L755.7 156L755.7 149L755.7 142L755.7 135L755.7 128L761.7 128L764.9 124.8L764.9 121L764.9 114L764.9 107L764.9 100L764.9 93L764.9 86L764.9 79L764.9 75.2L761.7 72Z" fill="#fff" filter="url(#bl4)"/></g></mask>
<pattern id="tx4" width="9.2" height="14" patternUnits="userSpaceOnUse" x="1.3" y="2"><rect x="4" y="1" width="1" height="5.5" fill="#fff" opacity="0.16"/><rect x="8.6" y="8" width="1" height="5" fill="#fff" opacity="0.13"/></pattern>
<g clip-path="url(#hp4)"><path d="M381.6 72L378.5 75.2L378.5 79L363.2 79L360.1 82.2L360.1 86L335.6 86L332.5 89.2L332.5 93L317.2 93L314.1 96.2L314.1 100L298.8 100L295.7 103.2L295.7 107L280.4 107L277.3 110.2L277.3 114L262 114L258.9 117.2L258.9 121L234.4 121L231.3 124.2L231.3 128L216.1 128L212.9 131.2L212.9 135L197.7 135L194.5 138.2L194.5 142L179.2 142L176.1 145.2L176.1 149L160.8 149L157.7 152.2L157.7 156L133.2 156L130.1 159.2L130.1 163L114.8 163L111.7 166.2L111.7 170L96.5 170L93.3 173.2L93.3 177L78 177L74.9 180.2L74.9 184L50.4 184L47.3 187.2L47.3 191L32 191L28.9 194.2L28.9 198L13.7 198L10.5 201.2L10.5 205L4.5 205L1.3 208.2L1.3 208.8L4.5 212L10.5 212L10.5 219L10.5 226L10.5 229.8L13.7 233L19.7 233L19.7 240L19.7 243.8L22.8 247L28.9 247L28.9 254L28.9 257.9L32 261L38.1 261L38.1 268L38.1 271.9L41.2 275L47.3 275L47.3 282L47.3 285.9L50.4 289L56.5 289L56.5 296L56.5 299.9L59.6 303L65.7 303L65.7 310L65.7 313.9L68.8 317L74.9 317L74.9 324L74.9 327.9L78 331L84.1 331L84.1 338L84.1 345L84.1 348.9L87.2 352L93.3 352L93.3 359L93.3 362.9L96.5 366L102.5 366L102.5 373L102.5 376.9L105.6 380L111.7 380L111.7 387L111.7 390.9L114.8 394L120.9 394L120.9 401L120.9 404.9L124 408L130.1 408L130.1 415L130.1 418.9L133.2 422L139.3 422L139.3 429L139.3 432.9L142.5 436L148.5 436L148.5 443L148.5 450L148.5 453.9L151.7 457L157.7 457L157.7 464L157.7 467.9L160.8 471L166.9 471L166.9 478L166.9 481.9L170.1 485L176.1 485L176.1 492L176.1 495.9L179.2 499L185.3 499L185.3 506L185.3 509.9L188.5 513L194.5 513L194.5 520L194.5 523.9L197.7 527L203.7 527L203.7 534L203.7 537.9L206.8 541L212.9 541L212.9 548L212.9 555L212.9 558.9L216.1 562L222.1 562L222.1 569L222.1 572.9L225.2 576L231.3 576L231.3 583L231.3 586.9L234.4 590L240.5 590L240.5 597L240.5 600.9L243.7 604L255.7 604L258.9 600.9L258.9 597L292.6 597L295.7 593.9L295.7 590L320.2 590L323.3 586.9L323.3 583L356.9 583L360.1 579.9L360.1 576L384.6 576L387.7 572.9L387.7 569L421.4 569L424.5 565.9L424.5 562L448.9 562L452.1 558.9L452.1 555L485.8 555L488.9 551.9L488.9 548L522.5 548L525.7 544.9L525.7 541L550.1 541L553.3 537.9L553.3 534L586.9 534L590.1 530.9L590.1 527L614.5 527L617.7 523.9L617.7 520L651.3 520L654.5 516.9L654.5 513L688.1 513L691.3 509.9L691.3 506L715.7 506L718.9 502.9L718.9 499L743.3 499L746.5 495.9L746.5 492L746.5 485L746.5 478L746.5 471L746.5 464L746.5 457L746.5 450L746.5 443L746.5 436L746.5 429L746.5 422L746.5 415L746.5 408L746.5 401L746.5 394L746.5 387L746.5 380L746.5 373L746.5 366L746.5 359L746.5 352L752.5 352L755.7 348.9L755.7 345L755.7 338L755.7 331L755.7 324L755.7 317L755.7 310L755.7 303L755.7 296L755.7 289L755.7 282L755.7 275L755.7 268L755.7 261L755.7 254L755.7 247L755.7 240L755.7 233L755.7 226L755.7 219L755.7 212L755.7 205L755.7 198L755.7 191L755.7 184L755.7 177L755.7 170L755.7 163L755.7 156L755.7 149L755.7 142L755.7 135L755.7 128L761.7 128L764.9 124.8L764.9 121L764.9 114L764.9 107L764.9 100L764.9 93L764.9 86L764.9 79L764.9 75.2L761.7 72Z" fill="#fdf3bc" stroke="#fdf3bc" stroke-width="6" stroke-linejoin="round" filter="url(#bh4)"/><path d="M381.6 72L378.5 75.2L378.5 79L363.2 79L360.1 82.2L360.1 86L335.6 86L332.5 89.2L332.5 93L317.2 93L314.1 96.2L314.1 100L298.8 100L295.7 103.2L295.7 107L280.4 107L277.3 110.2L277.3 114L262 114L258.9 117.2L258.9 121L234.4 121L231.3 124.2L231.3 128L216.1 128L212.9 131.2L212.9 135L197.7 135L194.5 138.2L194.5 142L179.2 142L176.1 145.2L176.1 149L160.8 149L157.7 152.2L157.7 156L133.2 156L130.1 159.2L130.1 163L114.8 163L111.7 166.2L111.7 170L96.5 170L93.3 173.2L93.3 177L78 177L74.9 180.2L74.9 184L50.4 184L47.3 187.2L47.3 191L32 191L28.9 194.2L28.9 198L13.7 198L10.5 201.2L10.5 205L4.5 205L1.3 208.2L1.3 208.8L4.5 212L10.5 212L10.5 219L10.5 226L10.5 229.8L13.7 233L19.7 233L19.7 240L19.7 243.8L22.8 247L28.9 247L28.9 254L28.9 257.9L32 261L38.1 261L38.1 268L38.1 271.9L41.2 275L47.3 275L47.3 282L47.3 285.9L50.4 289L56.5 289L56.5 296L56.5 299.9L59.6 303L65.7 303L65.7 310L65.7 313.9L68.8 317L74.9 317L74.9 324L74.9 327.9L78 331L84.1 331L84.1 338L84.1 345L84.1 348.9L87.2 352L93.3 352L93.3 359L93.3 362.9L96.5 366L102.5 366L102.5 373L102.5 376.9L105.6 380L111.7 380L111.7 387L111.7 390.9L114.8 394L120.9 394L120.9 401L120.9 404.9L124 408L130.1 408L130.1 415L130.1 418.9L133.2 422L139.3 422L139.3 429L139.3 432.9L142.5 436L148.5 436L148.5 443L148.5 450L148.5 453.9L151.7 457L157.7 457L157.7 464L157.7 467.9L160.8 471L166.9 471L166.9 478L166.9 481.9L170.1 485L176.1 485L176.1 492L176.1 495.9L179.2 499L185.3 499L185.3 506L185.3 509.9L188.5 513L194.5 513L194.5 520L194.5 523.9L197.7 527L203.7 527L203.7 534L203.7 537.9L206.8 541L212.9 541L212.9 548L212.9 555L212.9 558.9L216.1 562L222.1 562L222.1 569L222.1 572.9L225.2 576L231.3 576L231.3 583L231.3 586.9L234.4 590L240.5 590L240.5 597L240.5 600.9L243.7 604L255.7 604L258.9 600.9L258.9 597L292.6 597L295.7 593.9L295.7 590L320.2 590L323.3 586.9L323.3 583L356.9 583L360.1 579.9L360.1 576L384.6 576L387.7 572.9L387.7 569L421.4 569L424.5 565.9L424.5 562L448.9 562L452.1 558.9L452.1 555L485.8 555L488.9 551.9L488.9 548L522.5 548L525.7 544.9L525.7 541L550.1 541L553.3 537.9L553.3 534L586.9 534L590.1 530.9L590.1 527L614.5 527L617.7 523.9L617.7 520L651.3 520L654.5 516.9L654.5 513L688.1 513L691.3 509.9L691.3 506L715.7 506L718.9 502.9L718.9 499L743.3 499L746.5 495.9L746.5 492L746.5 485L746.5 478L746.5 471L746.5 464L746.5 457L746.5 450L746.5 443L746.5 436L746.5 429L746.5 422L746.5 415L746.5 408L746.5 401L746.5 394L746.5 387L746.5 380L746.5 373L746.5 366L746.5 359L746.5 352L752.5 352L755.7 348.9L755.7 345L755.7 338L755.7 331L755.7 324L755.7 317L755.7 310L755.7 303L755.7 296L755.7 289L755.7 282L755.7 275L755.7 268L755.7 261L755.7 254L755.7 247L755.7 240L755.7 233L755.7 226L755.7 219L755.7 212L755.7 205L755.7 198L755.7 191L755.7 184L755.7 177L755.7 170L755.7 163L755.7 156L755.7 149L755.7 142L755.7 135L755.7 128L761.7 128L764.9 124.8L764.9 121L764.9 114L764.9 107L764.9 100L764.9 93L764.9 86L764.9 79L764.9 75.2L761.7 72Z" fill="#f8e080" stroke="#f8e080" stroke-width="3" stroke-linejoin="round" filter="url(#bl4)"/></g>
<linearGradient id="gt4" x1="0" y1="0" x2="0" y2="1"><stop offset="0" stop-color="#fff3b0" stop-opacity="0"/><stop offset="0.2" stop-color="#f8d878" stop-opacity="0.9"/><stop offset="0.4" stop-color="#f6d878"/><stop offset="0.6" stop-color="#f0c468"/><stop offset="1" stop-color="#f0c468"/></linearGradient>
<linearGradient id="gr4" x1="0" y1="0" x2="1" y2="0"><stop offset="0" stop-color="#f0c468"/><stop offset="0.4" stop-color="#f0c468"/><stop offset="0.6" stop-color="#f6d878"/><stop offset="0.8" stop-color="#f8d878" stop-opacity="0.9"/><stop offset="1" stop-color="#fff3b0" stop-opacity="0"/></linearGradient>
<path d="M379 80.6 L379 74.9 L431 79.6 L431 80.6Z" fill="url(#gt4)"/>
<path d="M431 80.6 L431 73.6 L497 79.6 L497 80.6Z" fill="url(#gt4)"/>
<path d="M497 80.6 L497 73.6 L563 79.6 L563 80.6Z" fill="url(#gt4)"/>
<path d="M563 80.6 L563 73.6 L629 79.6 L629 80.6Z" fill="url(#gt4)"/>
<path d="M629 80.6 L629 73.6 L695 79.6 L695 80.6Z" fill="url(#gt4)"/>
<path d="M695 80.6 L695 73.6 L757.5 79.5 L757.5 80.6Z" fill="url(#gt4)"/>
<path d="M751.3 84.6 L758.8 86.6 L750.7 139.6 L749 139.6Z" fill="url(#gr4)"/>
<path d="M749 139.6 L756.5 141.6 L748.4 194.6 L746.8 194.6Z" fill="url(#gr4)"/>
<path d="M746.8 194.6 L754.3 196.6 L746.1 249.6 L744.5 249.6Z" fill="url(#gr4)"/>
<path d="M744.5 249.6 L752 251.6 L743.9 304.6 L742.2 304.6Z" fill="url(#gr4)"/>
<path d="M742.2 304.6 L749.7 306.6 L741.6 359.6 L740 359.6Z" fill="url(#gr4)"/>
<path d="M740 359.6 L747.5 361.6 L739.3 414.6 L737.7 414.6Z" fill="url(#gr4)"/>
<path d="M737.7 414.6 L745.2 416.6 L737.1 469.6 L735.4 469.6Z" fill="url(#gr4)"/>
<path d="M735.4 469.6 L742.9 471.6 L735.6 504.3 L734 504.3Z" fill="url(#gr4)"/>
<g mask="url(#mk4)">
<clipPath id="q4_0"><rect x="-12.1" y="63" width="390.6" height="284.6"/></clipPath>
<g clip-path="url(#q4_0)">
<rect x="-12.8" y="62.3" width="392" height="286" fill="#f6dc7a"/>
<polygon points="238.8,148.7 250,145 268.8,148.7 287.6,148.7 306.4,146.8 317.7,156.2 329,152.5 347.8,156.2 362.8,160 389.5,163.7 389.5,257.7 370.3,257.7 355.3,265.2 347.8,276.5 336.5,280.3 332.7,287.8 344,295.3 351.5,306.6 347.8,317.9 344,329.1 336.5,340.4 332.7,358.6 268.8,358.6 268.8,336.6 276.3,321.6 268.8,310.3 261.3,295.3 261.3,280.3 257.5,272.8 246.3,265.2 238.8,254 235,238.9 233.1,223.9 235,212.6 231.2,199.5 231.2,186.3 235,175 238.8,163.7" fill="#fef4a5"/>
<polygon points="-13.1,208.9 2.3,212.2 17,231.4 35.8,237 54.6,240.8 73.4,242.7 92.2,238.9 99.7,231.4 114.7,225.8 129.8,220.1 148.5,212.6 167.3,207 182.4,199.5 197.4,190.1 208.7,182.5 216.2,175 223.7,165.6 227.5,156.2 227.5,145 223.7,135.6 223.7,62.3 -13.1,62.3" fill="#f1c05f"/>
<polygon points="7.6,216.4 20.8,208.9 35.8,207 50.8,207 52.7,212.6 43.3,220.1 28.3,223.9 13.2,222" fill="#efa854"/>
<polygon points="65.9,199.5 77.1,193.8 90.3,192.9 86.5,197.6 73.4,202.3" fill="#efa854"/>
<polygon points="3.8,212.6 17,207 28.3,205.1 26.4,210.7 15.1,216.4" fill="#e88c53"/>
<polygon points="116.6,319.7 120.4,302.8 129.8,295.3 124.1,285.9 126,278.4 137.3,276.5 148.5,280.3 159.8,282.1 167.3,276.5 163.6,269 167.3,263.4 178.6,265.2 193.7,265.2 204.9,269 216.2,265.2 227.5,261.5 235,265.2 242.5,276.5 244.4,289.7 250,299.1 250,312.2 257.5,321.6 261.3,329.1 257.5,340.4 250,358.6 242.5,340.4 223.7,336.6 204.9,332.9 186.1,329.1 167.3,327.3 148.5,329.1 129.8,329.1 118.5,327.3" fill="#f1c05f"/>
<polygon points="366.5,315 374.1,312.2 376.9,317.9 370.3,321.6" fill="#f1c05f"/>
<polygon points="317.7,358.6 323.3,340.4 332.7,338.5 330.8,358.6" fill="#f1c05f"/>
<polygon points="362.8,96.1 389.5,86.7 389.5,114.9 366.5,111.1" fill="#f1c05f"/>
<polygon points="129.8,263.4 135.4,261.5 139.1,264.3 133.5,266.2" fill="#f1c05f"/>
</g>
<clipPath id="q4_1"><rect x="377.9" y="63" width="390.6" height="284.6"/></clipPath>
<g clip-path="url(#q4_1)">
<rect x="377.2" y="62.3" width="392" height="286" fill="#f6dc7a"/>
<polygon points="366.9,62.3 366.9,103.6 389.5,96.1 404.5,98 427.1,107.4 442.1,114.9 457.1,124.3 460.9,133.7 472.2,143.1 487.2,143.1 498.5,152.5 502.2,160 509.8,169.4 517.3,178.8 521,190.1 528.5,199.5 543.6,205.1 554.9,207 562.4,199.5 573.7,195.7 577.4,201.3 573.7,208.9 566.1,218.2 573.7,225.8 584.9,233.3 600,233.3 615,238.9 626.3,244.6 641.3,246.4 650.7,254 660.1,263.4 667.6,272.8 671.4,282.1 682.7,285.9 697.7,299.1 705.2,310.3 701.4,323.5 690.2,334.8 697.7,358.6 769.5,358.6 769.5,62.3" fill="#f1c05f"/>
<polygon points="494.7,284 521,282.1 528.5,274.6 539.8,278.4 551.1,274.6 554.9,284 566.1,291.5 581.2,295.3 600,297.2 618.8,293.4 637.5,299.1 648.8,308.5 656.3,317.9 667.6,327.3 675.1,336.6 690.2,334.8 697.7,358.6 626.3,358.6 628.2,336.6 626.3,323.5 618.8,314.1 603.7,308.5 584.9,308.5 566.1,306.6 547.3,302.8 528.5,302.8 509.8,306.6 494.7,304.7 498.5,295.3" fill="#f1c05f"/>
<polygon points="366.9,156.2 389.5,158.1 400.8,165.6 415.8,171.3 430.8,169.4 442.1,178.8 457.1,178.8 472.2,184.4 483.4,190.1 498.5,191.9 502.2,205.1 494.7,208.9 479.7,207 472.2,216.4 464.6,227.6 457.1,238.9 449.6,248.3 438.3,255.8 427.1,261.5 412,265.2 400.8,263.4 389.5,257.7 366.9,259.6" fill="#fef4a5"/>
<polygon points="491,227.6 506,229.5 517.3,237 522.9,244.6 509.8,242.7 498.5,242.7 491,235.2" fill="#fef4a5"/>
<polygon points="494.7,208.9 504.1,212.6 506,222 498.5,222" fill="#fef4a5"/>
<polygon points="613.1,62.3 615,92.3 630,98 648.8,99.9 671.4,105.5 690.2,113 709,118.6 720.2,128 731.5,139.3 739,152.5 744.7,160 769.5,160 769.5,62.3" fill="#efa854"/>
<polygon points="650.7,62.3 671.4,88.6 693.9,94.2 712.7,96.1 727.8,98 739,109.2 742.8,122.4 769.5,122.4 769.5,62.3" fill="#e88c53"/>
<polygon points="686.4,62.3 709,86.7 731.5,90.5 740.9,99.9 769.5,99.9 769.5,62.3" fill="#df764e"/>
<polygon points="735.3,82.9 746.5,82.9 752.2,88.6 746.5,96.1 739,90.5" fill="#c7574a"/>
<polygon points="382,80.1 425.2,80.1 421.4,86.7 408.3,89.5 393.2,88.6" fill="#efa854"/>
<polygon points="466.5,284 472.2,279.3 483.4,281.2 475.9,287.8 468.4,287.8" fill="#f1c05f"/>
<polygon points="382,310.3 389.5,300.9 400.8,295.3 408.3,282.1 417.7,283.1 420.5,297.2 412,304.7 397,310.3" fill="#f1c05f"/>
<polygon points="415.8,358.6 423.3,336.6 434.6,329.1 445.9,329.1 442.1,338.5 430.8,358.6" fill="#f1c05f"/>
<polygon points="733.4,291.5 742.8,289.7 742.8,321.6 735.3,319.7" fill="#efa854"/>
</g>
<clipPath id="q4_2"><rect x="-12.1" y="347" width="390.6" height="270.6"/></clipPath>
<g clip-path="url(#q4_2)">
<rect x="-12.8" y="346.3" width="392" height="272" fill="#f6dc7a"/>
<polygon points="157.9,458.2 167.3,460.1 178.6,456.3 186.1,450.7 201.2,445 216.2,439.4 227.5,436.6 236.9,439.4 242.5,443.1 238.8,452.5 227.5,458.2 216.2,463.8 204.9,469.5 193.7,473.2 178.6,475.1 171.1,480.7 165.5,471.3" fill="#f1c05f"/>
<polygon points="313.9,441.3 321.4,433.7 332.7,426.2 344,416.8 355.3,407.4 359,411.2 355.3,422.5 347.8,430 336.5,435.6 325.2,441.3 317.7,445" fill="#f1c05f"/>
<polygon points="223.7,559.7 235,559.7 250,555.9 265.1,550.3 280.1,546.5 298.9,539 313.9,533.4 329,527.7 336.5,533.4 336.5,546.5 332.7,554 336.5,561.5 329,569.1 317.7,572.8 306.4,574.7 298.9,580.3 291.4,589.7 280.1,595.4 268.8,599.1 257.5,601 246.3,599.1 246.3,628.6 223.7,628.6 231.2,584.1 225.6,572.8" fill="#f1c05f"/>
<polygon points="336.5,535.2 347.8,531.5 362.8,529.6 389.5,527.7 389.5,537.1 366.5,542.8 355.3,548.4 344,554 336.5,552.1" fill="#f1c05f"/>
<polygon points="208.7,544.6 220,544.6 223.7,552.1 223.7,559.7 214.3,555.9" fill="#f1c05f"/>
<polygon points="233.1,356.7 242.5,349.2 257.5,332.3 253.8,354.8 242.5,360.5" fill="#f1c05f"/>
<polygon points="208.7,368 220,360.5 227.5,362.3 221.8,368 212.4,369.9" fill="#f1c05f"/>
<polygon points="233.1,434.7 240.6,431.9 244.4,434.7 236.9,437.5" fill="#f1c05f"/>
<polygon points="257.5,368 268.8,364.2 280.1,368 268.8,369.9" fill="#fef4a5"/>
<polygon points="129.8,401.8 137.3,396.2 148.5,401.8 150.4,407.4 141,411.2 131.6,409.3" fill="#fef4a5"/>
<polygon points="227.5,591.6 233.1,593.5 235,601 229.4,599.1" fill="#efa854"/>
</g>
<clipPath id="q4_3"><rect x="377.9" y="347" width="390.6" height="270.6"/></clipPath>
<g clip-path="url(#q4_3)">
<rect x="377.2" y="346.3" width="392" height="272" fill="#f6dc7a"/>
<polygon points="630,332.3 769.5,332.3 769.5,354.8 724,358.6 709,362.3 693.9,364.2 678.9,368 667.6,369.9 656.3,366.1 648.8,358.6 637.5,352.9" fill="#f1c05f"/>
<polygon points="596.2,467.6 603.7,458.2 618.8,452.5 630,448.8 637.5,441.3 648.8,431.9 663.9,422.5 682.7,416.8 701.4,414 716.5,416.8 720.2,422.5 709,428.1 693.9,431.9 678.9,435.6 663.9,437.5 652.6,443.1 645.1,450.7 633.8,452.5 622.5,458.2 611.2,460.1 603.7,463.8" fill="#f1c05f"/>
<polygon points="366.9,524 393.2,518.3 415.8,512.7 434.6,511.7 453.4,512.7 472.2,513.6 491,514.6 509.8,514.6 521,510.8 524.8,503.3 539.8,501.4 554.9,499.5 566.1,495.8 577.4,490.1 588.7,490.1 596.2,497.6 603.7,497.6 622.5,493.9 641.3,492 660.1,491.1 678.9,490.1 697.7,488.2 712.7,490.1 718.4,497.6 716.5,503.3 701.4,505.2 682.7,507 663.9,510.8 656.3,514.6 641.3,516.4 626.3,522.1 611.2,525.8 584.9,527.7 566.1,533.4 547.3,535.2 528.5,540.9 509.8,544.6 491,548.4 472.2,552.1 464.6,546.5 460.9,539 449.6,535.2 434.6,535.2 419.5,537.1 404.5,533.4 389.5,535.2 366.9,537.1" fill="#f1c05f"/>
<polygon points="526.7,525.8 534.2,516.4 541.7,522.1 545.5,527.7 536.1,533.4 528.5,531.5" fill="#f6dc7a"/>
<polygon points="382,570.9 389.5,559.7 404.5,555.9 423.3,554 438.3,557.8 440.2,561.5 427.1,565.3 412,567.2 397,572.8 385.7,574.7" fill="#f1c05f"/>
<polygon points="725.9,488.2 729.6,478.9 735.3,477 769.5,477 769.5,493.9 727.8,493.9" fill="#f1c05f"/>
<polygon points="382,546.5 385.7,542.8 389.5,546.5 385.7,550.3" fill="#f1c05f"/>
<polygon points="413.9,332.3 427.1,332.3 423.3,350.1 415.8,350.1" fill="#f1c05f"/>
</g>
<polygon points="331,334.3 357.3,298.6 376.1,298.6 378,347.4 357.3,349.3" fill="#f6dc7a"/>
<polygon points="261.5,287.3 334.8,287.3 346.1,292.9 347.9,302.3 353.6,306.1 349.8,311.7 353.6,317.4 344.2,321.1 351.7,326.8 342.3,330.5 338.5,339.9 327.3,343.7 331,351.2 325.4,351.2 329.1,339.9 319.8,343.7 308.5,347.4 297.2,351.2 285.9,355 276.5,353.1 269,345.6 269,338 274.6,330.5 276.5,317.4 269,319.2 269,306.1 261.5,298.6" fill="#fef4a5"/>
<polygon points="257.7,369.1 263.4,363.4 270.9,368.1 280.3,366.2 278.4,370 261.5,370" fill="#fef4a5"/>
<polygon points="282.2,362.5 285.9,358.7 289.7,362.5 284,365.3" fill="#fef4a5"/>
<polygon points="188.2,287.3 246.5,287.3 248.3,298.6 252.1,308 259.6,319.2 261.5,328.6 255.9,336.2 257.7,345.6 252.1,353.1 244.6,358.7 235.2,360.6 233.3,356.8 242.7,351.2 250.2,341.8 250.2,332.4 244.6,324.9 235.2,319.2 225.8,319.2 220.1,324.9 216.4,334.3 207,338 199.5,339.9 188.2,338" fill="#f1c05f"/>
<polygon points="208.9,368.1 218.3,360.6 225.8,360.6 228.6,364.4 220.1,370 210.8,370.9" fill="#f1c05f"/>
<polygon points="383.7,309.9 391.2,300.5 402.4,296.7 406.2,287.3 421.2,287.3 419.4,296.7 413.7,304.2 402.4,308 391.2,311.7" fill="#f1c05f"/>
<polygon points="365.8,317.4 372.4,312.7 378,314.6 374.3,320.2 368.6,323" fill="#f1c05f"/>
<polygon points="412.8,347.4 419.4,341.8 428.8,334.3 438.2,327.7 445.7,327.7 447.5,334.3 441.9,341.8 432.5,347.4 421.2,350.3 413.7,350.3" fill="#f1c05f"/>
<polygon points="496.4,287.3 568.2,287.3 568.2,308 556.5,304.2 545.3,300.5 534,302.3 519,306.1 503.9,306.1 494.5,302.3 494.5,294.8" fill="#f1c05f"/>
<polygon points="349.8,407.4 357.3,400.1 361.1,401.9 357.3,407.4" fill="#f1c05f"/>
<rect x="0" y="0" width="875" height="663.5" fill="url(#tx4)"/>
</g>
<path class="bord" d="M293.3 127.7L303.6 138.4L310.2 137.4L323.3 142.1L334.6 138.9L345.9 142.1M223.7 206.6L242.5 216.4L251.9 222L251.9 237L246.3 256.8L235.9 257.7L234.1 264.3L237.8 267.1L244.4 268.1L247.2 279.3L235 288.7L238.8 293.4L235 296.2L224.7 300.9L216.2 297.2L215.3 300L207.7 300.9L217.1 323.5L212.4 331.9L215.3 335.7L204.9 342.3L210.6 347.4M118.5 327.3L120.4 331L127.9 328.2L135.4 332.9L148.5 325.4L153.2 325.4L154.2 319.7L161.7 321.6L166.4 317.9L167.3 322.6L172 322.6L174.9 318.8L183.3 329.1L191.8 328.2L203 335.7L204 340.4L210.6 347.4M497.5 189.5L505.1 222L493.8 247.4L512 261.5L508.2 269.9L516.3 287.8L510.7 300.9L515.8 308.5L515.4 316.9L523.8 320.7L526.7 330.1L521 347.4M690.5 159.6L746.5 167.5L758.2 167.1M498.5 347.4L499.4 344.2L502.2 341.3L507.9 342.3L509.8 347.4M524.8 347.4L527.6 342.7L531.4 343.2L534.2 347.4M753.3 120.6L758.2 123L771.4 130.8L790.3 128.5L799.7 141.7L794.1 154.4L796.4 165.4M758.2 167.5L796.4 165.4L804 164.7L820.5 175.8L822.8 188.1M822.8 188.1L827.4 189.8L845.6 186.8L853.5 191.1L861.7 185.2L868.3 186.2L870.3 177.9L874.4 177.9M822.8 188.1L827.1 207.1L837 230.2L837 253.3L819.2 263.6L810.6 276L827.4 287L824.1 313.4L826.6 318.4L829.4 322.5L827.1 327.9L844.2 351.3L838.1 354.6L844.2 368.1L839.8 375.2L829.9 376.9L823.3 384.3M874.4 294L853.8 297.3L840.9 311.8L828.3 310.5L826.1 315.9M736.2 75.2L742.1 74.4L747.8 66.6L772.5 56.9L794 60.3L802.2 56.9L808.1 63.3L816 59.1L845.2 65.8L859.3 64.3L871.2 55.4L874.5 61.1M840.4 374.3L829.7 376.8L793.4 419.6L794.2 441.1L800.5 445.2L800.5 449.8L789.3 446M738.2 427.4L756 426.7L767.9 432L771.2 438.9L789.3 446L781.9 465.8L774.8 473.2L774.8 481.4M738.2 476.5L749.7 472.7L762.1 485.1L774.8 482.3L779.1 481.8L791.3 497.6L799.2 498.8L801.2 505.8M801.2 505.8L809.9 497.6L818.6 503.7L834.6 507L859.4 505.8L871.7 518.5L874.7 516.4M801.2 505.8L792.9 514.7L779.7 517.4L770.3 528.4L769.8 536.7L757.7 553.6L753.9 570.5L746.1 575.7L741.8 591.9L738.2 595.2M88.4 342.2L89.3 347.3L92.2 353.9L100.6 360.1L109.1 355.8L114.3 368L127.9 370.8L130.7 381.5L142 378.3L147.6 385.8L145.4 397.7L157.9 399L168.3 389.6L169.6 407.4L184.3 413.1L191.8 423.4L202.1 420.6L208.7 426.2L217.1 423.4L222.8 424.7L230.3 430.9L235.9 440.9L242.1 439L247.2 444.1L258.5 440.7L263.2 445L271.6 449.7M202.1 420.6L204.9 414L199.7 402.7L208.7 389L213.4 390.9L214.3 397.1L227.9 407.8L222.8 424.7M197.4 347.3L196.8 352L200.2 356.7L210.6 356.7L212.4 347.3M210.6 356.7L217.1 365.2L215.3 368.9L223.2 375.5L223.7 380.8L215.3 385.8L213.4 390.9M272.6 469.5L269.8 482.6L266.9 497.6L265.1 508.9L262.2 518.3L266 524.9M266 524.9L268.8 526.8L285.7 523.6L299.8 523L301.7 520.2L295.1 518.3L299.8 513.6L308.3 519.3L325.2 522.1L338.4 527.7L343.1 524.5L348.7 527.7L354.3 536.2L358.1 540.9L364.7 537.1L365.6 527.7L378.2 527.7M266 524.9L252.8 533.4L251 529.6L244.4 530.5L240.6 537.1L247.2 538.1L240.6 546.5L234.1 555.9L224.7 561.5L225.2 568.1L219 572.8L213.4 578.5L212.4 586L217.1 590.7L220 587.9L232.2 586L237.8 588.8L236.9 599.1L242.5 607.6L246.3 610.4M217.1 590.7L219 596.3L208.7 601.4L214.3 591.6M338.4 527.7L334.6 535.2L331.8 544.6L332.7 552.1L343.1 555L349.6 561.5L356.2 563.4L362.8 556.8L366.5 561.5L364.7 566.2L378.2 570M245.2 609.6L247.1 613.8L251.8 614.7L263 610L274.3 612.8L282.8 600.6L283.7 594L294.4 585.2L295.5 597.8L300.6 602.5L309.1 605.3L308.1 610.9L314.7 617.9L317 613.8L315.1 607.2L323.2 595.9L326 582.2L330.1 582.2L333.5 592.2L348.5 587.8L354.2 595.9L351.9 582.8L357.9 575.8L363.6 579.6L365.5 574.3M247.1 613.8L237.7 619.4L238.6 626L250.8 640.1L247.4 650.4L232 656.1L233.5 662.3M364.7 575.1L364.7 566.2M434.6 375.5L453.4 375.1L468.4 363.3L470.3 365.2L473.1 360.1L485.3 357.6L488.1 353.9L500.4 350.1L503.2 347.3M509.8 347.3L511.6 352L517.3 353.9L523.8 352L525.7 347.3M532.3 347.3L537.9 355.8L552 357.1L559.6 364.6L563.3 362L571.8 363.3L574.6 366.1L566.7 375.1L582.1 391.5L595.3 385.8L591.5 374.6L600 376.4L611.2 383.9L619.7 381.1L620.6 385.8L616.5 389L624.4 398L631 396.5L631.9 395.2L640.4 401.8L649.8 401.8L651.6 412.1L658.2 415.3L660.1 422.5L663.9 429.1L671.4 428.5L680.8 418.3L686.4 428.1L692 429.6L691.7 439L702.4 440.3L705.2 432.8L709.9 429.6L725.9 427.7L731.5 434.1L737.2 432.2L739 427.2L758.2 426.6M434.6 375.5L425.2 383.9L428.9 394.3L438.3 400.9L433.6 410.3L442.1 426.2L456.2 435.6L463.7 446L472.2 452.9L475.9 452.9L483.4 462.9L491 470.4L501.3 473.6L506.9 469.1L514.5 472.3L518.2 461.9L522.9 461L525.7 449.7L531.4 452.9L535.1 450.7L548.3 456.7L553 456.3L566.1 462.9L571.8 463.8L578.3 460.1L592.4 466.6M425.2 383.9L431.8 387.7L428.9 394.3M592.4 466.6L597.1 460.1L612.2 459.1L626.3 453.5L628.2 449.7L633.8 446L636.6 435.6L641.3 432.8L649.8 423.4L660.1 422.5M592.4 466.6L593.4 472.3L589.6 482.6L600 502.3L621.6 516.4L652.6 516.1L659.2 512.7L657.3 504.8L660.1 501.4L680.8 498.6L686.4 491.1L696.7 495.8L710.8 487.3L718.4 475.1L727.8 472.8L735.3 476L749.4 472.3L758.2 480.7M600 502.3L596.2 508.9L598.1 517.4L584.9 519.3L580.2 516.4L575.5 519.3L584.9 527.7L582.1 532.4L575.5 533.4L577.4 554L569.9 555.9L563.3 563.4L559.6 565.3L560.5 574.7L569.9 563.4L578.3 582.2M483.4 462.9L480.6 475.1L470.3 473.6L468.4 483.6L445.9 496.7L455.3 514.6L451.5 518.3L456.8 521.1L456.2 529.6L447.7 525.8L446.8 520.2L438.3 522.5L434.6 518.7L428.9 517.9L427.4 523L406.4 524.3L394.2 534.3L383.8 534.3L378.2 527.7M378.2 566.2L384.8 567.2L389.5 558.7L409.2 557.8L425.2 551.2L425.2 559.7L434.6 571.9L479.7 581.3L509.8 588.8L520.1 576.6L542.6 576.6L553.9 570.9L559.6 574.7M479.2 581.8L467.9 593.1L470.3 597.8L476.3 599.7L471.6 608.1L476.3 610.9L475.4 619.4L485.7 627.9L480.1 629.7M476 637.3L478.2 639.1L491.4 635.9L502.7 637.3L508.3 635.4L511.1 628.8L518.6 636.3L523.3 634.1L529.9 639.7L536.5 637.3L538.4 630.7L535.5 624.7L547.8 619L549.6 608.1L546.8 598.7L570.3 587.5L569.4 582.8L578.2 581.8M551.5 662.3L551.9 651.4L557.5 650.4M578.5 582.7L599.7 599L605.5 610.1L614.4 611.9L624.7 621.3L644.7 622.5L652.7 613.4L658.6 613.1L664.5 612.7L668.8 607.9L674.4 609.4L684.6 600L706.6 600.8L708.5 602.8M708.5 602.8L716.5 599.5L721.4 601.8L728.3 594.6L736.2 596.6L740.7 592.6M708.5 602.8L724.9 622.8L727.1 621.8L726.8 636.1L752.9 653.9L747.6 662.3M658.6 613.1L663.2 622.3L661.6 631.5L668 634.6L664.5 642.1L679.1 650.5L669.8 650.7L666 662.3M558.2 651L570.1 662.3L579 650L593.8 649.3L623.5 659.6L630.2 654.2L635.8 657.9L638.5 654.2L646.7 658.9L653.7 657.6L656.6 662.3"/>
<path class="coast" d="M-2.7 201.3L0.1 207L4.8 216.4L11.4 233.3L18.9 242.7L35.8 243.6L54.6 253L64 269L54.6 291.5L35.8 304.7L20.8 327.3L48.9 331.9L36.7 347.4M11.4 233.3L0.1 246.4L8.5 254.9L18.9 242.7M80.9 347.4L103.4 332.9L124.1 322.6L137.3 308.5L148.5 291.5L157.9 272.8L163.6 257.7L166.4 247.4L177.7 242.7L178.2 269L192.7 278.4L206.8 265.2L206.8 251.1L193.3 247.4L193.3 224.8L212.4 216.4L244.4 216L256.6 202.3L280.1 202.3L298 211.7L300.8 194.8L315.4 180.7L304.5 167.5L315.4 158.5L303.6 139.3L303.6 114.9L285.7 100.8L282.9 77.3M282.8 77.4L282.8 52.2L287.5 36.6L298.2 26.2M298.2 26.2L303.8 21.3L329.7 16.6L342.7 -0.1M367.6 -0.1L367.6 12.8L358.7 34.4L358.7 51.9L379.4 51.9L379.4 70L356.4 78.9L348.6 94.3M348.7 94.2L340.2 106.4L329.9 131.8L349.6 144L350.6 159.1L378.2 170.3M340.2 106.4L360 101.4L375 112.1L374.1 128.4L352.5 128.4L340.2 106.4M418.7 -0.1L431 29.6L452.2 52.5L443.3 70L454.7 92.2M579.4 -0.1L571.9 38.8L557.1 70L513.6 70L495.5 92.2M378.2 170.3L382 172.2L379.1 186.3L378.2 189.1L396.1 189.1L414.8 175L428.9 167.5L452.4 162.8L466.5 149.7L477.8 167.5L464.6 176L479.7 184.4L501.3 189.5L531.4 176L560.5 171.3L584 154.4L613.1 145.3L641.3 141.2L654.1 167.5L674.2 167.5L690.5 159.6L699.9 137.1L725.9 123L737.2 96.1L736.2 79.6M434.4 73.9L388 95.5L394.2 121.5L413.9 125.2L434.6 117.1L426.7 107L440.2 94.6L434.4 73.9M454.7 92.1L454.9 109.6L498.5 109.6L495.5 92.1M385.3 141.6L405.1 136.1L422.9 141.8L413.9 149.7L396.6 154.4L385.3 141.6M633.1 -0.1L639 21.3L656.1 10.9L656.1 -0.1M755.8 -0.1L747.3 21L735 38.8L735 70L736.2 79.6M797.8 -0.1L802.9 3.9L813.6 21.3L833.8 25.8L851.6 12.4L851.6 -0.1M-3.7 363.3L0.1 362.3L33 353.9L38.6 347.3M80.9 347.3L62.1 353.9L56.5 371.7L53.6 392.4L38.6 401.8L21.7 406.5L6.7 414L0.1 437.5L-0.9 445M427.9 662.3L422.8 654.2L426 636.3L440.6 636.3L457.9 623.5L474.8 627.9L469.8 640.5L472.6 658.9L474.8 662.3M492.9 662.3L495.5 645.7L518.6 662.3"/>
<polygon points="0,212.3 385,79.6 752.5,79.6 735,504.3 245,610.4" fill="none" stroke="#ff0d0d" stroke-width="1.35" stroke-linejoin="miter"/>
</g>
<line class="tick" x1="175" y1="0" x2="175" y2="10"/>
<line class="tick" x1="175" y1="653.5" x2="175" y2="663.5"/>
<line class="tick" x1="350" y1="0" x2="350" y2="10"/>
<line class="tick" x1="350" y1="653.5" x2="350" y2="663.5"/>
<line class="tick" x1="525" y1="0" x2="525" y2="10"/>
<line class="tick" x1="525" y1="653.5" x2="525" y2="663.5"/>
<line class="tick" x1="700" y1="0" x2="700" y2="10"/>
<line class="tick" x1="700" y1="653.5" x2="700" y2="663.5"/>
<line class="tick" x1="0" y1="530.8" x2="10" y2="530.8"/>
<line class="tick" x1="865" y1="530.8" x2="875" y2="530.8"/>
<line class="tick" x1="0" y1="398.1" x2="10" y2="398.1"/>
<line class="tick" x1="865" y1="398.1" x2="875" y2="398.1"/>
<line class="tick" x1="0" y1="265.4" x2="10" y2="265.4"/>
<line class="tick" x1="865" y1="265.4" x2="875" y2="265.4"/>
<line class="tick" x1="0" y1="132.7" x2="10" y2="132.7"/>
<line class="tick" x1="865" y1="132.7" x2="875" y2="132.7"/>
<rect class="frame" x="0" y="0" width="875" height="663.5"/>
<circle cx="325.4" cy="243.7" r="13.2" fill="#000"/>
<circle cx="411.3" cy="432" r="13.2" fill="#000"/>
<circle cx="273.2" cy="457" r="13.2" fill="#000"/>
<text class="wl" x="357.5" y="237.6">well 2</text>
<text class="wl" x="341.8" y="401.1">well 1</text>
<text class="wl" x="186.2" y="508">well 3</text>
<text class="ti" x="16" y="61.9">z = 10000 m</text>
<text class="tk" transform="translate(-52.3 16.6) scale(0.865 1)" text-anchor="middle">57.5°</text>
<text class="tk" transform="translate(-52.3 142.6) scale(0.865 1)" text-anchor="middle">55°</text>
<text class="tk" transform="translate(-52.3 279.1) scale(0.865 1)" text-anchor="middle">52,5°</text>
<text class="tk" transform="translate(-52.3 408.2) scale(0.865 1)" text-anchor="middle">50°</text>
<text class="tk" transform="translate(-52.3 545.1) scale(0.865 1)" text-anchor="middle">47,5°</text>
<text class="tk" transform="translate(-52.3 671.8) scale(0.865 1)" text-anchor="middle">45°</text>
<text class="tk" transform="translate(-8.5 709.3) scale(0.865 1)" text-anchor="start">0°</text>
<text class="tk" transform="translate(166.5 709.3) scale(0.865 1)" text-anchor="start">5°</text>
<text class="tk" transform="translate(324.8 709.3) scale(0.865 1)" text-anchor="start">10°</text>
<text class="tk" transform="translate(501.9 709.3) scale(0.865 1)" text-anchor="start">15°</text>
<text class="tk" transform="translate(675 709.3) scale(0.865 1)" text-anchor="start">20°</text>
<text class="tk" transform="translate(850.5 709.3) scale(0.865 1)" text-anchor="start">25°</text>
</g>
<g>
<rect x="257.3" y="1709.6" width="138.6" height="54.8" fill="#fef4a5"/>
<rect x="395.4" y="1709.6" width="131.1" height="54.8" fill="#f6dc7a"/>
<rect x="526" y="1709.6" width="131.1" height="54.8" fill="#f1c05f"/>
<rect x="656.5" y="1709.6" width="131.1" height="54.8" fill="#efa854"/>
<rect x="787.1" y="1709.6" width="131.1" height="54.8" fill="#e88c53"/>
<rect x="917.7" y="1709.6" width="131.1" height="54.8" fill="#df764e"/>
<rect x="1048.2" y="1709.6" width="131.1" height="54.8" fill="#c7574a"/>
<rect x="1178.8" y="1709.6" width="131.1" height="54.8" fill="#a54242"/>
<rect x="1309.4" y="1709.6" width="131.1" height="54.8" fill="#823833"/>
<rect x="1440" y="1709.6" width="131.1" height="54.8" fill="#5f2e25"/>
<rect x="1570.5" y="1709.6" width="131.1" height="54.8" fill="#3e2115"/>
<rect x="1701.1" y="1709.6" width="126.6" height="54.8" fill="#211608"/>
<rect x="257.3" y="1709.6" width="1569.9" height="54.8" fill="none" stroke="#000" stroke-width="1.2"/>
<text class="cb" x="242" y="1690">0</text>
<text class="cb" x="487.5" y="1690">0.5</text>
<text class="cb" x="766" y="1690">1</text>
<text class="cb" x="1010" y="1690">1.5</text>
<text class="cb" x="1294" y="1690">2</text>
<text class="cb" x="1534" y="1690">2.5</text>
<text class="cb" x="1809" y="1690">3</text>
<text class="cb" x="350.5" y="1832.1" style="fill:#000">normal faulting</text>
<text class="cb" x="939.5" y="1832.1" style="fill:#000">strike-slip</text>
<text class="cb" x="1397" y="1832.1" style="fill:#000">reverse faulting</text>
<text x="943" y="1627.8" style="font-size:78px;fill:#000">RSR [-]</text>
</g>
</svg></body></html>
